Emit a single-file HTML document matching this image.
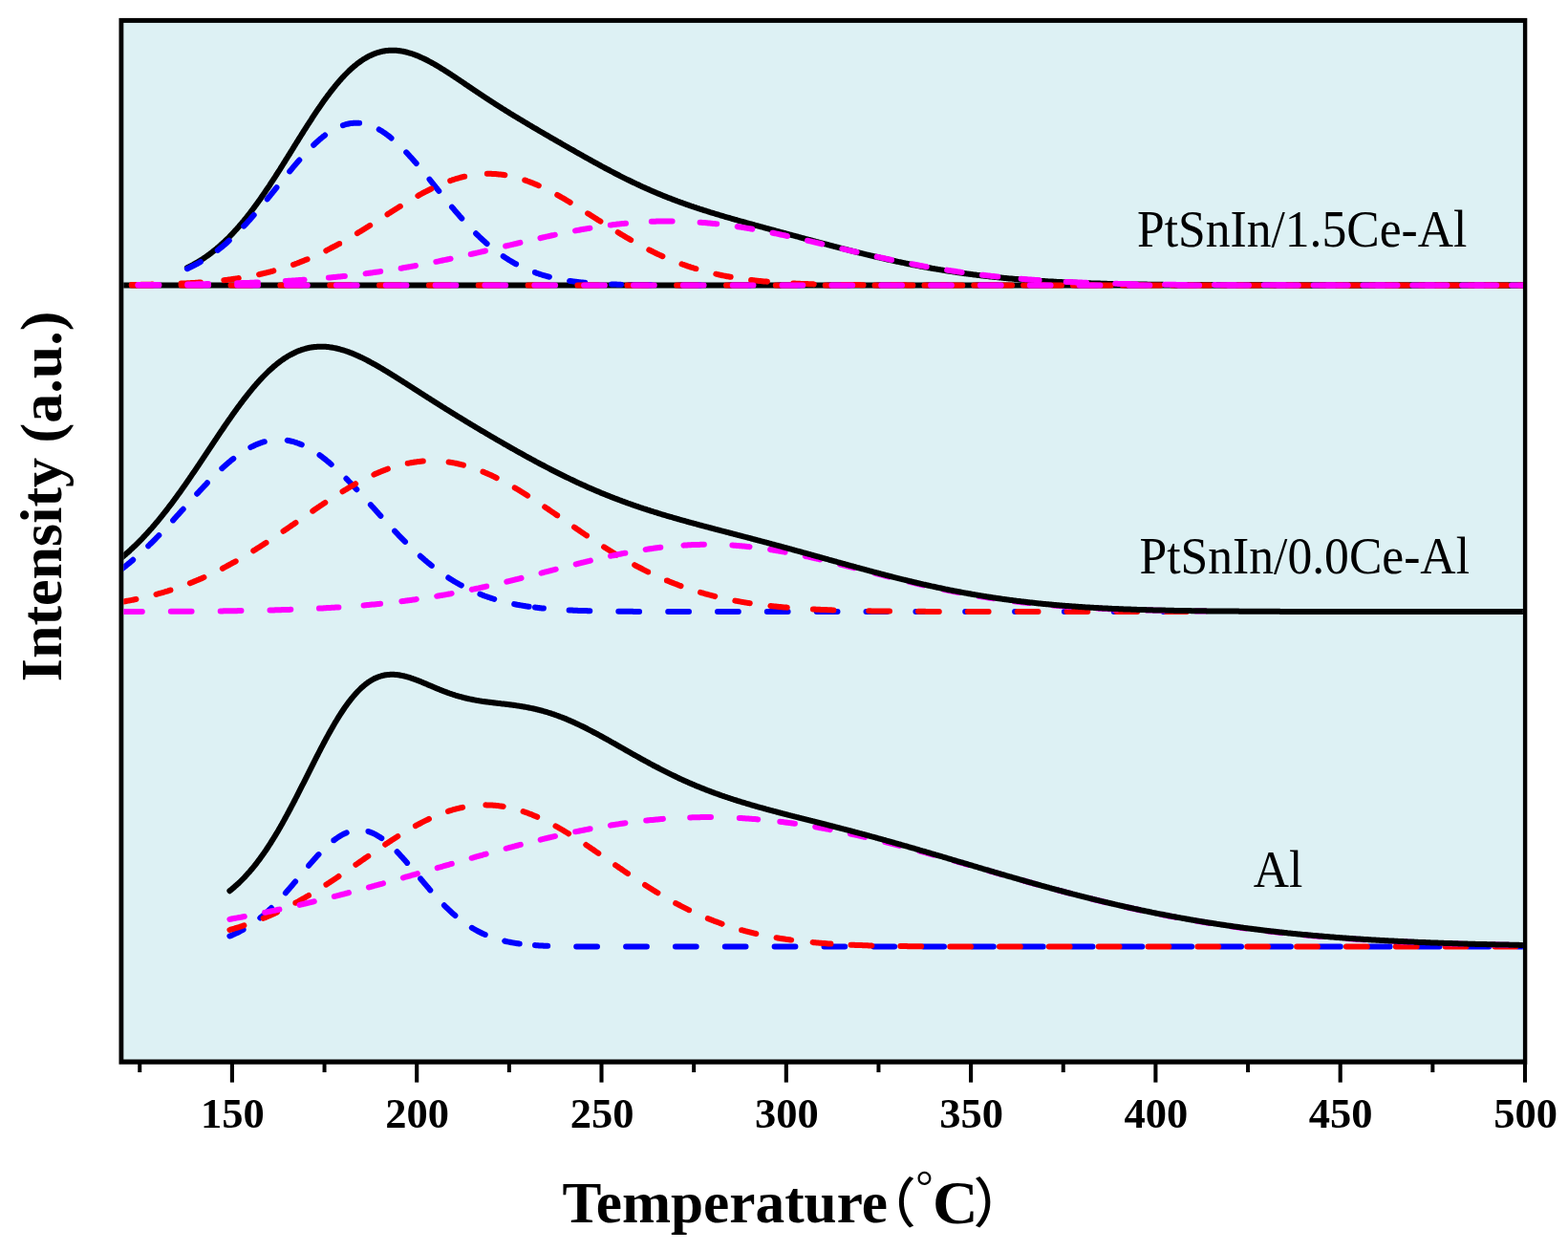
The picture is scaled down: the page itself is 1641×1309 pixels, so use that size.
<!DOCTYPE html>
<html><head><meta charset="utf-8"><title>TPR</title>
<style>
html,body{margin:0;padding:0;background:#fff;}
body{width:1641px;height:1309px;overflow:hidden;}
svg{display:block;}
.tl{font-family:"Liberation Serif",serif;font-weight:bold;font-size:44.5px;text-anchor:middle;fill:#000;}
.lab{font-family:"Liberation Serif",serif;font-size:51.6px;fill:#000;}
.ax{font-family:"Liberation Serif",serif;font-weight:bold;font-size:61.3px;fill:#000;}
.par{font-family:"Noto Sans CJK SC",sans-serif;font-size:56px;font-weight:500;fill:#000;}
.deg{font-family:"Liberation Serif",serif;font-size:46px;fill:#000;}
</style></head><body>
<svg width="1641" height="1309" viewBox="0 0 1641 1309">
<defs><clipPath id="c"><rect x="129.3" y="23.9" width="1464.6" height="1084.6"/></clipPath></defs>
<rect width="1641" height="1309" fill="#fff"/>
<rect x="124.5" y="18.9" width="1473.8" height="1094.8" fill="#000"/>
<rect x="129.3" y="23.9" width="1464.6" height="1084.6" fill="#DDF1F4"/>
<g clip-path="url(#c)" fill="none" stroke-width="6.0" stroke-linecap="round" stroke-linejoin="round">
<path d="M127.0 298.4 L1596.0 298.4" stroke="#000" stroke-linecap="butt"/>
<path d="M195.9 280.1 L196.9 279.6 L197.9 279.1 L198.9 278.6 L199.9 278.1 L200.9 277.6 L201.9 277.1 L202.9 276.5 L203.9 276.0 L204.9 275.4 L205.9 274.8 L206.9 274.2 L207.9 273.6 L208.9 273.0 L209.9 272.4 L210.9 271.8 L211.9 271.1 L212.9 270.5 L213.9 269.8 L214.9 269.1 L215.9 268.4 L216.9 267.7 L217.9 267.0 L218.9 266.3 L219.9 265.5 L220.9 264.8 L221.9 264.0 L222.9 263.2 L223.9 262.4 L224.9 261.6 L225.9 260.8 L226.9 260.0 L227.9 259.1 L228.9 258.3 L229.9 257.4 L230.9 256.5 L231.9 255.6 L232.9 254.7 L233.9 253.8 L234.9 252.9 L235.9 251.9 L236.9 250.9 L237.9 250.0 L238.9 249.0 L239.9 248.0 L240.9 246.9 L241.9 245.9 L242.9 244.9 L243.9 243.8 L244.9 242.7 L245.9 241.6 L246.9 240.5 L247.9 239.4 L248.9 238.3 L249.9 237.2 L250.9 236.0 L251.9 234.8 L252.9 233.7 L253.9 232.5 L254.9 231.3 L255.9 230.0 L256.9 228.8 L257.9 227.6 L258.9 226.3 L259.9 225.0 L260.9 223.8 L261.9 222.5 L262.9 221.2 L263.9 219.8 L264.9 218.5 L265.9 217.2 L266.9 215.8 L267.9 214.4 L268.9 213.1 L269.9 211.7 L270.9 210.3 L271.9 208.9 L272.9 207.5 L273.9 206.0 L274.9 204.6 L275.9 203.1 L276.9 201.7 L277.9 200.2 L278.9 198.7 L279.9 197.2 L280.9 195.8 L281.9 194.3 L282.9 192.7 L283.9 191.2 L284.9 189.7 L285.9 188.2 L286.9 186.6 L287.9 185.1 L288.9 183.5 L289.9 182.0 L290.9 180.4 L291.9 178.8 L292.9 177.3 L293.9 175.7 L294.9 174.1 L295.9 172.5 L296.9 170.9 L297.9 169.3 L298.9 167.7 L299.9 166.1 L300.9 164.5 L301.9 162.9 L302.9 161.3 L303.9 159.7 L304.9 158.1 L305.9 156.5 L306.9 154.9 L307.9 153.2 L308.9 151.6 L309.9 150.0 L310.9 148.4 L311.9 146.8 L312.9 145.2 L313.9 143.6 L314.9 142.0 L315.9 140.4 L316.9 138.8 L317.9 137.2 L318.9 135.7 L319.9 134.1 L320.9 132.5 L321.9 130.9 L322.9 129.4 L323.9 127.8 L324.9 126.3 L325.9 124.8 L326.9 123.2 L327.9 121.7 L328.9 120.2 L329.9 118.7 L330.9 117.2 L331.9 115.7 L332.9 114.2 L333.9 112.8 L334.9 111.3 L335.9 109.9 L336.9 108.4 L337.9 107.0 L338.9 105.6 L339.9 104.2 L340.9 102.8 L341.9 101.5 L342.9 100.1 L343.9 98.8 L344.9 97.5 L345.9 96.2 L346.9 94.9 L347.9 93.6 L348.9 92.3 L349.9 91.1 L350.9 89.8 L351.9 88.6 L352.9 87.4 L353.9 86.3 L354.9 85.1 L355.9 84.0 L356.9 82.8 L357.9 81.7 L358.9 80.6 L359.9 79.6 L360.9 78.5 L361.9 77.5 L362.9 76.5 L363.9 75.5 L364.9 74.5 L365.9 73.6 L366.9 72.6 L367.9 71.7 L368.9 70.8 L369.9 70.0 L370.9 69.1 L371.9 68.3 L372.9 67.5 L373.9 66.7 L374.9 65.9 L375.9 65.2 L376.9 64.5 L377.9 63.8 L378.9 63.1 L379.9 62.4 L380.9 61.8 L381.9 61.2 L382.9 60.6 L383.9 60.0 L384.9 59.5 L385.9 58.9 L386.9 58.4 L387.9 58.0 L388.9 57.5 L389.9 57.1 L390.9 56.6 L391.9 56.2 L392.9 55.9 L393.9 55.5 L394.9 55.2 L395.9 54.9 L396.9 54.6 L397.9 54.3 L398.9 54.1 L399.9 53.8 L400.9 53.6 L401.9 53.5 L402.9 53.3 L403.9 53.1 L404.9 53.0 L405.9 52.9 L406.9 52.8 L407.9 52.8 L408.9 52.7 L409.9 52.7 L410.9 52.7 L411.9 52.7 L412.9 52.7 L413.9 52.8 L414.9 52.8 L415.9 52.9 L416.9 53.0 L417.9 53.2 L418.9 53.3 L419.9 53.4 L420.9 53.6 L421.9 53.8 L422.9 54.0 L423.9 54.2 L424.9 54.5 L425.9 54.7 L426.9 55.0 L427.9 55.3 L428.9 55.6 L429.9 55.9 L430.9 56.2 L431.9 56.5 L432.9 56.9 L433.9 57.2 L434.9 57.6 L435.9 58.0 L436.9 58.4 L437.9 58.8 L438.9 59.2 L439.9 59.7 L440.9 60.1 L441.9 60.6 L442.9 61.1 L443.9 61.5 L444.9 62.0 L445.9 62.5 L446.9 63.0 L447.9 63.5 L448.9 64.1 L449.9 64.6 L450.9 65.1 L451.9 65.7 L452.9 66.2 L453.9 66.8 L454.9 67.4 L455.9 68.0 L456.9 68.5 L457.9 69.1 L458.9 69.7 L459.9 70.3 L460.9 71.0 L461.9 71.6 L462.9 72.2 L463.9 72.8 L464.9 73.4 L465.9 74.1 L466.9 74.7 L467.9 75.3 L468.9 76.0 L469.9 76.6 L470.9 77.3 L471.9 77.9 L472.9 78.6 L473.9 79.3 L474.9 79.9 L475.9 80.6 L476.9 81.2 L477.9 81.9 L478.9 82.6 L479.9 83.3 L480.9 83.9 L481.9 84.6 L482.9 85.3 L483.9 85.9 L484.9 86.6 L485.9 87.3 L486.9 88.0 L487.9 88.7 L488.9 89.3 L489.9 90.0 L490.9 90.7 L491.9 91.4 L492.9 92.0 L493.9 92.7 L494.9 93.4 L495.9 94.1 L496.9 94.7 L497.9 95.4 L498.9 96.1 L499.9 96.7 L500.9 97.4 L501.9 98.1 L502.9 98.7 L503.9 99.4 L504.9 100.1 L505.9 100.7 L506.9 101.4 L507.9 102.1 L508.9 102.7 L509.9 103.4 L510.9 104.0 L511.9 104.7 L512.9 105.3 L513.9 106.0 L514.9 106.6 L515.9 107.3 L516.9 107.9 L517.9 108.6 L518.9 109.2 L519.9 109.9 L520.9 110.5 L521.9 111.1 L522.9 111.8 L523.9 112.4 L524.9 113.0 L525.9 113.7 L526.9 114.3 L527.9 114.9 L528.9 115.5 L529.9 116.2 L530.9 116.8 L531.9 117.4 L532.9 118.0 L533.9 118.7 L534.9 119.3 L535.9 119.9 L536.9 120.5 L537.9 121.1 L538.9 121.7 L539.9 122.3 L540.9 122.9 L541.9 123.5 L542.9 124.1 L543.9 124.7 L544.9 125.3 L545.9 125.9 L546.9 126.5 L547.9 127.1 L548.9 127.7 L549.9 128.3 L550.9 128.9 L551.9 129.5 L552.9 130.1 L553.9 130.7 L554.9 131.3 L555.9 131.9 L556.9 132.5 L557.9 133.1 L558.9 133.7 L559.9 134.3 L560.9 134.8 L561.9 135.4 L562.9 136.0 L563.9 136.6 L564.9 137.2 L565.9 137.8 L566.9 138.4 L567.9 138.9 L568.9 139.5 L569.9 140.1 L570.9 140.7 L571.9 141.3 L572.9 141.8 L573.9 142.4 L574.9 143.0 L575.9 143.6 L576.9 144.2 L577.9 144.7 L578.9 145.3 L579.9 145.9 L580.9 146.5 L581.9 147.0 L582.9 147.6 L583.9 148.2 L584.9 148.8 L585.9 149.3 L586.9 149.9 L587.9 150.5 L588.9 151.1 L589.9 151.6 L590.9 152.2 L591.9 152.8 L592.9 153.4 L593.9 153.9 L594.9 154.5 L595.9 155.1 L596.9 155.6 L597.9 156.2 L598.9 156.8 L599.9 157.3 L600.9 157.9 L601.9 158.5 L602.9 159.1 L603.9 159.6 L604.9 160.2 L605.9 160.7 L606.9 161.3 L607.9 161.9 L608.9 162.4 L609.9 163.0 L610.9 163.6 L611.9 164.1 L612.9 164.7 L613.9 165.2 L614.9 165.8 L615.9 166.4 L616.9 166.9 L617.9 167.5 L618.9 168.0 L619.9 168.6 L620.9 169.1 L621.9 169.7 L622.9 170.2 L623.9 170.8 L624.9 171.3 L625.9 171.9 L626.9 172.4 L627.9 173.0 L628.9 173.5 L629.9 174.1 L630.9 174.6 L631.9 175.1 L632.9 175.7 L633.9 176.2 L634.9 176.7 L635.9 177.3 L636.9 177.8 L637.9 178.3 L638.9 178.9 L639.9 179.4 L640.9 179.9 L641.9 180.4 L642.9 181.0 L643.9 181.5 L644.9 182.0 L645.9 182.5 L646.9 183.0 L647.9 183.5 L648.9 184.1 L649.9 184.6 L650.9 185.1 L651.9 185.6 L652.9 186.1 L653.9 186.6 L654.9 187.1 L655.9 187.6 L656.9 188.1 L657.9 188.5 L658.9 189.0 L659.9 189.5 L660.9 190.0 L661.9 190.5 L662.9 191.0 L663.9 191.4 L664.9 191.9 L665.9 192.4 L666.9 192.9 L667.9 193.3 L668.9 193.8 L669.9 194.3 L670.9 194.7 L671.9 195.2 L672.9 195.6 L673.9 196.1 L674.9 196.5 L675.9 197.0 L676.9 197.4 L677.9 197.9 L678.9 198.3 L679.9 198.8 L680.9 199.2 L681.9 199.6 L682.9 200.1 L683.9 200.5 L684.9 200.9 L685.9 201.4 L686.9 201.8 L687.9 202.2 L688.9 202.6 L689.9 203.0 L690.9 203.4 L691.9 203.9 L692.9 204.3 L693.9 204.7 L694.9 205.1 L695.9 205.5 L696.9 205.9 L697.9 206.3 L698.9 206.7 L699.9 207.1 L700.9 207.4 L701.9 207.8 L702.9 208.2 L703.9 208.6 L704.9 209.0 L705.9 209.4 L706.9 209.7 L707.9 210.1 L708.9 210.5 L709.9 210.8 L710.9 211.2 L711.9 211.6 L712.9 211.9 L713.9 212.3 L714.9 212.7 L715.9 213.0 L716.9 213.4 L717.9 213.7 L718.9 214.1 L719.9 214.4 L720.9 214.8 L721.9 215.1 L722.9 215.5 L723.9 215.8 L724.9 216.1 L725.9 216.5 L726.9 216.8 L727.9 217.1 L728.9 217.5 L729.9 217.8 L730.9 218.1 L731.9 218.5 L732.9 218.8 L733.9 219.1 L734.9 219.4 L735.9 219.8 L736.9 220.1 L737.9 220.4 L738.9 220.7 L739.9 221.0 L740.9 221.3 L741.9 221.6 L742.9 222.0 L743.9 222.3 L744.9 222.6 L745.9 222.9 L746.9 223.2 L747.9 223.5 L748.9 223.8 L749.9 224.1 L750.9 224.4 L751.9 224.7 L752.9 225.0 L753.9 225.3 L754.9 225.6 L755.9 225.9 L756.9 226.2 L757.9 226.5 L758.9 226.8 L759.9 227.1 L760.9 227.4 L761.9 227.6 L762.9 227.9 L763.9 228.2 L764.9 228.5 L765.9 228.8 L766.9 229.1 L767.9 229.4 L768.9 229.7 L769.9 229.9 L770.9 230.2 L771.9 230.5 L772.9 230.8 L773.9 231.1 L774.9 231.4 L775.9 231.6 L776.9 231.9 L777.9 232.2 L778.9 232.5 L779.9 232.7 L780.9 233.0 L781.9 233.3 L782.9 233.6 L783.9 233.9 L784.9 234.1 L785.9 234.4 L786.9 234.7 L787.9 235.0 L788.9 235.2 L789.9 235.5 L790.9 235.8 L791.9 236.1 L792.9 236.3 L793.9 236.6 L794.9 236.9 L795.9 237.2 L796.9 237.4 L797.9 237.7 L798.9 238.0 L799.9 238.3 L800.9 238.5 L801.9 238.8 L802.9 239.1 L803.9 239.3 L804.9 239.6 L805.9 239.9 L806.9 240.2 L807.9 240.4 L808.9 240.7 L809.9 241.0 L810.9 241.2 L811.9 241.5 L812.9 241.8 L813.9 242.1 L814.9 242.3 L815.9 242.6 L816.9 242.9 L817.9 243.1 L818.9 243.4 L819.9 243.7 L820.9 243.9 L821.9 244.2 L822.9 244.5 L823.9 244.8 L824.9 245.0 L825.9 245.3 L826.9 245.6 L827.9 245.8 L828.9 246.1 L829.9 246.4 L830.9 246.6 L831.9 246.9 L832.9 247.2 L833.9 247.4 L834.9 247.7 L835.9 248.0 L836.9 248.3 L837.9 248.5 L838.9 248.8 L839.9 249.1 L840.9 249.3 L841.9 249.6 L842.9 249.9 L843.9 250.1 L844.9 250.4 L845.9 250.7 L846.9 250.9 L847.9 251.2 L848.9 251.5 L849.9 251.7 L850.9 252.0 L851.9 252.3 L852.9 252.5 L853.9 252.8 L854.9 253.1 L855.9 253.3 L856.9 253.6 L857.9 253.9 L858.9 254.1 L859.9 254.4 L860.9 254.7 L861.9 254.9 L862.9 255.2 L863.9 255.4 L864.9 255.7 L865.9 256.0 L866.9 256.2 L867.9 256.5 L868.9 256.8 L869.9 257.0 L870.9 257.3 L871.9 257.5 L872.9 257.8 L873.9 258.1 L874.9 258.3 L875.9 258.6 L876.9 258.8 L877.9 259.1 L878.9 259.4 L879.9 259.6 L880.9 259.9 L881.9 260.1 L882.9 260.4 L883.9 260.6 L884.9 260.9 L885.9 261.1 L886.9 261.4 L887.9 261.7 L888.9 261.9 L889.9 262.2 L890.9 262.4 L891.9 262.7 L892.9 262.9 L893.9 263.2 L894.9 263.4 L895.9 263.7 L896.9 263.9 L897.9 264.2 L898.9 264.4 L899.9 264.7 L900.9 264.9 L901.9 265.1 L902.9 265.4 L903.9 265.6 L904.9 265.9 L905.9 266.1 L906.9 266.4 L907.9 266.6 L908.9 266.8 L909.9 267.1 L910.9 267.3 L911.9 267.6 L912.9 267.8 L913.9 268.0 L914.9 268.3 L915.9 268.5 L916.9 268.7 L917.9 269.0 L918.9 269.2 L919.9 269.4 L920.9 269.7 L921.9 269.9 L922.9 270.1 L923.9 270.4 L924.9 270.6 L925.9 270.8 L926.9 271.0 L927.9 271.3 L928.9 271.5 L929.9 271.7 L930.9 271.9 L931.9 272.1 L932.9 272.4 L933.9 272.6 L934.9 272.8 L935.9 273.0 L936.9 273.2 L937.9 273.5 L938.9 273.7 L939.9 273.9 L940.9 274.1 L941.9 274.3 L942.9 274.5 L943.9 274.7 L944.9 274.9 L945.9 275.1 L946.9 275.3 L947.9 275.6 L948.9 275.8 L949.9 276.0 L950.9 276.2 L951.9 276.4 L952.9 276.6 L953.9 276.8 L954.9 277.0 L955.9 277.2 L956.9 277.4 L957.9 277.6 L958.9 277.7 L959.9 277.9 L960.9 278.1 L961.9 278.3 L962.9 278.5 L963.9 278.7 L964.9 278.9 L965.9 279.1 L966.9 279.3 L967.9 279.4 L968.9 279.6 L969.9 279.8 L970.9 280.0 L971.9 280.2 L972.9 280.3 L973.9 280.5 L974.9 280.7 L975.9 280.9 L976.9 281.0 L977.9 281.2 L978.9 281.4 L979.9 281.6 L980.9 281.7 L981.9 281.9 L982.9 282.1 L983.9 282.2 L984.9 282.4 L985.9 282.6 L986.9 282.7 L987.9 282.9 L988.9 283.1 L989.9 283.2 L990.9 283.4 L991.9 283.5 L992.9 283.7 L993.9 283.8 L994.9 284.0 L995.9 284.1 L996.9 284.3 L997.9 284.4 L998.9 284.6 L999.9 284.7 L1000.9 284.9 L1001.9 285.0 L1002.9 285.2 L1003.9 285.3 L1004.9 285.5 L1005.9 285.6 L1006.9 285.8 L1007.9 285.9 L1008.9 286.0 L1009.9 286.2 L1010.9 286.3 L1011.9 286.4 L1012.9 286.6 L1013.9 286.7 L1014.9 286.8 L1015.9 287.0 L1016.9 287.1 L1017.9 287.2 L1018.9 287.4 L1019.9 287.5 L1020.9 287.6 L1021.9 287.7 L1022.9 287.9 L1023.9 288.0 L1024.9 288.1 L1025.9 288.2 L1026.9 288.3 L1027.9 288.5 L1028.9 288.6 L1029.9 288.7 L1030.9 288.8 L1031.9 288.9 L1032.9 289.0 L1033.9 289.1 L1034.9 289.3 L1035.9 289.4 L1036.9 289.5 L1037.9 289.6 L1038.9 289.7 L1039.9 289.8 L1040.9 289.9 L1041.9 290.0 L1042.9 290.1 L1043.9 290.2 L1044.9 290.3 L1045.9 290.4 L1046.9 290.5 L1047.9 290.6 L1048.9 290.7 L1049.9 290.8 L1050.9 290.9 L1051.9 291.0 L1052.9 291.1 L1053.9 291.2 L1054.9 291.3 L1055.9 291.4 L1056.9 291.5 L1057.9 291.5 L1058.9 291.6 L1059.9 291.7 L1060.9 291.8 L1061.9 291.9 L1062.9 292.0 L1063.9 292.1 L1064.9 292.1 L1065.9 292.2 L1066.9 292.3 L1067.9 292.4 L1068.9 292.5 L1069.9 292.5 L1070.9 292.6 L1071.9 292.7 L1072.9 292.8 L1073.9 292.8 L1074.9 292.9 L1075.9 293.0 L1076.9 293.1 L1077.9 293.1 L1078.9 293.2 L1079.9 293.3 L1080.9 293.4 L1081.9 293.4 L1082.9 293.5 L1083.9 293.6 L1084.9 293.6 L1085.9 293.7 L1086.9 293.8 L1087.9 293.8 L1088.9 293.9 L1089.9 293.9 L1090.9 294.0 L1091.9 294.1 L1092.9 294.1 L1093.9 294.2 L1094.9 294.3 L1095.9 294.3 L1096.9 294.4 L1097.9 294.4 L1098.9 294.5 L1099.9 294.5 L1100.9 294.6 L1101.9 294.6 L1102.9 294.7 L1103.9 294.8 L1104.9 294.8 L1105.9 294.9 L1106.9 294.9 L1107.9 295.0 L1108.9 295.0 L1109.9 295.1 L1110.9 295.1 L1111.9 295.2 L1112.9 295.2 L1113.9 295.3 L1114.9 295.3 L1115.9 295.3 L1116.9 295.4 L1117.9 295.4 L1118.9 295.5 L1119.9 295.5 L1120.9 295.6 L1121.9 295.6 L1122.9 295.7 L1123.9 295.7 L1124.9 295.7 L1125.9 295.8 L1126.9 295.8 L1127.9 295.9 L1128.9 295.9 L1129.9 295.9 L1130.9 296.0 L1131.9 296.0 L1132.9 296.0 L1133.9 296.1 L1134.9 296.1 L1135.9 296.2 L1136.9 296.2 L1137.9 296.2 L1138.9 296.3 L1139.9 296.3 L1140.9 296.3 L1141.9 296.4 L1142.9 296.4 L1143.9 296.4 L1144.9 296.5 L1145.9 296.5 L1146.9 296.5 L1147.9 296.5 L1148.9 296.6 L1149.9 296.6 L1150.9 296.6 L1151.9 296.7 L1152.9 296.7 L1153.9 296.7 L1154.9 296.7 L1155.9 296.8 L1156.9 296.8 L1157.9 296.8 L1158.9 296.9 L1159.9 296.9 L1160.9 296.9 L1161.9 296.9 L1162.9 297.0 L1163.9 297.0 L1164.9 297.0 L1165.9 297.0 L1166.9 297.0 L1167.9 297.1 L1168.9 297.1 L1169.9 297.1 L1170.9 297.1 L1171.9 297.2 L1172.9 297.2 L1173.9 297.2 L1174.9 297.2 L1175.9 297.2 L1176.9 297.3 L1177.9 297.3 L1178.9 297.3 L1179.9 297.3 L1180.9 297.3 L1181.9 297.4 L1182.9 297.4 L1183.9 297.4 L1184.9 297.4 L1185.9 297.4 L1186.9 297.4 L1187.9 297.5 L1188.9 297.5 L1189.9 297.5 L1190.9 297.5 L1191.9 297.5 L1192.9 297.5 L1193.9 297.6 L1194.9 297.6 L1195.9 297.6 L1196.9 297.6 L1197.9 297.6 L1198.9 297.6 L1199.9 297.6 L1200.9 297.7 L1201.9 297.7 L1202.9 297.7 L1203.9 297.7 L1204.9 297.7 L1205.9 297.7 L1206.9 297.7 L1207.9 297.7 L1208.9 297.8 L1209.9 297.8 L1210.9 297.8 L1211.9 297.8 L1212.9 297.8 L1213.9 297.8 L1214.9 297.8 L1215.9 297.8 L1216.9 297.8 L1217.9 297.9 L1218.9 297.9 L1219.9 297.9 L1220.9 297.9 L1221.9 297.9 L1222.9 297.9 L1223.9 297.9 L1224.9 297.9 L1225.9 297.9 L1226.9 297.9 L1227.9 297.9 L1228.9 298.0 L1229.9 298.0 L1230.9 298.0 L1231.9 298.0 L1232.9 298.0 L1233.9 298.0 L1234.9 298.0 L1235.9 298.0 L1236.9 298.0 L1237.9 298.0 L1238.9 298.0 L1239.9 298.0 L1240.9 298.0 L1241.9 298.1 L1242.9 298.1 L1243.9 298.1 L1244.9 298.1 L1245.9 298.1 L1246.9 298.1 L1247.9 298.1 L1248.9 298.1 L1249.9 298.1 L1250.9 298.1 L1251.9 298.1 L1252.9 298.1 L1253.9 298.1 L1254.9 298.1 L1255.9 298.1 L1256.9 298.1 L1257.9 298.1 L1258.9 298.2 L1259.9 298.2 L1260.9 298.2 L1261.9 298.2 L1262.9 298.2 L1263.9 298.2 L1264.9 298.2 L1265.9 298.2 L1266.9 298.2 L1267.9 298.2 L1268.9 298.2 L1269.9 298.2 L1270.9 298.2 L1271.9 298.2 L1272.9 298.2 L1273.9 298.2 L1274.9 298.2 L1275.9 298.2 L1276.9 298.2 L1277.9 298.2 L1278.9 298.2 L1279.9 298.2 L1280.9 298.2 L1281.9 298.2 L1282.9 298.2 L1283.9 298.3 L1284.9 298.3 L1285.9 298.3 L1286.9 298.3 L1287.9 298.3 L1288.9 298.3 L1289.9 298.3 L1290.9 298.3 L1291.9 298.3 L1292.9 298.3 L1293.9 298.3 L1294.9 298.3 L1295.9 298.3 L1296.9 298.3 L1297.9 298.3 L1298.9 298.3 L1299.9 298.3 L1300.9 298.3 L1301.9 298.3 L1302.9 298.3 L1303.9 298.3 L1304.9 298.3 L1305.9 298.3 L1306.9 298.3 L1307.9 298.3 L1308.9 298.3 L1309.9 298.3 L1310.9 298.3 L1311.9 298.3 L1312.9 298.3 L1313.9 298.3 L1314.9 298.3 L1315.9 298.3 L1316.9 298.3 L1317.9 298.3 L1318.9 298.3 L1319.9 298.3 L1320.9 298.3 L1321.9 298.3 L1322.9 298.3 L1323.9 298.3 L1324.9 298.3 L1325.9 298.3 L1326.9 298.3 L1327.9 298.3 L1328.9 298.3 L1329.9 298.3 L1330.9 298.3 L1331.9 298.3 L1332.9 298.3 L1333.9 298.4 L1334.9 298.4 L1335.9 298.4 L1336.9 298.4 L1337.9 298.4 L1338.9 298.4 L1339.9 298.4 L1340.9 298.4 L1341.9 298.4 L1342.9 298.4 L1343.9 298.4 L1344.9 298.4 L1345.9 298.4 L1346.9 298.4 L1347.9 298.4 L1348.9 298.4 L1349.9 298.4 L1350.9 298.4 L1351.9 298.4 L1352.9 298.4 L1353.9 298.4 L1354.9 298.4 L1355.9 298.4 L1356.9 298.4 L1357.9 298.4 L1358.9 298.4 L1359.9 298.4 L1360.9 298.4 L1361.9 298.4 L1362.9 298.4 L1363.9 298.4 L1364.9 298.4 L1365.9 298.4 L1366.9 298.4 L1367.9 298.4 L1368.9 298.4 L1369.9 298.4 L1370.9 298.4 L1371.9 298.4 L1372.9 298.4 L1373.9 298.4 L1374.9 298.4 L1375.9 298.4 L1376.9 298.4 L1377.9 298.4 L1378.9 298.4 L1379.9 298.4 L1380.9 298.4 L1381.9 298.4 L1382.9 298.4 L1383.9 298.4 L1384.9 298.4 L1385.9 298.4 L1386.9 298.4 L1387.9 298.4 L1388.9 298.4 L1389.9 298.4 L1390.9 298.4 L1391.9 298.4 L1392.9 298.4 L1393.9 298.4 L1394.9 298.4 L1395.9 298.4 L1396.9 298.4 L1397.9 298.4 L1398.9 298.4 L1399.9 298.4 L1400.9 298.4 L1401.9 298.4 L1402.9 298.4 L1403.9 298.4 L1404.9 298.4 L1405.9 298.4 L1406.9 298.4 L1407.9 298.4 L1408.9 298.4 L1409.9 298.4 L1410.9 298.4 L1411.9 298.4 L1412.9 298.4 L1413.9 298.4 L1414.9 298.4 L1415.9 298.4 L1416.9 298.4 L1417.9 298.4 L1418.9 298.4 L1419.9 298.4 L1420.9 298.4 L1421.9 298.4 L1422.9 298.4 L1423.9 298.4 L1424.9 298.4 L1425.9 298.4 L1426.9 298.4 L1427.9 298.4 L1428.9 298.4 L1429.9 298.4 L1430.9 298.4 L1431.9 298.4 L1432.9 298.4 L1433.9 298.4 L1434.9 298.4 L1435.9 298.4 L1436.9 298.4 L1437.9 298.4 L1438.9 298.4 L1439.9 298.4 L1440.9 298.4 L1441.9 298.4 L1442.9 298.4 L1443.9 298.4 L1444.9 298.4 L1445.9 298.4 L1446.9 298.4 L1447.9 298.4 L1448.9 298.4 L1449.9 298.4 L1450.9 298.4 L1451.9 298.4 L1452.9 298.4 L1453.9 298.4 L1454.9 298.4 L1455.9 298.4 L1456.9 298.4 L1457.9 298.4 L1458.9 298.4 L1459.9 298.4 L1460.9 298.4 L1461.9 298.4 L1462.9 298.4 L1463.9 298.4 L1464.9 298.4 L1465.9 298.4 L1466.9 298.4 L1467.9 298.4 L1468.9 298.4 L1469.9 298.4 L1470.9 298.4 L1471.9 298.4 L1472.9 298.4 L1473.9 298.4 L1474.9 298.4 L1475.9 298.4 L1476.9 298.4 L1477.9 298.4 L1478.9 298.4 L1479.9 298.4 L1480.9 298.4 L1481.9 298.4 L1482.9 298.4 L1483.9 298.4 L1484.9 298.4 L1485.9 298.4 L1486.9 298.4 L1487.9 298.4 L1488.9 298.4 L1489.9 298.4 L1490.9 298.4 L1491.9 298.4 L1492.9 298.4 L1493.9 298.4 L1494.9 298.4 L1495.9 298.4 L1496.9 298.4 L1497.9 298.4 L1498.9 298.4 L1499.9 298.4 L1500.9 298.4 L1501.9 298.4 L1502.9 298.4 L1503.9 298.4 L1504.9 298.4 L1505.9 298.4 L1506.9 298.4 L1507.9 298.4 L1508.9 298.4 L1509.9 298.4 L1510.9 298.4 L1511.9 298.4 L1512.9 298.4 L1513.9 298.4 L1514.9 298.4 L1515.9 298.4 L1516.9 298.4 L1517.9 298.4 L1518.9 298.4 L1519.9 298.4 L1520.9 298.4 L1521.9 298.4 L1522.9 298.4 L1523.9 298.4 L1524.9 298.4 L1525.9 298.4 L1526.9 298.4 L1527.9 298.4 L1528.9 298.4 L1529.9 298.4 L1530.9 298.4 L1531.9 298.4 L1532.9 298.4 L1533.9 298.4 L1534.9 298.4 L1535.9 298.4 L1536.9 298.4 L1537.9 298.4 L1538.9 298.4 L1539.9 298.4 L1540.9 298.4 L1541.9 298.4 L1542.9 298.4 L1543.9 298.4 L1544.9 298.4 L1545.9 298.4 L1546.9 298.4 L1547.9 298.4 L1548.9 298.4 L1549.9 298.4 L1550.9 298.4 L1551.9 298.4 L1552.9 298.4 L1553.9 298.4 L1554.9 298.4 L1555.9 298.4 L1556.9 298.4 L1557.9 298.4 L1558.9 298.4 L1559.9 298.4 L1560.9 298.4 L1561.9 298.4 L1562.9 298.4 L1563.9 298.4 L1564.9 298.4 L1565.9 298.4 L1566.9 298.4 L1567.9 298.4 L1568.9 298.4 L1569.9 298.4 L1570.9 298.4 L1571.9 298.4 L1572.9 298.4 L1573.9 298.4 L1574.9 298.4 L1575.9 298.4 L1576.9 298.4 L1577.9 298.4 L1578.9 298.4 L1579.9 298.4 L1580.9 298.4 L1581.9 298.4 L1582.9 298.4 L1583.9 298.4 L1584.9 298.4 L1585.9 298.4 L1586.9 298.4 L1587.9 298.4 L1588.9 298.4 L1589.9 298.4 L1590.9 298.4 L1591.9 298.4 L1592.9 298.4 L1593.9 298.4 L1594.9 298.4 L1595.9 298.4 L1596.0 298.4" stroke="#000000"/>
<path d="M195.9 281.2 L196.9 280.7 L197.9 280.2 L198.9 279.8 L199.9 279.3 L200.9 278.8 L201.9 278.3 L202.9 277.8 L203.9 277.3 L204.9 276.8 L205.9 276.2 L206.9 275.7 L207.9 275.1 L208.9 274.6 L209.9 274.0M227.8 261.9 L227.9 261.8 L228.9 261.0 L229.9 260.2 L230.9 259.4 L231.9 258.6 L232.9 257.8 L233.9 257.0 L234.9 256.1 L235.9 255.3 L236.9 254.4 L237.9 253.5 L238.9 252.6 L239.8 251.8M255.2 236.6 L255.9 235.9 L256.9 234.8 L257.9 233.8 L258.9 232.7 L259.9 231.6 L260.9 230.5 L261.9 229.4 L262.9 228.2 L263.9 227.1 L264.9 226.0 L265.7 225.0M279.7 208.4 L279.9 208.1 L280.9 206.9 L281.9 205.7 L282.9 204.4 L283.9 203.2 L284.9 202.0 L285.9 200.7 L286.9 199.5 L287.9 198.2 L288.9 197.0 L289.5 196.2M303.2 179.4 L303.9 178.5 L304.9 177.3 L305.9 176.1 L306.9 174.9 L307.9 173.7 L308.9 172.6 L309.9 171.4 L310.9 170.2 L311.9 169.1 L312.9 167.9 L313.3 167.5M328.2 151.7 L328.9 151.1 L329.9 150.1 L330.9 149.2 L331.9 148.3 L332.9 147.4 L333.9 146.5 L334.9 145.7 L335.9 144.8 L336.9 144.0 L337.9 143.2 L338.9 142.4 L339.9 141.7 L340.1 141.5M358.9 131.1 L359.9 130.8 L360.9 130.5 L361.9 130.2 L362.9 129.9 L363.9 129.7 L364.9 129.5 L365.9 129.3 L366.9 129.1 L367.9 129.0 L368.9 128.9 L369.9 128.8 L370.9 128.7 L371.9 128.7 L372.9 128.7 L373.9 128.7 L374.9 128.7 L375.9 128.8 L376.1 128.8M396.7 135.5 L396.9 135.6 L397.9 136.2 L398.9 136.8 L399.9 137.4 L400.9 138.1 L401.9 138.8 L402.9 139.4 L403.9 140.1 L404.9 140.9 L405.9 141.6 L406.9 142.4 L407.9 143.2 L408.9 144.0 L409.5 144.5M425.2 159.4 L425.9 160.1 L426.9 161.2 L427.9 162.3 L428.9 163.4 L429.9 164.5 L430.9 165.6 L431.9 166.7 L432.9 167.8 L433.9 169.0 L434.9 170.1 L435.7 171.0M449.5 187.7 L449.9 188.2 L450.9 189.5 L451.9 190.7 L452.9 192.0 L453.9 193.2 L454.9 194.4 L455.9 195.7 L456.9 196.9 L457.9 198.2 L458.9 199.4 L459.3 199.9M473.0 216.7 L473.9 217.7 L474.9 218.9 L475.9 220.1 L476.9 221.3 L477.9 222.4 L478.9 223.6 L479.9 224.7 L480.9 225.9 L481.9 227.0 L482.9 228.2 L483.3 228.6M498.1 244.3 L498.9 245.1 L499.9 246.1 L500.9 247.0 L501.9 248.0 L502.9 248.9 L503.9 249.8 L504.9 250.8 L505.9 251.7 L506.9 252.6 L507.9 253.5 L508.9 254.4 L509.6 255.0M526.7 268.2 L526.9 268.3 L527.9 269.0 L528.9 269.6 L529.9 270.3 L530.9 270.9 L531.9 271.5 L532.9 272.2 L533.9 272.8 L534.9 273.4 L535.9 274.0 L536.9 274.5 L537.9 275.1 L538.9 275.7 L539.9 276.2 L540.1 276.3M559.9 285.1 L559.9 285.2 L560.9 285.5 L561.9 285.9 L562.9 286.2 L563.9 286.5 L564.9 286.9 L565.9 287.2 L566.9 287.5 L567.9 287.8 L568.9 288.1 L569.9 288.4 L570.9 288.7 L571.9 289.0 L572.9 289.2 L573.9 289.5 L574.9 289.7M596.1 293.9 L596.9 294.0 L597.9 294.2 L598.9 294.3 L599.9 294.4 L600.9 294.6 L601.9 294.7 L602.9 294.8 L603.9 294.9 L604.9 295.1 L605.9 295.2 L606.9 295.3 L607.9 295.4 L608.9 295.5 L609.9 295.6 L610.9 295.7 L611.9 295.8 L612.3 295.8M640.1 297.5 L640.9 297.5 L641.9 297.5 L642.9 297.6 L643.9 297.6 L644.9 297.6 L645.9 297.7 L646.9 297.7 L647.9 297.7 L648.9 297.7 L649.9 297.8 L650.0 297.8" stroke="#0000FF"/>
<path d="M659.3 298.0 L660.0 298.0 L661.0 298.0 L662.0 298.0 L663.0 298.0 L664.0 298.0 L665.0 298.1 L666.0 298.1 L667.0 298.1 L668.0 298.1 L669.0 298.1 L670.0 298.1 L671.0 298.1 L672.0 298.2 L673.0 298.2 L674.0 298.2 L675.0 298.2 L676.0 298.2 L677.0 298.2 L678.0 298.2 L679.0 298.2 L680.0 298.2 L681.0 298.2 L681.1 298.2M711.1 298.4 L712.0 298.4 L713.0 298.4 L714.0 298.4 L715.0 298.4 L716.0 298.4 L717.0 298.4 L718.0 298.4 L719.0 298.4 L720.0 298.4 L721.0 298.4 L722.0 298.4 L723.0 298.4 L724.0 298.4 L725.0 298.4 L726.0 298.4 L727.0 298.4 L728.0 298.4 L729.0 298.4 L730.0 298.4 L731.0 298.4 L732.0 298.4 L732.9 298.4M763.0 298.4 L763.0 298.4 L764.0 298.4 L765.0 298.4 L766.0 298.4 L767.0 298.4 L768.0 298.4 L769.0 298.4 L770.0 298.4 L771.0 298.4 L772.0 298.4 L773.0 298.4 L774.0 298.4 L775.0 298.4 L776.0 298.4 L777.0 298.4 L778.0 298.4 L779.0 298.4 L780.0 298.4 L781.0 298.4 L782.0 298.4 L783.0 298.4 L784.0 298.4 L784.8 298.4M814.8 298.4 L815.0 298.4 L816.0 298.4 L817.0 298.4 L818.0 298.4 L819.0 298.4 L820.0 298.4 L821.0 298.4 L822.0 298.4 L823.0 298.4 L824.0 298.4 L825.0 298.4 L826.0 298.4 L827.0 298.4 L828.0 298.4 L829.0 298.4 L830.0 298.4 L831.0 298.4 L832.0 298.4 L833.0 298.4 L834.0 298.4 L835.0 298.4 L836.0 298.4 L836.6 298.4M866.7 298.4 L867.0 298.4 L868.0 298.4 L869.0 298.4 L870.0 298.4 L871.0 298.4 L872.0 298.4 L873.0 298.4 L874.0 298.4 L875.0 298.4 L876.0 298.4 L877.0 298.4 L878.0 298.4 L879.0 298.4 L880.0 298.4 L881.0 298.4 L882.0 298.4 L883.0 298.4 L884.0 298.4 L885.0 298.4 L886.0 298.4 L887.0 298.4 L888.0 298.4 L888.5 298.4M918.5 298.4 L919.0 298.4 L920.0 298.4 L921.0 298.4 L922.0 298.4 L923.0 298.4 L924.0 298.4 L925.0 298.4 L926.0 298.4 L927.0 298.4 L928.0 298.4 L929.0 298.4 L930.0 298.4 L931.0 298.4 L932.0 298.4 L933.0 298.4 L934.0 298.4 L935.0 298.4 L936.0 298.4 L937.0 298.4 L938.0 298.4 L939.0 298.4 L940.0 298.4 L940.3 298.4M970.4 298.4 L971.0 298.4 L972.0 298.4 L973.0 298.4 L974.0 298.4 L975.0 298.4 L976.0 298.4 L977.0 298.4 L978.0 298.4 L979.0 298.4 L980.0 298.4 L981.0 298.4 L982.0 298.4 L983.0 298.4 L984.0 298.4 L985.0 298.4 L986.0 298.4 L987.0 298.4 L988.0 298.4 L989.0 298.4 L990.0 298.4 L991.0 298.4 L992.0 298.4 L992.2 298.4M1022.2 298.4 L1023.0 298.4 L1024.0 298.4 L1025.0 298.4 L1026.0 298.4 L1027.0 298.4 L1028.0 298.4 L1029.0 298.4 L1030.0 298.4 L1031.0 298.4 L1032.0 298.4 L1033.0 298.4 L1034.0 298.4 L1035.0 298.4 L1036.0 298.4 L1037.0 298.4 L1038.0 298.4 L1039.0 298.4 L1040.0 298.4 L1041.0 298.4 L1042.0 298.4 L1043.0 298.4 L1044.0 298.4 L1044.0 298.4M1074.1 298.4 L1075.0 298.4 L1076.0 298.4 L1077.0 298.4 L1078.0 298.4 L1079.0 298.4 L1080.0 298.4 L1081.0 298.4 L1082.0 298.4 L1083.0 298.4 L1084.0 298.4 L1085.0 298.4 L1086.0 298.4 L1087.0 298.4 L1088.0 298.4 L1089.0 298.4 L1090.0 298.4 L1091.0 298.4 L1092.0 298.4 L1093.0 298.4 L1094.0 298.4 L1095.0 298.4 L1095.9 298.4M1125.9 298.4 L1126.0 298.4 L1127.0 298.4 L1128.0 298.4 L1129.0 298.4 L1130.0 298.4 L1131.0 298.4 L1132.0 298.4 L1133.0 298.4 L1134.0 298.4 L1135.0 298.4 L1136.0 298.4 L1137.0 298.4 L1138.0 298.4 L1139.0 298.4 L1140.0 298.4 L1141.0 298.4 L1142.0 298.4 L1143.0 298.4 L1144.0 298.4 L1145.0 298.4 L1146.0 298.4 L1147.0 298.4 L1147.7 298.4M1177.8 298.4 L1178.0 298.4 L1179.0 298.4 L1180.0 298.4 L1181.0 298.4 L1182.0 298.4 L1183.0 298.4 L1184.0 298.4 L1185.0 298.4 L1186.0 298.4 L1187.0 298.4 L1188.0 298.4 L1189.0 298.4 L1190.0 298.4 L1191.0 298.4 L1192.0 298.4 L1193.0 298.4 L1194.0 298.4 L1195.0 298.4 L1196.0 298.4 L1197.0 298.4 L1198.0 298.4 L1199.0 298.4 L1199.6 298.4M1229.6 298.4 L1230.0 298.4 L1231.0 298.4 L1232.0 298.4 L1233.0 298.4 L1234.0 298.4 L1235.0 298.4 L1236.0 298.4 L1237.0 298.4 L1238.0 298.4 L1239.0 298.4 L1240.0 298.4 L1241.0 298.4 L1242.0 298.4 L1243.0 298.4 L1244.0 298.4 L1245.0 298.4 L1246.0 298.4 L1247.0 298.4 L1248.0 298.4 L1249.0 298.4 L1250.0 298.4 L1251.0 298.4 L1251.4 298.4M1281.5 298.4 L1282.0 298.4 L1283.0 298.4 L1284.0 298.4 L1285.0 298.4 L1286.0 298.4 L1287.0 298.4 L1288.0 298.4 L1289.0 298.4 L1290.0 298.4 L1291.0 298.4 L1292.0 298.4 L1293.0 298.4 L1294.0 298.4 L1295.0 298.4 L1296.0 298.4 L1297.0 298.4 L1298.0 298.4 L1299.0 298.4 L1300.0 298.4 L1301.0 298.4 L1302.0 298.4 L1303.0 298.4 L1303.3 298.4M1333.3 298.4 L1334.0 298.4 L1335.0 298.4 L1336.0 298.4 L1337.0 298.4 L1338.0 298.4 L1339.0 298.4 L1340.0 298.4 L1341.0 298.4 L1342.0 298.4 L1343.0 298.4 L1344.0 298.4 L1345.0 298.4 L1346.0 298.4 L1347.0 298.4 L1348.0 298.4 L1349.0 298.4 L1350.0 298.4 L1351.0 298.4 L1352.0 298.4 L1353.0 298.4 L1354.0 298.4 L1355.0 298.4 L1355.1 298.4M1385.2 298.4 L1386.0 298.4 L1387.0 298.4 L1388.0 298.4 L1389.0 298.4 L1390.0 298.4 L1391.0 298.4 L1392.0 298.4 L1393.0 298.4 L1394.0 298.4 L1395.0 298.4 L1396.0 298.4 L1397.0 298.4 L1398.0 298.4 L1399.0 298.4 L1400.0 298.4 L1401.0 298.4 L1402.0 298.4 L1403.0 298.4 L1404.0 298.4 L1405.0 298.4 L1406.0 298.4 L1407.0 298.4M1437.0 298.4 L1438.0 298.4 L1439.0 298.4 L1440.0 298.4 L1441.0 298.4 L1442.0 298.4 L1443.0 298.4 L1444.0 298.4 L1445.0 298.4 L1446.0 298.4 L1447.0 298.4 L1448.0 298.4 L1449.0 298.4 L1450.0 298.4 L1451.0 298.4 L1452.0 298.4 L1453.0 298.4 L1454.0 298.4 L1455.0 298.4 L1456.0 298.4 L1457.0 298.4 L1458.0 298.4 L1458.8 298.4M1488.9 298.4 L1489.0 298.4 L1490.0 298.4 L1491.0 298.4 L1492.0 298.4 L1493.0 298.4 L1494.0 298.4 L1495.0 298.4 L1496.0 298.4 L1497.0 298.4 L1498.0 298.4 L1499.0 298.4 L1500.0 298.4 L1501.0 298.4 L1502.0 298.4 L1503.0 298.4 L1504.0 298.4 L1505.0 298.4 L1506.0 298.4 L1507.0 298.4 L1508.0 298.4 L1509.0 298.4 L1510.0 298.4 L1510.7 298.4M1540.7 298.4 L1541.0 298.4 L1542.0 298.4 L1543.0 298.4 L1544.0 298.4 L1545.0 298.4 L1546.0 298.4 L1547.0 298.4 L1548.0 298.4 L1549.0 298.4 L1550.0 298.4 L1551.0 298.4 L1552.0 298.4 L1553.0 298.4 L1554.0 298.4 L1555.0 298.4 L1556.0 298.4 L1557.0 298.4 L1558.0 298.4 L1559.0 298.4 L1560.0 298.4 L1561.0 298.4 L1562.0 298.4 L1562.5 298.4M1592.6 298.4 L1593.0 298.4 L1594.0 298.4 L1595.0 298.4 L1596.0 298.4" stroke="#0000FF"/>
<path d="M137.8 298.4 L159.6 298.4M189.6 298.4 L211.4 298.4M241.5 298.4 L263.3 298.4M293.3 298.4 L315.1 298.4M345.2 298.4 L367.0 298.4M397.0 298.4 L418.8 298.4M448.9 298.4 L470.7 298.4M500.7 298.4 L522.5 298.4M552.6 298.4 L574.4 298.4M604.4 298.4 L626.2 298.4M656.3 298.4 L678.1 298.4M708.1 298.4 L729.9 298.4M760.0 298.4 L781.8 298.4M811.8 298.4 L833.6 298.4M863.7 298.4 L885.5 298.4M915.5 298.4 L937.3 298.4M967.4 298.4 L989.2 298.4M1019.2 298.4 L1041.0 298.4M1071.1 298.4 L1092.9 298.4M1122.9 298.4 L1144.7 298.4M1174.8 298.4 L1196.6 298.4M1226.6 298.4 L1248.4 298.4M1278.5 298.4 L1300.3 298.4M1330.3 298.4 L1352.1 298.4M1382.2 298.4 L1404.0 298.4M1434.0 298.4 L1455.8 298.4M1485.9 298.4 L1507.7 298.4M1537.7 298.4 L1559.5 298.4M1589.6 298.4 L1596.0 298.4" stroke="#FF0000"/>
<path d="M137.8 298.0 L138.0 298.0 L139.0 298.0 L140.0 298.0 L141.0 298.0 L142.0 297.9 L143.0 297.9 L144.0 297.9 L145.0 297.9 L146.0 297.9 L147.0 297.9 L148.0 297.8 L149.0 297.8 L150.0 297.8 L151.0 297.8 L152.0 297.8 L153.0 297.8 L154.0 297.7 L155.0 297.7 L156.0 297.7 L157.0 297.7 L158.0 297.7 L159.0 297.6 L159.6 297.6M189.6 296.6 L190.0 296.6 L191.0 296.6 L192.0 296.5 L193.0 296.5 L194.0 296.4 L195.0 296.4 L196.0 296.3 L197.0 296.3 L198.0 296.2 L199.0 296.2 L200.0 296.1 L201.0 296.1 L202.0 296.0 L203.0 295.9 L204.0 295.9 L205.0 295.8 L206.0 295.7 L207.0 295.7 L208.0 295.6 L209.0 295.5 L209.9 295.5M234.3 293.2 L235.0 293.1 L236.0 293.0 L237.0 292.9 L238.0 292.8 L239.0 292.6 L240.0 292.5 L241.0 292.4 L242.0 292.2 L243.0 292.1 L244.0 292.0 L245.0 291.8 L246.0 291.7 L247.0 291.5 L248.0 291.4 L249.0 291.2 L249.8 291.1M271.1 287.2 L272.0 287.0 L273.0 286.7 L274.0 286.5 L275.0 286.3 L276.0 286.0 L277.0 285.8 L278.0 285.6 L279.0 285.3 L280.0 285.1 L281.0 284.8 L282.0 284.6 L283.0 284.3 L284.0 284.0 L285.0 283.8 L286.0 283.5 L286.3 283.4M307.0 276.9 L307.0 276.9 L308.0 276.6 L309.0 276.2 L310.0 275.8 L311.0 275.5 L312.0 275.1 L313.0 274.7 L314.0 274.3 L315.0 273.9 L316.0 273.5 L317.0 273.1 L318.0 272.7 L319.0 272.3 L320.0 271.9 L321.0 271.5 L321.6 271.3M341.3 262.3 L342.0 261.9 L343.0 261.4 L344.0 260.9 L345.0 260.4 L346.0 259.8 L347.0 259.3 L348.0 258.8 L349.0 258.3 L350.0 257.8 L351.0 257.2 L352.0 256.7 L353.0 256.1 L354.0 255.6 L355.0 255.0 L355.2 255.0M373.9 244.1 L374.0 244.0 L375.0 243.4 L376.0 242.8 L377.0 242.2 L378.0 241.6 L379.0 241.0 L380.0 240.4 L381.0 239.8 L382.0 239.1 L383.0 238.5 L384.0 237.9 L385.0 237.3 L386.0 236.6 L387.0 236.0 L387.2 235.9M405.5 224.3 L406.0 223.9 L407.0 223.3 L408.0 222.7 L409.0 222.0 L410.0 221.4 L411.0 220.8 L412.0 220.1 L413.0 219.5 L414.0 218.9 L415.0 218.3 L416.0 217.6 L417.0 217.0 L418.0 216.4 L418.8 215.9M437.4 204.9 L438.0 204.5 L439.0 204.0 L440.0 203.4 L441.0 202.9 L442.0 202.3 L443.0 201.8 L444.0 201.3 L445.0 200.8 L446.0 200.2 L447.0 199.7 L448.0 199.2 L449.0 198.7 L450.0 198.2 L451.0 197.7 L451.3 197.6M471.2 189.1 L472.0 188.8 L473.0 188.5 L474.0 188.1 L475.0 187.8 L476.0 187.5 L477.0 187.2 L478.0 186.9 L479.0 186.6 L480.0 186.3 L481.0 186.0 L482.0 185.7 L483.0 185.5 L484.0 185.2 L485.0 185.0 L486.0 184.7 L486.2 184.7M509.8 181.8 L510.0 181.8 L511.0 181.8 L512.0 181.8 L513.0 181.8 L514.0 181.8 L515.0 181.9 L516.0 181.9 L517.0 182.0 L518.0 182.0 L519.0 182.1 L520.0 182.2 L521.0 182.3 L522.0 182.4 L523.0 182.5 L524.0 182.6 L525.0 182.7 L526.0 182.8 L527.0 183.0 L528.0 183.1 L528.3 183.2M549.2 188.5 L550.0 188.7 L551.0 189.1 L552.0 189.5 L553.0 189.8 L554.0 190.2 L555.0 190.6 L556.0 191.0 L557.0 191.4 L558.0 191.8 L559.0 192.2 L560.0 192.6 L561.0 193.0 L562.0 193.4 L563.0 193.9 L563.8 194.2M583.2 204.0 L584.0 204.4 L585.0 205.0 L586.0 205.5 L587.0 206.1 L588.0 206.7 L589.0 207.3 L590.0 207.8 L591.0 208.4 L592.0 209.0 L593.0 209.6 L594.0 210.2 L595.0 210.8 L596.0 211.4 L596.7 211.8M615.1 223.3 L616.0 223.8 L617.0 224.4 L618.0 225.1 L619.0 225.7 L620.0 226.4 L621.0 227.0 L622.0 227.6 L623.0 228.3 L624.0 228.9 L625.0 229.5 L626.0 230.2 L627.0 230.8 L628.0 231.4 L628.4 231.7M646.7 243.1 L647.0 243.3 L648.0 243.9 L649.0 244.5 L650.0 245.1 L651.0 245.7 L652.0 246.3 L653.0 246.9 L654.0 247.5 L655.0 248.1 L656.0 248.7 L657.0 249.3 L658.0 249.8 L659.0 250.4 L660.0 251.0 L660.2 251.1M679.3 261.4 L680.0 261.8 L681.0 262.3 L682.0 262.8 L683.0 263.3 L684.0 263.8 L685.0 264.2 L686.0 264.7 L687.0 265.2 L688.0 265.7 L689.0 266.1 L690.0 266.6 L691.0 267.1 L692.0 267.5 L693.0 268.0 L693.4 268.2M713.5 276.3 L714.0 276.5 L715.0 276.8 L716.0 277.2 L717.0 277.5 L718.0 277.9 L719.0 278.2 L720.0 278.6 L721.0 278.9 L722.0 279.2 L723.0 279.6 L724.0 279.9 L725.0 280.2 L726.0 280.5 L727.0 280.8 L728.0 281.1 L728.4 281.2M749.3 286.7 L750.0 286.9 L751.0 287.1 L752.0 287.3 L753.0 287.6 L754.0 287.8 L755.0 288.0 L756.0 288.2 L757.0 288.4 L758.0 288.6 L759.0 288.8 L760.0 289.0 L761.0 289.2 L762.0 289.3 L763.0 289.5 L764.0 289.7 L764.7 289.8M786.1 293.0 L787.0 293.1 L788.0 293.2 L789.0 293.3 L790.0 293.4 L791.0 293.6 L792.0 293.7 L793.0 293.8 L794.0 293.9 L795.0 294.0 L796.0 294.1 L797.0 294.2 L798.0 294.3 L799.0 294.4 L800.0 294.5 L801.0 294.6 L802.0 294.6 L802.9 294.7M830.1 296.5 L831.0 296.6 L832.0 296.6 L833.0 296.7 L834.0 296.7 L835.0 296.8 L836.0 296.8 L837.0 296.8 L838.0 296.9 L839.0 296.9 L840.0 297.0 L841.0 297.0 L842.0 297.0 L843.0 297.1 L844.0 297.1 L845.0 297.1 L846.0 297.2 L847.0 297.2 L848.0 297.2 L849.0 297.3 L850.0 297.3 L851.0 297.3 L851.8 297.4M881.8 298.0 L882.0 298.0 L883.0 298.0 L884.0 298.0 L885.0 298.0 L886.0 298.0 L887.0 298.0 L888.0 298.0 L889.0 298.0 L890.0 298.1 L891.0 298.1 L892.0 298.1 L893.0 298.1 L894.0 298.1 L895.0 298.1 L896.0 298.1 L897.0 298.1 L898.0 298.1 L899.0 298.1 L900.0 298.1 L901.0 298.2 L902.0 298.2 L903.0 298.2 L903.6 298.2M933.6 298.3 L934.0 298.3 L935.0 298.3 L936.0 298.3 L937.0 298.3 L938.0 298.3 L939.0 298.3 L940.0 298.3 L941.0 298.3 L942.0 298.3 L943.0 298.3 L944.0 298.3 L945.0 298.3 L946.0 298.3 L947.0 298.3 L948.0 298.3 L949.0 298.4 L950.0 298.4 L951.0 298.4 L952.0 298.4 L953.0 298.4 L954.0 298.4 L955.0 298.4 L955.4 298.4M985.5 298.4 L986.0 298.4 L987.0 298.4 L988.0 298.4 L989.0 298.4 L990.0 298.4 L991.0 298.4 L992.0 298.4 L993.0 298.4 L994.0 298.4 L995.0 298.4 L996.0 298.4 L997.0 298.4 L998.0 298.4 L999.0 298.4 L1000.0 298.4 L1001.0 298.4 L1002.0 298.4 L1003.0 298.4 L1004.0 298.4 L1005.0 298.4 L1006.0 298.4 L1007.0 298.4 L1007.3 298.4M1037.3 298.4 L1038.0 298.4 L1039.0 298.4 L1040.0 298.4 L1041.0 298.4 L1042.0 298.4 L1043.0 298.4 L1044.0 298.4 L1045.0 298.4 L1046.0 298.4 L1047.0 298.4 L1048.0 298.4 L1049.0 298.4 L1050.0 298.4 L1051.0 298.4 L1052.0 298.4 L1053.0 298.4 L1054.0 298.4 L1055.0 298.4 L1056.0 298.4 L1057.0 298.4 L1058.0 298.4 L1059.0 298.4 L1059.1 298.4M1089.2 298.4 L1090.0 298.4 L1091.0 298.4 L1092.0 298.4 L1093.0 298.4 L1094.0 298.4 L1095.0 298.4 L1096.0 298.4 L1097.0 298.4 L1098.0 298.4 L1099.0 298.4 L1100.0 298.4 L1101.0 298.4 L1102.0 298.4 L1103.0 298.4 L1104.0 298.4 L1105.0 298.4 L1106.0 298.4 L1107.0 298.4 L1108.0 298.4 L1109.0 298.4 L1110.0 298.4 L1111.0 298.4M1141.0 298.4 L1142.0 298.4 L1143.0 298.4 L1144.0 298.4 L1145.0 298.4 L1146.0 298.4 L1147.0 298.4 L1148.0 298.4 L1149.0 298.4 L1150.0 298.4 L1151.0 298.4 L1152.0 298.4 L1153.0 298.4 L1154.0 298.4 L1155.0 298.4 L1156.0 298.4 L1157.0 298.4 L1158.0 298.4 L1159.0 298.4 L1160.0 298.4 L1161.0 298.4 L1162.0 298.4 L1162.8 298.4M1192.9 298.4 L1193.0 298.4 L1194.0 298.4 L1195.0 298.4 L1196.0 298.4 L1197.0 298.4 L1198.0 298.4 L1199.0 298.4 L1200.0 298.4 L1201.0 298.4 L1202.0 298.4 L1203.0 298.4 L1204.0 298.4 L1205.0 298.4 L1206.0 298.4 L1207.0 298.4 L1208.0 298.4 L1209.0 298.4 L1210.0 298.4 L1211.0 298.4 L1212.0 298.4 L1213.0 298.4 L1214.0 298.4 L1214.7 298.4M1244.7 298.4 L1245.0 298.4 L1246.0 298.4 L1247.0 298.4 L1248.0 298.4 L1249.0 298.4 L1250.0 298.4 L1251.0 298.4 L1252.0 298.4 L1253.0 298.4 L1254.0 298.4 L1255.0 298.4 L1256.0 298.4 L1257.0 298.4 L1258.0 298.4 L1259.0 298.4 L1260.0 298.4 L1261.0 298.4 L1262.0 298.4 L1263.0 298.4 L1264.0 298.4 L1265.0 298.4 L1266.0 298.4 L1266.5 298.4M1296.6 298.4 L1297.0 298.4 L1298.0 298.4 L1299.0 298.4 L1300.0 298.4 L1301.0 298.4 L1302.0 298.4 L1303.0 298.4 L1304.0 298.4 L1305.0 298.4 L1306.0 298.4 L1307.0 298.4 L1308.0 298.4 L1309.0 298.4 L1310.0 298.4 L1311.0 298.4 L1312.0 298.4 L1313.0 298.4 L1314.0 298.4 L1315.0 298.4 L1316.0 298.4 L1317.0 298.4 L1318.0 298.4 L1318.4 298.4M1348.4 298.4 L1349.0 298.4 L1350.0 298.4 L1351.0 298.4 L1352.0 298.4 L1353.0 298.4 L1354.0 298.4 L1355.0 298.4 L1356.0 298.4 L1357.0 298.4 L1358.0 298.4 L1359.0 298.4 L1360.0 298.4 L1361.0 298.4 L1362.0 298.4 L1363.0 298.4 L1364.0 298.4 L1365.0 298.4 L1366.0 298.4 L1367.0 298.4 L1368.0 298.4 L1369.0 298.4 L1370.0 298.4 L1370.2 298.4M1400.3 298.4 L1401.0 298.4 L1402.0 298.4 L1403.0 298.4 L1404.0 298.4 L1405.0 298.4 L1406.0 298.4 L1407.0 298.4 L1408.0 298.4 L1409.0 298.4 L1410.0 298.4 L1411.0 298.4 L1412.0 298.4 L1413.0 298.4 L1414.0 298.4 L1415.0 298.4 L1416.0 298.4 L1417.0 298.4 L1418.0 298.4 L1419.0 298.4 L1420.0 298.4 L1421.0 298.4 L1422.0 298.4 L1422.1 298.4M1452.1 298.4 L1453.0 298.4 L1454.0 298.4 L1455.0 298.4 L1456.0 298.4 L1457.0 298.4 L1458.0 298.4 L1459.0 298.4 L1460.0 298.4 L1461.0 298.4 L1462.0 298.4 L1463.0 298.4 L1464.0 298.4 L1465.0 298.4 L1466.0 298.4 L1467.0 298.4 L1468.0 298.4 L1469.0 298.4 L1470.0 298.4 L1471.0 298.4 L1472.0 298.4 L1473.0 298.4 L1473.9 298.4M1504.0 298.4 L1504.0 298.4 L1505.0 298.4 L1506.0 298.4 L1507.0 298.4 L1508.0 298.4 L1509.0 298.4 L1510.0 298.4 L1511.0 298.4 L1512.0 298.4 L1513.0 298.4 L1514.0 298.4 L1515.0 298.4 L1516.0 298.4 L1517.0 298.4 L1518.0 298.4 L1519.0 298.4 L1520.0 298.4 L1521.0 298.4 L1522.0 298.4 L1523.0 298.4 L1524.0 298.4 L1525.0 298.4 L1525.8 298.4M1555.8 298.4 L1556.0 298.4 L1557.0 298.4 L1558.0 298.4 L1559.0 298.4 L1560.0 298.4 L1561.0 298.4 L1562.0 298.4 L1563.0 298.4 L1564.0 298.4 L1565.0 298.4 L1566.0 298.4 L1567.0 298.4 L1568.0 298.4 L1569.0 298.4 L1570.0 298.4 L1571.0 298.4 L1572.0 298.4 L1573.0 298.4 L1574.0 298.4 L1575.0 298.4 L1576.0 298.4 L1577.0 298.4 L1577.6 298.4" stroke="#FF0000"/>
<path d="M144.5 298.4 L166.3 298.4M196.3 298.4 L218.1 298.4M248.2 298.4 L270.0 298.4M300.0 298.4 L321.8 298.4M351.9 298.4 L373.7 298.4M403.7 298.4 L425.5 298.4M455.6 298.4 L477.4 298.4M507.4 298.4 L529.2 298.4M559.3 298.4 L581.1 298.4M611.1 298.4 L632.9 298.4M663.0 298.4 L684.8 298.4M714.8 298.4 L736.6 298.4M766.7 298.4 L788.5 298.4M818.5 298.4 L840.3 298.4M870.4 298.4 L892.2 298.4M922.2 298.4 L944.0 298.4M974.1 298.4 L995.9 298.4M1025.9 298.4 L1047.7 298.4M1077.8 298.4 L1099.6 298.4M1129.6 298.4 L1151.4 298.4M1181.5 298.4 L1203.3 298.4M1233.3 298.4 L1255.1 298.4M1285.2 298.4 L1307.0 298.4M1337.0 298.4 L1358.8 298.4M1388.9 298.4 L1410.7 298.4M1440.7 298.4 L1462.5 298.4M1492.6 298.4 L1514.4 298.4M1544.4 298.4 L1566.2 298.4" stroke="#FF00FF"/>
<path d="M144.5 298.0 L145.0 298.0 L146.0 298.0 L147.0 298.0 L148.0 298.0 L149.0 298.0 L150.0 298.0 L151.0 298.0 L152.0 298.0 L153.0 298.0 L154.0 298.0 L155.0 298.0 L156.0 298.0 L157.0 298.0 L158.0 297.9 L159.0 297.9 L160.0 297.9 L161.0 297.9 L162.0 297.9 L163.0 297.9 L164.0 297.9 L165.0 297.9 L166.0 297.9 L166.3 297.9M196.3 297.5 L197.0 297.5 L198.0 297.5 L199.0 297.5 L200.0 297.4 L201.0 297.4 L202.0 297.4 L203.0 297.4 L204.0 297.4 L205.0 297.4 L206.0 297.3 L207.0 297.3 L208.0 297.3 L209.0 297.3 L210.0 297.3 L211.0 297.2 L212.0 297.2 L213.0 297.2 L214.0 297.2 L215.0 297.2 L216.0 297.1 L217.0 297.1 L218.0 297.1 L218.1 297.1M248.2 296.3 L249.0 296.3 L250.0 296.2 L251.0 296.2 L252.0 296.2 L253.0 296.1 L254.0 296.1 L255.0 296.1 L256.0 296.0 L257.0 296.0 L258.0 296.0 L259.0 295.9 L260.0 295.9 L261.0 295.9 L262.0 295.8 L263.0 295.8 L264.0 295.7 L265.0 295.7 L266.0 295.7 L267.0 295.6 L268.0 295.6 L269.0 295.5 L269.9 295.5M298.8 294.0 L299.0 294.0 L300.0 294.0 L301.0 293.9 L302.0 293.8 L303.0 293.8 L304.0 293.7 L305.0 293.7 L306.0 293.6 L307.0 293.5 L308.0 293.5 L309.0 293.4 L310.0 293.3 L311.0 293.3 L312.0 293.2 L313.0 293.1 L314.0 293.1 L315.0 293.0 L316.0 292.9 L317.0 292.8 L318.0 292.8 L318.6 292.7M343.9 290.6 L344.0 290.6 L345.0 290.5 L346.0 290.4 L347.0 290.3 L348.0 290.2 L349.0 290.1 L350.0 290.0 L351.0 289.9 L352.0 289.8 L353.0 289.7 L354.0 289.6 L355.0 289.5 L356.0 289.4 L357.0 289.3 L358.0 289.2 L359.0 289.1 L360.0 289.0 L360.9 288.9M382.6 286.3 L383.0 286.2 L384.0 286.1 L385.0 285.9 L386.0 285.8 L387.0 285.7 L388.0 285.5 L389.0 285.4 L390.0 285.3 L391.0 285.1 L392.0 285.0 L393.0 284.8 L394.0 284.7 L395.0 284.6 L396.0 284.4 L397.0 284.3 L398.0 284.1 L398.2 284.1M419.6 280.7 L420.0 280.7 L421.0 280.5 L422.0 280.3 L423.0 280.1 L424.0 280.0 L425.0 279.8 L426.0 279.6 L427.0 279.5 L428.0 279.3 L429.0 279.1 L430.0 278.9 L431.0 278.7 L432.0 278.6 L433.0 278.4 L434.0 278.2 L435.0 278.0 L435.0 278.0M456.3 273.9 L457.0 273.8 L458.0 273.6 L459.0 273.4 L460.0 273.1 L461.0 272.9 L462.0 272.7 L463.0 272.5 L464.0 272.3 L465.0 272.1 L466.0 271.9 L467.0 271.7 L468.0 271.5 L469.0 271.3 L470.0 271.1 L471.0 270.8 L471.6 270.7M492.7 266.0 L493.0 266.0 L494.0 265.7 L495.0 265.5 L496.0 265.3 L497.0 265.1 L498.0 264.8 L499.0 264.6 L500.0 264.4 L501.0 264.1 L502.0 263.9 L503.0 263.7 L504.0 263.4 L505.0 263.2 L506.0 263.0 L507.0 262.7 L508.0 262.5 L508.0 262.5M529.1 257.5 L530.0 257.3 L531.0 257.1 L532.0 256.8 L533.0 256.6 L534.0 256.4 L535.0 256.1 L536.0 255.9 L537.0 255.7 L538.0 255.4 L539.0 255.2 L540.0 255.0 L541.0 254.7 L542.0 254.5 L543.0 254.2 L544.0 254.0 L544.4 253.9M565.5 249.1 L566.0 248.9 L567.0 248.7 L568.0 248.5 L569.0 248.3 L570.0 248.1 L571.0 247.8 L572.0 247.6 L573.0 247.4 L574.0 247.2 L575.0 247.0 L576.0 246.7 L577.0 246.5 L578.0 246.3 L579.0 246.1 L580.0 245.9 L580.8 245.7M602.0 241.4 L602.0 241.4 L603.0 241.2 L604.0 241.1 L605.0 240.9 L606.0 240.7 L607.0 240.5 L608.0 240.3 L609.0 240.1 L610.0 240.0 L611.0 239.8 L612.0 239.6 L613.0 239.4 L614.0 239.3 L615.0 239.1 L616.0 238.9 L617.0 238.8 L617.4 238.7M638.8 235.5 L639.0 235.5 L640.0 235.4 L641.0 235.2 L642.0 235.1 L643.0 235.0 L644.0 234.9 L645.0 234.7 L646.0 234.6 L647.0 234.5 L648.0 234.4 L649.0 234.3 L650.0 234.2 L651.0 234.1 L652.0 234.0 L653.0 233.9 L654.0 233.8 L655.0 233.7M681.8 231.8 L682.0 231.8 L683.0 231.8 L684.0 231.7 L685.0 231.7 L686.0 231.7 L687.0 231.6 L688.0 231.6 L689.0 231.6 L690.0 231.5 L691.0 231.5 L692.0 231.5 L693.0 231.5 L694.0 231.5 L695.0 231.5 L696.0 231.5 L697.0 231.5 L698.0 231.4 L699.0 231.4 L700.0 231.4 L701.0 231.4 L702.0 231.5 L703.0 231.5 L703.6 231.5M732.6 232.7 L733.0 232.7 L734.0 232.8 L735.0 232.9 L736.0 232.9 L737.0 233.0 L738.0 233.1 L739.0 233.2 L740.0 233.3 L741.0 233.4 L742.0 233.5 L743.0 233.6 L744.0 233.7 L745.0 233.8 L746.0 233.9 L747.0 234.0 L748.0 234.1 L749.0 234.2 L750.0 234.3 L750.2 234.3M771.8 237.1 L772.0 237.2 L773.0 237.3 L774.0 237.5 L775.0 237.6 L776.0 237.8 L777.0 238.0 L778.0 238.1 L779.0 238.3 L780.0 238.4 L781.0 238.6 L782.0 238.8 L783.0 238.9 L784.0 239.1 L785.0 239.3 L786.0 239.5 L787.0 239.6 L787.3 239.7M808.5 243.7 L809.0 243.8 L810.0 244.0 L811.0 244.2 L812.0 244.4 L813.0 244.6 L814.0 244.8 L815.0 245.0 L816.0 245.3 L817.0 245.5 L818.0 245.7 L819.0 245.9 L820.0 246.1 L821.0 246.3 L822.0 246.5 L823.0 246.8 L823.9 247.0M845.0 251.7 L846.0 251.9 L847.0 252.2 L848.0 252.4 L849.0 252.6 L850.0 252.9 L851.0 253.1 L852.0 253.3 L853.0 253.6 L854.0 253.8 L855.0 254.0 L856.0 254.3 L857.0 254.5 L858.0 254.7 L859.0 255.0 L860.0 255.2 L860.3 255.3M881.3 260.3 L882.0 260.4 L883.0 260.6 L884.0 260.9 L885.0 261.1 L886.0 261.4 L887.0 261.6 L888.0 261.8 L889.0 262.1 L890.0 262.3 L891.0 262.5 L892.0 262.8 L893.0 263.0 L894.0 263.2 L895.0 263.5 L896.0 263.7 L896.6 263.8M917.7 268.6 L918.0 268.7 L919.0 268.9 L920.0 269.1 L921.0 269.3 L922.0 269.6 L923.0 269.8 L924.0 270.0 L925.0 270.2 L926.0 270.4 L927.0 270.6 L928.0 270.9 L929.0 271.1 L930.0 271.3 L931.0 271.5 L932.0 271.7 L933.0 271.9 L933.1 271.9M954.3 276.2 L955.0 276.4 L956.0 276.5 L957.0 276.7 L958.0 276.9 L959.0 277.1 L960.0 277.3 L961.0 277.5 L962.0 277.7 L963.0 277.9 L964.0 278.0 L965.0 278.2 L966.0 278.4 L967.0 278.6 L968.0 278.8 L969.0 278.9 L969.7 279.1M991.1 282.6 L992.0 282.8 L993.0 282.9 L994.0 283.1 L995.0 283.2 L996.0 283.4 L997.0 283.5 L998.0 283.7 L999.0 283.8 L1000.0 284.0 L1001.0 284.1 L1002.0 284.3 L1003.0 284.4 L1004.0 284.6 L1005.0 284.7 L1006.0 284.9 L1006.6 284.9M1028.0 287.7 L1029.0 287.8 L1030.0 288.0 L1031.0 288.1 L1032.0 288.2 L1033.0 288.3 L1034.0 288.4 L1035.0 288.5 L1036.0 288.6 L1037.0 288.8 L1038.0 288.9 L1039.0 289.0 L1040.0 289.1 L1041.0 289.2 L1042.0 289.3 L1043.0 289.4 L1044.0 289.5 L1044.3 289.5M1068.6 291.8 L1069.0 291.8 L1070.0 291.9 L1071.0 292.0 L1072.0 292.1 L1073.0 292.2 L1074.0 292.2 L1075.0 292.3 L1076.0 292.4 L1077.0 292.5 L1078.0 292.5 L1079.0 292.6 L1080.0 292.7 L1081.0 292.8 L1082.0 292.8 L1083.0 292.9 L1084.0 293.0 L1085.0 293.1 L1086.0 293.1 L1087.0 293.2 L1087.6 293.2M1115.7 294.9 L1116.0 294.9 L1117.0 294.9 L1118.0 295.0 L1119.0 295.0 L1120.0 295.1 L1121.0 295.1 L1122.0 295.2 L1123.0 295.2 L1124.0 295.3 L1125.0 295.3 L1126.0 295.4 L1127.0 295.4 L1128.0 295.5 L1129.0 295.5 L1130.0 295.5 L1131.0 295.6 L1132.0 295.6 L1133.0 295.7 L1134.0 295.7 L1135.0 295.7 L1136.0 295.8 L1137.0 295.8 L1137.1 295.8M1167.2 296.8 L1168.0 296.8 L1169.0 296.8 L1170.0 296.9 L1171.0 296.9 L1172.0 296.9 L1173.0 296.9 L1174.0 296.9 L1175.0 297.0 L1176.0 297.0 L1177.0 297.0 L1178.0 297.0 L1179.0 297.1 L1180.0 297.1 L1181.0 297.1 L1182.0 297.1 L1183.0 297.1 L1184.0 297.2 L1185.0 297.2 L1186.0 297.2 L1187.0 297.2 L1188.0 297.2 L1189.0 297.3M1219.0 297.7 L1220.0 297.7 L1221.0 297.7 L1222.0 297.8 L1223.0 297.8 L1224.0 297.8 L1225.0 297.8 L1226.0 297.8 L1227.0 297.8 L1228.0 297.8 L1229.0 297.8 L1230.0 297.8 L1231.0 297.9 L1232.0 297.9 L1233.0 297.9 L1234.0 297.9 L1235.0 297.9 L1236.0 297.9 L1237.0 297.9 L1238.0 297.9 L1239.0 297.9 L1240.0 297.9 L1240.8 297.9M1270.9 298.1 L1271.0 298.1 L1272.0 298.1 L1273.0 298.2 L1274.0 298.2 L1275.0 298.2 L1276.0 298.2 L1277.0 298.2 L1278.0 298.2 L1279.0 298.2 L1280.0 298.2 L1281.0 298.2 L1282.0 298.2 L1283.0 298.2 L1284.0 298.2 L1285.0 298.2 L1286.0 298.2 L1287.0 298.2 L1288.0 298.2 L1289.0 298.2 L1290.0 298.2 L1291.0 298.2 L1292.0 298.2 L1292.7 298.2M1322.7 298.3 L1323.0 298.3 L1324.0 298.3 L1325.0 298.3 L1326.0 298.3 L1327.0 298.3 L1328.0 298.3 L1329.0 298.3 L1330.0 298.3 L1331.0 298.3 L1332.0 298.3 L1333.0 298.3 L1334.0 298.3 L1335.0 298.3 L1336.0 298.3 L1337.0 298.3 L1338.0 298.3 L1339.0 298.3 L1340.0 298.3 L1341.0 298.3 L1342.0 298.3 L1343.0 298.3 L1344.0 298.3 L1344.5 298.3M1374.6 298.4 L1375.0 298.4 L1376.0 298.4 L1377.0 298.4 L1378.0 298.4 L1379.0 298.4 L1380.0 298.4 L1381.0 298.4 L1382.0 298.4 L1383.0 298.4 L1384.0 298.4 L1385.0 298.4 L1386.0 298.4 L1387.0 298.4 L1388.0 298.4 L1389.0 298.4 L1390.0 298.4 L1391.0 298.4 L1392.0 298.4 L1393.0 298.4 L1394.0 298.4 L1395.0 298.4 L1396.0 298.4 L1396.4 298.4M1426.4 298.4 L1427.0 298.4 L1428.0 298.4 L1429.0 298.4 L1430.0 298.4 L1431.0 298.4 L1432.0 298.4 L1433.0 298.4 L1434.0 298.4 L1435.0 298.4 L1436.0 298.4 L1437.0 298.4 L1438.0 298.4 L1439.0 298.4 L1440.0 298.4 L1441.0 298.4 L1442.0 298.4 L1443.0 298.4 L1444.0 298.4 L1445.0 298.4 L1446.0 298.4 L1447.0 298.4 L1448.0 298.4 L1448.2 298.4M1478.3 298.4 L1479.0 298.4 L1480.0 298.4 L1481.0 298.4 L1482.0 298.4 L1483.0 298.4 L1484.0 298.4 L1485.0 298.4 L1486.0 298.4 L1487.0 298.4 L1488.0 298.4 L1489.0 298.4 L1490.0 298.4 L1491.0 298.4 L1492.0 298.4 L1493.0 298.4 L1494.0 298.4 L1495.0 298.4 L1496.0 298.4 L1497.0 298.4 L1498.0 298.4 L1499.0 298.4 L1500.0 298.4 L1500.1 298.4M1530.1 298.4 L1531.0 298.4 L1532.0 298.4 L1533.0 298.4 L1534.0 298.4 L1535.0 298.4 L1536.0 298.4 L1537.0 298.4 L1538.0 298.4 L1539.0 298.4 L1540.0 298.4 L1541.0 298.4 L1542.0 298.4 L1543.0 298.4 L1544.0 298.4 L1545.0 298.4 L1546.0 298.4 L1547.0 298.4 L1548.0 298.4 L1549.0 298.4 L1550.0 298.4 L1551.0 298.4 L1551.9 298.4M1582.0 298.4 L1582.0 298.4 L1583.0 298.4 L1584.0 298.4 L1585.0 298.4 L1586.0 298.4 L1587.0 298.4 L1588.0 298.4 L1589.0 298.4 L1590.0 298.4 L1591.0 298.4 L1592.0 298.4 L1593.0 298.4 L1594.0 298.4 L1595.0 298.4 L1596.0 298.4" stroke="#FF00FF"/>
<path d="M127.0 595.7 L128.0 594.9 L129.0 594.2 L130.0 593.4 L131.0 592.6 L132.0 591.8 L133.0 591.0 L134.0 590.2 L135.0 589.4 L136.0 588.6 L137.0 587.7 L138.0 586.9 L139.0 586.0 L139.2 585.8M155.2 571.3 L156.0 570.5 L157.0 569.5 L158.0 568.6 L159.0 567.6 L160.0 566.6 L161.0 565.6 L162.0 564.6 L163.0 563.6 L164.0 562.5 L165.0 561.5 L166.0 560.5 L166.3 560.2M181.1 544.4 L182.0 543.4 L183.0 542.3 L184.0 541.2 L185.0 540.1 L186.0 539.0 L187.0 537.9 L188.0 536.8 L189.0 535.7 L190.0 534.6 L191.0 533.5 L191.7 532.8M206.2 516.7 L207.0 515.9 L208.0 514.8 L209.0 513.7 L210.0 512.6 L211.0 511.6 L212.0 510.5 L213.0 509.4 L214.0 508.4 L215.0 507.3 L216.0 506.3 L216.9 505.3M232.3 490.1 L233.0 489.5 L234.0 488.6 L235.0 487.7 L236.0 486.8 L237.0 485.9 L238.0 485.1 L239.0 484.2 L240.0 483.4 L241.0 482.5 L242.0 481.7 L243.0 480.9 L244.0 480.1 L244.3 479.9M262.3 468.0 L263.0 467.6 L264.0 467.1 L265.0 466.7 L266.0 466.2 L267.0 465.7 L268.0 465.3 L269.0 464.9 L270.0 464.5 L271.0 464.1 L272.0 463.7 L273.0 463.4 L274.0 463.0 L275.0 462.7 L276.0 462.4 L276.8 462.2M300.8 460.8 L301.0 460.9 L302.0 461.0 L303.0 461.2 L304.0 461.5 L305.0 461.7 L306.0 461.9 L307.0 462.2 L308.0 462.5 L309.0 462.8 L310.0 463.1 L311.0 463.5 L312.0 463.8 L313.0 464.2 L314.0 464.6 L315.0 465.0 L315.8 465.3M334.5 476.2 L335.0 476.6 L336.0 477.3 L337.0 478.0 L338.0 478.8 L339.0 479.6 L340.0 480.4 L341.0 481.2 L342.0 482.0 L343.0 482.8 L344.0 483.6 L345.0 484.5 L346.0 485.3 L346.7 486.0M362.4 500.8 L363.0 501.4 L364.0 502.4 L365.0 503.5 L366.0 504.5 L367.0 505.5 L368.0 506.6 L369.0 507.6 L370.0 508.7 L371.0 509.7 L372.0 510.8 L373.0 511.9 L373.3 512.2M387.9 528.2 L388.0 528.3 L389.0 529.4 L390.0 530.5 L391.0 531.6 L392.0 532.7 L393.0 533.8 L394.0 534.9 L395.0 536.0 L396.0 537.2 L397.0 538.3 L398.0 539.4 L398.4 539.8M413.1 555.7 L414.0 556.6 L415.0 557.7 L416.0 558.7 L417.0 559.8 L418.0 560.8 L419.0 561.8 L420.0 562.8 L421.0 563.9 L422.0 564.9 L423.0 565.9 L424.0 566.9 L424.0 566.9M439.8 581.8 L440.0 582.0 L441.0 582.9 L442.0 583.7 L443.0 584.6 L444.0 585.5 L445.0 586.3 L446.0 587.2 L447.0 588.0 L448.0 588.8 L449.0 589.6 L450.0 590.4 L451.0 591.3 L451.8 591.9M469.3 604.5 L470.0 605.0 L471.0 605.6 L472.0 606.2 L473.0 606.9 L474.0 607.5 L475.0 608.1 L476.0 608.7 L477.0 609.3 L478.0 609.9 L479.0 610.4 L480.0 611.0 L481.0 611.6 L482.0 612.1 L482.8 612.5M502.4 621.7 L503.0 621.9 L504.0 622.3 L505.0 622.7 L506.0 623.1 L507.0 623.5 L508.0 623.8 L509.0 624.2 L510.0 624.5 L511.0 624.9 L512.0 625.2 L513.0 625.5 L514.0 625.9 L515.0 626.2 L516.0 626.5 L517.0 626.8 L517.2 626.9M538.2 632.1 L539.0 632.3 L540.0 632.5 L541.0 632.7 L542.0 632.9 L543.0 633.0 L544.0 633.2 L545.0 633.4 L546.0 633.6 L547.0 633.7 L548.0 633.9 L549.0 634.0 L550.0 634.2 L551.0 634.4 L552.0 634.5 L553.0 634.7 L553.7 634.7" stroke="#0000FF"/>
<path d="M560.0 635.6 L561.0 635.7 L562.0 635.8 L563.0 635.9 L564.0 636.0 L565.0 636.2 L566.0 636.3 L567.0 636.4 L568.0 636.5 L568.9 636.6M595.6 638.5 L596.0 638.5 L597.0 638.5 L598.0 638.6 L599.0 638.6 L600.0 638.7 L601.0 638.7 L602.0 638.7 L603.0 638.8 L604.0 638.8 L605.0 638.9 L606.0 638.9 L607.0 638.9 L608.0 639.0 L609.0 639.0 L610.0 639.0 L611.0 639.1 L612.0 639.1 L613.0 639.1 L614.0 639.1 L615.0 639.2 L616.0 639.2 L617.0 639.2 L617.3 639.2M647.3 639.7 L648.0 639.7 L649.0 639.7 L650.0 639.8 L651.0 639.8 L652.0 639.8 L653.0 639.8 L654.0 639.8 L655.0 639.8 L656.0 639.8 L657.0 639.8 L658.0 639.8 L659.0 639.8 L660.0 639.8 L661.0 639.8 L662.0 639.8 L663.0 639.9 L664.0 639.9 L665.0 639.9 L666.0 639.9 L667.0 639.9 L668.0 639.9 L669.0 639.9 L669.1 639.9M699.2 640.0 L700.0 640.0 L701.0 640.0 L702.0 640.0 L703.0 640.0 L704.0 640.0 L705.0 640.0 L706.0 640.0 L707.0 640.0 L708.0 640.0 L709.0 640.0 L710.0 640.0 L711.0 640.0 L712.0 640.0 L713.0 640.0 L714.0 640.0 L715.0 640.0 L716.0 640.0 L717.0 640.0 L718.0 640.0 L719.0 640.0 L720.0 640.0 L721.0 640.0M751.0 640.0 L751.0 640.0 L752.0 640.0 L753.0 640.0 L754.0 640.0 L755.0 640.0 L756.0 640.0 L757.0 640.0 L758.0 640.0 L759.0 640.0 L760.0 640.0 L761.0 640.0 L762.0 640.0 L763.0 640.0 L764.0 640.0 L765.0 640.0 L766.0 640.0 L767.0 640.0 L768.0 640.0 L769.0 640.0 L770.0 640.0 L771.0 640.0 L772.0 640.0 L772.8 640.0M802.8 640.0 L803.0 640.0 L804.0 640.0 L805.0 640.0 L806.0 640.0 L807.0 640.0 L808.0 640.0 L809.0 640.0 L810.0 640.0 L811.0 640.0 L812.0 640.0 L813.0 640.0 L814.0 640.0 L815.0 640.0 L816.0 640.0 L817.0 640.0 L818.0 640.0 L819.0 640.0 L820.0 640.0 L821.0 640.0 L822.0 640.0 L823.0 640.0 L824.0 640.0 L824.6 640.0M854.7 640.0 L855.0 640.0 L856.0 640.0 L857.0 640.0 L858.0 640.0 L859.0 640.0 L860.0 640.0 L861.0 640.0 L862.0 640.0 L863.0 640.0 L864.0 640.0 L865.0 640.0 L866.0 640.0 L867.0 640.0 L868.0 640.0 L869.0 640.0 L870.0 640.0 L871.0 640.0 L872.0 640.0 L873.0 640.0 L874.0 640.0 L875.0 640.0 L876.0 640.0 L876.5 640.0M906.5 640.0 L907.0 640.0 L908.0 640.0 L909.0 640.0 L910.0 640.0 L911.0 640.0 L912.0 640.0 L913.0 640.0 L914.0 640.0 L915.0 640.0 L916.0 640.0 L917.0 640.0 L918.0 640.0 L919.0 640.0 L920.0 640.0 L921.0 640.0 L922.0 640.0 L923.0 640.0 L924.0 640.0 L925.0 640.0 L926.0 640.0 L927.0 640.0 L928.0 640.0 L928.3 640.0M958.4 640.0 L959.0 640.0 L960.0 640.0 L961.0 640.0 L962.0 640.0 L963.0 640.0 L964.0 640.0 L965.0 640.0 L966.0 640.0 L967.0 640.0 L968.0 640.0 L969.0 640.0 L970.0 640.0 L971.0 640.0 L972.0 640.0 L973.0 640.0 L974.0 640.0 L975.0 640.0 L976.0 640.0 L977.0 640.0 L978.0 640.0 L979.0 640.0 L980.0 640.0 L980.2 640.0M1010.2 640.0 L1011.0 640.0 L1012.0 640.0 L1013.0 640.0 L1014.0 640.0 L1015.0 640.0 L1016.0 640.0 L1017.0 640.0 L1018.0 640.0 L1019.0 640.0 L1020.0 640.0 L1021.0 640.0 L1022.0 640.0 L1023.0 640.0 L1024.0 640.0 L1025.0 640.0 L1026.0 640.0 L1027.0 640.0 L1028.0 640.0 L1029.0 640.0 L1030.0 640.0 L1031.0 640.0 L1032.0 640.0 L1032.0 640.0M1062.1 640.0 L1063.0 640.0 L1064.0 640.0 L1065.0 640.0 L1066.0 640.0 L1067.0 640.0 L1068.0 640.0 L1069.0 640.0 L1070.0 640.0 L1071.0 640.0 L1072.0 640.0 L1073.0 640.0 L1074.0 640.0 L1075.0 640.0 L1076.0 640.0 L1077.0 640.0 L1078.0 640.0 L1079.0 640.0 L1080.0 640.0 L1081.0 640.0 L1082.0 640.0 L1083.0 640.0 L1083.9 640.0M1113.9 640.0 L1114.0 640.0 L1115.0 640.0 L1116.0 640.0 L1117.0 640.0 L1118.0 640.0 L1119.0 640.0 L1120.0 640.0 L1121.0 640.0 L1122.0 640.0 L1123.0 640.0 L1124.0 640.0 L1125.0 640.0 L1126.0 640.0 L1127.0 640.0 L1128.0 640.0 L1129.0 640.0 L1130.0 640.0 L1131.0 640.0 L1132.0 640.0 L1133.0 640.0 L1134.0 640.0 L1135.0 640.0 L1135.7 640.0M1165.8 640.0 L1166.0 640.0 L1167.0 640.0 L1168.0 640.0 L1169.0 640.0 L1170.0 640.0 L1171.0 640.0 L1172.0 640.0 L1173.0 640.0 L1174.0 640.0 L1175.0 640.0 L1176.0 640.0 L1177.0 640.0 L1178.0 640.0 L1179.0 640.0 L1180.0 640.0 L1181.0 640.0 L1182.0 640.0 L1183.0 640.0 L1184.0 640.0 L1185.0 640.0 L1186.0 640.0 L1187.0 640.0 L1187.6 640.0M1217.6 640.0 L1218.0 640.0 L1219.0 640.0 L1220.0 640.0 L1221.0 640.0 L1222.0 640.0 L1223.0 640.0 L1224.0 640.0 L1225.0 640.0 L1226.0 640.0 L1227.0 640.0 L1228.0 640.0 L1229.0 640.0 L1230.0 640.0 L1231.0 640.0 L1232.0 640.0 L1233.0 640.0 L1234.0 640.0 L1235.0 640.0 L1236.0 640.0 L1237.0 640.0 L1238.0 640.0 L1239.0 640.0 L1239.4 640.0" stroke="#0000FF"/>
<path d="M127.0 629.9 L128.0 629.7 L129.0 629.5 L130.0 629.4 L131.0 629.2 L132.0 629.0 L133.0 628.8 L134.0 628.6 L135.0 628.4 L136.0 628.3 L137.0 628.1 L138.0 627.9 L139.0 627.7 L140.0 627.5 L141.0 627.3 L142.0 627.1 L142.4 627.0M163.5 621.9 L164.0 621.8 L165.0 621.5 L166.0 621.2 L167.0 620.9 L168.0 620.6 L169.0 620.4 L170.0 620.1 L171.0 619.8 L172.0 619.5 L173.0 619.2 L174.0 618.9 L175.0 618.6 L176.0 618.3 L177.0 617.9 L178.0 617.6 L178.5 617.5M198.9 610.2 L199.0 610.1 L200.0 609.8 L201.0 609.4 L202.0 609.0 L203.0 608.5 L204.0 608.1 L205.0 607.7 L206.0 607.3 L207.0 606.9 L208.0 606.5 L209.0 606.0 L210.0 605.6 L211.0 605.2 L212.0 604.7 L213.0 604.3 L213.4 604.1M232.9 594.8 L233.0 594.7 L234.0 594.2 L235.0 593.6 L236.0 593.1 L237.0 592.6 L238.0 592.0 L239.0 591.5 L240.0 591.0 L241.0 590.4 L242.0 589.9 L243.0 589.3 L244.0 588.8 L245.0 588.2 L246.0 587.7 L246.7 587.3M265.3 576.3 L266.0 575.8 L267.0 575.2 L268.0 574.6 L269.0 573.9 L270.0 573.3 L271.0 572.7 L272.0 572.1 L273.0 571.4 L274.0 570.8 L275.0 570.1 L276.0 569.5 L277.0 568.8 L278.0 568.2 L278.5 567.9M296.5 555.8 L297.0 555.5 L298.0 554.8 L299.0 554.1 L300.0 553.5 L301.0 552.8 L302.0 552.1 L303.0 551.4 L304.0 550.7 L305.0 550.0 L306.0 549.3 L307.0 548.7 L308.0 548.0 L309.0 547.3 L309.5 547.0M327.3 534.7 L328.0 534.2 L329.0 533.5 L330.0 532.8 L331.0 532.1 L332.0 531.5 L333.0 530.8 L334.0 530.1 L335.0 529.4 L336.0 528.8 L337.0 528.1 L338.0 527.4 L339.0 526.8 L340.0 526.1 L340.3 525.9M358.5 514.3 L359.0 514.0 L360.0 513.4 L361.0 512.8 L362.0 512.2 L363.0 511.6 L364.0 511.0 L365.0 510.4 L366.0 509.8 L367.0 509.2 L368.0 508.6 L369.0 508.1 L370.0 507.5 L371.0 506.9 L372.0 506.4 L372.1 506.3M391.4 496.6 L392.0 496.3 L393.0 495.8 L394.0 495.4 L395.0 495.0 L396.0 494.5 L397.0 494.1 L398.0 493.7 L399.0 493.3 L400.0 492.9 L401.0 492.5 L402.0 492.1 L403.0 491.7 L404.0 491.4 L405.0 491.0 L405.9 490.7M426.7 484.8 L427.0 484.8 L428.0 484.6 L429.0 484.4 L430.0 484.2 L431.0 484.0 L432.0 483.9 L433.0 483.7 L434.0 483.5 L435.0 483.4 L436.0 483.3 L437.0 483.1 L438.0 483.0 L439.0 482.9 L440.0 482.8 L441.0 482.7 L442.0 482.6 L442.8 482.6M469.6 483.5 L470.0 483.6 L471.0 483.7 L472.0 483.9 L473.0 484.1 L474.0 484.2 L475.0 484.4 L476.0 484.6 L477.0 484.8 L478.0 485.0 L479.0 485.2 L480.0 485.5 L481.0 485.7 L482.0 485.9 L483.0 486.2 L484.0 486.4 L485.0 486.7M505.4 493.6 L506.0 493.8 L507.0 494.3 L508.0 494.7 L509.0 495.1 L510.0 495.5 L511.0 496.0 L512.0 496.4 L513.0 496.9 L514.0 497.3 L515.0 497.8 L516.0 498.3 L517.0 498.7 L518.0 499.2 L519.0 499.7 L519.7 500.1M538.7 510.4 L539.0 510.5 L540.0 511.1 L541.0 511.7 L542.0 512.3 L543.0 512.9 L544.0 513.5 L545.0 514.1 L546.0 514.8 L547.0 515.4 L548.0 516.0 L549.0 516.6 L550.0 517.2 L551.0 517.9 L552.0 518.5 L552.1 518.6M570.2 530.5 L571.0 531.0 L572.0 531.7 L573.0 532.3 L574.0 533.0 L575.0 533.7 L576.0 534.4 L577.0 535.1 L578.0 535.8 L579.0 536.4 L580.0 537.1 L581.0 537.8 L582.0 538.5 L583.0 539.2 L583.2 539.3M601.0 551.6 L601.0 551.6 L602.0 552.3 L603.0 553.0 L604.0 553.7 L605.0 554.3 L606.0 555.0 L607.0 555.7 L608.0 556.4 L609.0 557.1 L610.0 557.7 L611.0 558.4 L612.0 559.1 L613.0 559.8 L614.0 560.4M632.1 572.3 L633.0 572.9 L634.0 573.5 L635.0 574.1 L636.0 574.8 L637.0 575.4 L638.0 576.0 L639.0 576.6 L640.0 577.2 L641.0 577.9 L642.0 578.5 L643.0 579.1 L644.0 579.7 L645.0 580.3 L645.4 580.5M664.2 591.2 L665.0 591.7 L666.0 592.2 L667.0 592.7 L668.0 593.3 L669.0 593.8 L670.0 594.3 L671.0 594.8 L672.0 595.3 L673.0 595.9 L674.0 596.4 L675.0 596.9 L676.0 597.4 L677.0 597.9 L678.0 598.4 L678.2 598.4M697.9 607.4 L698.0 607.4 L699.0 607.8 L700.0 608.3 L701.0 608.7 L702.0 609.1 L703.0 609.5 L704.0 609.9 L705.0 610.3 L706.0 610.7 L707.0 611.0 L708.0 611.4 L709.0 611.8 L710.0 612.2 L711.0 612.6 L712.0 612.9 L712.5 613.1M733.0 619.9 L734.0 620.2 L735.0 620.4 L736.0 620.7 L737.0 621.0 L738.0 621.3 L739.0 621.6 L740.0 621.8 L741.0 622.1 L742.0 622.4 L743.0 622.6 L744.0 622.9 L745.0 623.2 L746.0 623.4 L747.0 623.7 L748.0 623.9 L748.2 624.0M769.3 628.6 L770.0 628.7 L771.0 628.9 L772.0 629.1 L773.0 629.2 L774.0 629.4 L775.0 629.6 L776.0 629.8 L777.0 629.9 L778.0 630.1 L779.0 630.3 L780.0 630.4 L781.0 630.6 L782.0 630.8 L783.0 630.9 L784.0 631.1 L784.8 631.2M806.4 634.0 L807.0 634.1 L808.0 634.2 L809.0 634.3 L810.0 634.4 L811.0 634.5 L812.0 634.6 L813.0 634.7 L814.0 634.8 L815.0 634.9 L816.0 635.0 L817.0 635.1 L818.0 635.2 L819.0 635.3 L820.0 635.4 L821.0 635.5 L822.0 635.5 L823.0 635.6 L823.8 635.7M850.9 637.5 L851.0 637.5 L852.0 637.6 L853.0 637.6 L854.0 637.7 L855.0 637.7 L856.0 637.8 L857.0 637.8 L858.0 637.8 L859.0 637.9 L860.0 637.9 L861.0 638.0 L862.0 638.0 L863.0 638.1 L864.0 638.1 L865.0 638.1 L866.0 638.2 L867.0 638.2 L868.0 638.3 L869.0 638.3 L870.0 638.3 L871.0 638.4 L872.0 638.4 L872.4 638.4" stroke="#FF0000"/>
<path d="M909.2 639.3 L910.0 639.3 L911.0 639.3 L912.0 639.4 L913.0 639.4 L914.0 639.4 L915.0 639.4 L916.0 639.4 L917.0 639.4 L918.0 639.4 L919.0 639.5 L920.0 639.5 L921.0 639.5 L922.0 639.5 L923.0 639.5 L924.0 639.5 L925.0 639.5 L926.0 639.5 L927.0 639.6 L928.0 639.6 L929.0 639.6 L930.0 639.6 L931.0 639.6M961.0 639.8 L962.0 639.8 L963.0 639.8 L964.0 639.8 L965.0 639.8 L966.0 639.8 L967.0 639.8 L968.0 639.8 L969.0 639.9 L970.0 639.9 L971.0 639.9 L972.0 639.9 L973.0 639.9 L974.0 639.9 L975.0 639.9 L976.0 639.9 L977.0 639.9 L978.0 639.9 L979.0 639.9 L980.0 639.9 L981.0 639.9 L982.0 639.9 L982.8 639.9M1012.8 640.0 L1013.0 640.0 L1014.0 640.0 L1015.0 640.0 L1016.0 640.0 L1017.0 640.0 L1018.0 640.0 L1019.0 640.0 L1020.0 640.0 L1021.0 640.0 L1022.0 640.0 L1023.0 640.0 L1024.0 640.0 L1025.0 640.0 L1026.0 640.0 L1027.0 640.0 L1028.0 640.0 L1029.0 640.0 L1030.0 640.0 L1031.0 640.0 L1032.0 640.0 L1033.0 640.0 L1034.0 640.0 L1034.6 640.0M1064.7 640.0 L1065.0 640.0 L1066.0 640.0 L1067.0 640.0 L1068.0 640.0 L1069.0 640.0 L1070.0 640.0 L1071.0 640.0 L1072.0 640.0 L1073.0 640.0 L1074.0 640.0 L1075.0 640.0 L1076.0 640.0 L1077.0 640.0 L1078.0 640.0 L1079.0 640.0 L1080.0 640.0 L1081.0 640.0 L1082.0 640.0 L1083.0 640.0 L1084.0 640.0 L1085.0 640.0 L1086.0 640.0 L1086.5 640.0M1116.5 640.0 L1117.0 640.0 L1118.0 640.0 L1119.0 640.0 L1120.0 640.0 L1121.0 640.0 L1122.0 640.0 L1123.0 640.0 L1124.0 640.0 L1125.0 640.0 L1126.0 640.0 L1127.0 640.0 L1128.0 640.0 L1129.0 640.0 L1130.0 640.0 L1131.0 640.0 L1132.0 640.0 L1133.0 640.0 L1134.0 640.0 L1135.0 640.0 L1136.0 640.0 L1137.0 640.0 L1138.0 640.0 L1138.3 640.0M1168.4 640.0 L1169.0 640.0 L1170.0 640.0 L1171.0 640.0 L1172.0 640.0 L1173.0 640.0 L1174.0 640.0 L1175.0 640.0 L1176.0 640.0 L1177.0 640.0 L1178.0 640.0 L1179.0 640.0 L1180.0 640.0 L1181.0 640.0 L1182.0 640.0 L1183.0 640.0 L1184.0 640.0 L1185.0 640.0 L1186.0 640.0 L1187.0 640.0 L1188.0 640.0 L1189.0 640.0 L1190.0 640.0 L1190.2 640.0M1220.2 640.0 L1221.0 640.0 L1222.0 640.0 L1223.0 640.0 L1224.0 640.0 L1225.0 640.0 L1226.0 640.0 L1227.0 640.0 L1228.0 640.0 L1229.0 640.0 L1230.0 640.0 L1231.0 640.0 L1232.0 640.0 L1233.0 640.0 L1234.0 640.0 L1235.0 640.0 L1236.0 640.0 L1237.0 640.0 L1238.0 640.0 L1239.0 640.0 L1240.0 640.0 L1241.0 640.0 L1242.0 640.0 L1242.0 640.0" stroke="#FF0000"/>
<path d="M127.0 639.9 L128.0 639.9 L129.0 639.9 L130.0 639.9 L131.0 639.9 L132.0 639.9 L133.0 639.9 L134.0 639.9 L135.0 639.9 L136.0 639.9 L137.0 639.9 L138.0 639.9 L139.0 639.9 L140.0 639.9 L141.0 639.9 L142.0 639.9 L143.0 639.9 L144.0 639.9 L145.0 639.9 L146.0 639.9 L147.0 639.9 L148.0 639.9 L148.8 639.9M178.8 639.8 L179.0 639.8 L180.0 639.8 L181.0 639.8 L182.0 639.8 L183.0 639.8 L184.0 639.8 L185.0 639.7 L186.0 639.7 L187.0 639.7 L188.0 639.7 L189.0 639.7 L190.0 639.7 L191.0 639.7 L192.0 639.7 L193.0 639.7 L194.0 639.7 L195.0 639.7 L196.0 639.7 L197.0 639.7 L198.0 639.7 L199.0 639.7 L200.0 639.7 L200.6 639.7M230.7 639.4 L231.0 639.4 L232.0 639.4 L233.0 639.4 L234.0 639.3 L235.0 639.3 L236.0 639.3 L237.0 639.3 L238.0 639.3 L239.0 639.3 L240.0 639.3 L241.0 639.3 L242.0 639.2 L243.0 639.2 L244.0 639.2 L245.0 639.2 L246.0 639.2 L247.0 639.2 L248.0 639.2 L249.0 639.1 L250.0 639.1 L251.0 639.1 L252.0 639.1 L252.5 639.1M282.5 638.5 L283.0 638.5 L284.0 638.4 L285.0 638.4 L286.0 638.4 L287.0 638.4 L288.0 638.3 L289.0 638.3 L290.0 638.3 L291.0 638.2 L292.0 638.2 L293.0 638.2 L294.0 638.2 L295.0 638.1 L296.0 638.1 L297.0 638.1 L298.0 638.0 L299.0 638.0 L300.0 638.0 L301.0 637.9 L302.0 637.9 L303.0 637.9 L304.0 637.8 L304.3 637.8M334.0 636.6 L334.0 636.6 L335.0 636.5 L336.0 636.5 L337.0 636.4 L338.0 636.4 L339.0 636.3 L340.0 636.2 L341.0 636.2 L342.0 636.1 L343.0 636.1 L344.0 636.0 L345.0 636.0 L346.0 635.9 L347.0 635.8 L348.0 635.8 L349.0 635.7 L350.0 635.7 L351.0 635.6 L352.0 635.5 L353.0 635.5 L354.0 635.4 L354.4 635.4M380.6 633.4 L381.0 633.4 L382.0 633.3 L383.0 633.2 L384.0 633.1 L385.0 633.0 L386.0 632.9 L387.0 632.8 L388.0 632.7 L389.0 632.6 L390.0 632.5 L391.0 632.4 L392.0 632.4 L393.0 632.3 L394.0 632.2 L395.0 632.1 L396.0 632.0 L397.0 631.9 L398.0 631.7 L398.1 631.7M420.3 629.2 L421.0 629.1 L422.0 629.0 L423.0 628.9 L424.0 628.7 L425.0 628.6 L426.0 628.5 L427.0 628.3 L428.0 628.2 L429.0 628.1 L430.0 627.9 L431.0 627.8 L432.0 627.6 L433.0 627.5 L434.0 627.4 L435.0 627.2 L435.8 627.1M457.2 623.8 L458.0 623.6 L459.0 623.5 L460.0 623.3 L461.0 623.1 L462.0 623.0 L463.0 622.8 L464.0 622.6 L465.0 622.4 L466.0 622.3 L467.0 622.1 L468.0 621.9 L469.0 621.7 L470.0 621.5 L471.0 621.4 L472.0 621.2 L472.6 621.0M493.9 616.9 L494.0 616.8 L495.0 616.6 L496.0 616.4 L497.0 616.2 L498.0 616.0 L499.0 615.8 L500.0 615.6 L501.0 615.4 L502.0 615.1 L503.0 614.9 L504.0 614.7 L505.0 614.5 L506.0 614.3 L507.0 614.1 L508.0 613.8 L509.0 613.6 L509.2 613.6M530.3 608.7 L531.0 608.5 L532.0 608.3 L533.0 608.0 L534.0 607.8 L535.0 607.5 L536.0 607.3 L537.0 607.0 L538.0 606.8 L539.0 606.5 L540.0 606.3 L541.0 606.1 L542.0 605.8 L543.0 605.6 L544.0 605.3 L545.0 605.1 L545.5 604.9M566.5 599.6 L567.0 599.5 L568.0 599.2 L569.0 599.0 L570.0 598.7 L571.0 598.4 L572.0 598.2 L573.0 597.9 L574.0 597.7 L575.0 597.4 L576.0 597.2 L577.0 596.9 L578.0 596.6 L579.0 596.4 L580.0 596.1 L581.0 595.9 L581.7 595.7M602.7 590.4 L603.0 590.3 L604.0 590.0 L605.0 589.8 L606.0 589.5 L607.0 589.3 L608.0 589.0 L609.0 588.8 L610.0 588.6 L611.0 588.3 L612.0 588.1 L613.0 587.8 L614.0 587.6 L615.0 587.3 L616.0 587.1 L617.0 586.9 L617.9 586.6M639.0 581.8 L640.0 581.6 L641.0 581.4 L642.0 581.2 L643.0 581.0 L644.0 580.8 L645.0 580.6 L646.0 580.3 L647.0 580.1 L648.0 579.9 L649.0 579.7 L650.0 579.5 L651.0 579.3 L652.0 579.1 L653.0 578.9 L654.0 578.7 L654.4 578.7M675.7 575.0 L676.0 574.9 L677.0 574.8 L678.0 574.6 L679.0 574.5 L680.0 574.3 L681.0 574.2 L682.0 574.0 L683.0 573.9 L684.0 573.7 L685.0 573.6 L686.0 573.5 L687.0 573.3 L688.0 573.2 L689.0 573.1 L690.0 573.0 L691.0 572.8 L691.3 572.8M715.5 570.6 L716.0 570.5 L717.0 570.5 L718.0 570.4 L719.0 570.4 L720.0 570.3 L721.0 570.2 L722.0 570.2 L723.0 570.2 L724.0 570.1 L725.0 570.1 L726.0 570.0 L727.0 570.0 L728.0 570.0 L729.0 569.9 L730.0 569.9 L731.0 569.9 L732.0 569.9 L733.0 569.8 L734.0 569.8 L735.0 569.8 L736.0 569.8 L736.9 569.8M766.4 570.6 L767.0 570.6 L768.0 570.7 L769.0 570.8 L770.0 570.8 L771.0 570.9 L772.0 571.0 L773.0 571.1 L774.0 571.2 L775.0 571.2 L776.0 571.3 L777.0 571.4 L778.0 571.5 L779.0 571.6 L780.0 571.7 L781.0 571.8 L782.0 571.9 L783.0 572.0 L784.0 572.1 L784.5 572.2M806.1 575.0 L807.0 575.2 L808.0 575.3 L809.0 575.5 L810.0 575.7 L811.0 575.8 L812.0 576.0 L813.0 576.2 L814.0 576.3 L815.0 576.5 L816.0 576.7 L817.0 576.8 L818.0 577.0 L819.0 577.2 L820.0 577.4 L821.0 577.6 L821.6 577.7M842.8 581.9 L843.0 582.0 L844.0 582.2 L845.0 582.4 L846.0 582.6 L847.0 582.8 L848.0 583.1 L849.0 583.3 L850.0 583.5 L851.0 583.7 L852.0 584.0 L853.0 584.2 L854.0 584.4 L855.0 584.7 L856.0 584.9 L857.0 585.1 L858.0 585.4 L858.1 585.4M879.1 590.5 L880.0 590.7 L881.0 591.0 L882.0 591.2 L883.0 591.5 L884.0 591.7 L885.0 592.0 L886.0 592.2 L887.0 592.5 L888.0 592.7 L889.0 593.0 L890.0 593.2 L891.0 593.5 L892.0 593.7 L893.0 594.0 L894.0 594.3 L894.3 594.3M915.3 599.7 L916.0 599.9 L917.0 600.2 L918.0 600.4 L919.0 600.7 L920.0 600.9 L921.0 601.2 L922.0 601.4 L923.0 601.7 L924.0 602.0 L925.0 602.2 L926.0 602.5 L927.0 602.7 L928.0 603.0 L929.0 603.2 L930.0 603.5 L930.5 603.6M951.5 608.8 L952.0 608.9 L953.0 609.1 L954.0 609.4 L955.0 609.6 L956.0 609.9 L957.0 610.1 L958.0 610.3 L959.0 610.6 L960.0 610.8 L961.0 611.0 L962.0 611.3 L963.0 611.5 L964.0 611.7 L965.0 612.0 L966.0 612.2 L966.8 612.4M987.9 617.0 L988.0 617.0 L989.0 617.2 L990.0 617.4 L991.0 617.6 L992.0 617.8 L993.0 618.0 L994.0 618.2 L995.0 618.4 L996.0 618.6 L997.0 618.8 L998.0 619.0 L999.0 619.2 L1000.0 619.4 L1001.0 619.6 L1002.0 619.8 L1003.0 620.0 L1003.3 620.0M1024.6 623.9 L1025.0 623.9 L1026.0 624.1 L1027.0 624.3 L1028.0 624.4 L1029.0 624.6 L1030.0 624.7 L1031.0 624.9 L1032.0 625.1 L1033.0 625.2 L1034.0 625.4 L1035.0 625.5 L1036.0 625.7 L1037.0 625.8 L1038.0 626.0 L1039.0 626.1 L1040.0 626.3 L1040.1 626.3M1061.5 629.3 L1062.0 629.3 L1063.0 629.4 L1064.0 629.6 L1065.0 629.7 L1066.0 629.8 L1067.0 629.9 L1068.0 630.1 L1069.0 630.2 L1070.0 630.3 L1071.0 630.4 L1072.0 630.5 L1073.0 630.6 L1074.0 630.7 L1075.0 630.9 L1076.0 631.0 L1077.0 631.1 L1077.4 631.1M1101.3 633.4 L1102.0 633.5 L1103.0 633.6 L1104.0 633.7 L1105.0 633.8 L1106.0 633.8 L1107.0 633.9 L1108.0 634.0 L1109.0 634.1 L1110.0 634.2 L1111.0 634.2 L1112.0 634.3 L1113.0 634.4 L1114.0 634.5 L1115.0 634.5 L1116.0 634.6 L1117.0 634.7 L1118.0 634.8 L1119.0 634.8 L1120.0 634.9 L1120.1 634.9M1148.0 636.6 L1148.0 636.6 L1149.0 636.6 L1150.0 636.7 L1151.0 636.7 L1152.0 636.8 L1153.0 636.8 L1154.0 636.9 L1155.0 636.9 L1156.0 637.0 L1157.0 637.0 L1158.0 637.1 L1159.0 637.1 L1160.0 637.2 L1161.0 637.2 L1162.0 637.2 L1163.0 637.3 L1164.0 637.3 L1165.0 637.4 L1166.0 637.4 L1167.0 637.4 L1168.0 637.5 L1169.0 637.5 L1169.4 637.5M1199.5 638.5 L1200.0 638.5 L1201.0 638.5 L1202.0 638.6 L1203.0 638.6 L1204.0 638.6 L1205.0 638.6 L1206.0 638.6 L1207.0 638.7 L1208.0 638.7 L1209.0 638.7 L1210.0 638.7 L1211.0 638.8 L1212.0 638.8 L1213.0 638.8 L1214.0 638.8 L1215.0 638.8 L1216.0 638.9 L1217.0 638.9 L1218.0 638.9 L1219.0 638.9 L1220.0 638.9 L1221.0 639.0 L1221.3 639.0M1251.3 639.4 L1252.0 639.4 L1253.0 639.4 L1254.0 639.4 L1255.0 639.4 L1256.0 639.4 L1257.0 639.5 L1258.0 639.5 L1259.0 639.5 L1260.0 639.5 L1261.0 639.5 L1262.0 639.5" stroke="#FF00FF"/>
<path d="M127.0 583.7 L128.0 582.9 L129.0 582.1 L130.0 581.2 L131.0 580.4 L132.0 579.5 L133.0 578.6 L134.0 577.8 L135.0 576.9 L136.0 576.0 L137.0 575.0 L138.0 574.1 L139.0 573.2 L140.0 572.2 L141.0 571.3 L142.0 570.3 L143.0 569.3 L144.0 568.4 L145.0 567.4 L146.0 566.4 L147.0 565.3 L148.0 564.3 L149.0 563.3 L150.0 562.2 L151.0 561.2 L152.0 560.1 L153.0 559.0 L154.0 557.9 L155.0 556.8 L156.0 555.7 L157.0 554.6 L158.0 553.5 L159.0 552.4 L160.0 551.2 L161.0 550.1 L162.0 548.9 L163.0 547.7 L164.0 546.5 L165.0 545.3 L166.0 544.1 L167.0 542.9 L168.0 541.7 L169.0 540.4 L170.0 539.2 L171.0 537.9 L172.0 536.7 L173.0 535.4 L174.0 534.1 L175.0 532.8 L176.0 531.5 L177.0 530.2 L178.0 528.9 L179.0 527.6 L180.0 526.3 L181.0 524.9 L182.0 523.6 L183.0 522.2 L184.0 520.9 L185.0 519.5 L186.0 518.1 L187.0 516.7 L188.0 515.4 L189.0 514.0 L190.0 512.6 L191.0 511.1 L192.0 509.7 L193.0 508.3 L194.0 506.9 L195.0 505.4 L196.0 504.0 L197.0 502.6 L198.0 501.1 L199.0 499.6 L200.0 498.2 L201.0 496.7 L202.0 495.2 L203.0 493.8 L204.0 492.3 L205.0 490.8 L206.0 489.3 L207.0 487.8 L208.0 486.4 L209.0 484.9 L210.0 483.4 L211.0 481.9 L212.0 480.4 L213.0 478.9 L214.0 477.4 L215.0 475.9 L216.0 474.4 L217.0 472.9 L218.0 471.4 L219.0 469.9 L220.0 468.4 L221.0 466.9 L222.0 465.3 L223.0 463.8 L224.0 462.3 L225.0 460.8 L226.0 459.4 L227.0 457.9 L228.0 456.4 L229.0 454.9 L230.0 453.4 L231.0 451.9 L232.0 450.4 L233.0 449.0 L234.0 447.5 L235.0 446.0 L236.0 444.6 L237.0 443.1 L238.0 441.7 L239.0 440.2 L240.0 438.8 L241.0 437.4 L242.0 435.9 L243.0 434.5 L244.0 433.1 L245.0 431.7 L246.0 430.3 L247.0 428.9 L248.0 427.5 L249.0 426.2 L250.0 424.8 L251.0 423.5 L252.0 422.1 L253.0 420.8 L254.0 419.5 L255.0 418.2 L256.0 416.9 L257.0 415.6 L258.0 414.3 L259.0 413.0 L260.0 411.8 L261.0 410.5 L262.0 409.3 L263.0 408.1 L264.0 406.9 L265.0 405.7 L266.0 404.5 L267.0 403.3 L268.0 402.2 L269.0 401.0 L270.0 399.9 L271.0 398.8 L272.0 397.7 L273.0 396.6 L274.0 395.6 L275.0 394.5 L276.0 393.5 L277.0 392.5 L278.0 391.5 L279.0 390.5 L280.0 389.5 L281.0 388.5 L282.0 387.6 L283.0 386.7 L284.0 385.8 L285.0 384.9 L286.0 384.0 L287.0 383.1 L288.0 382.3 L289.0 381.5 L290.0 380.7 L291.0 379.9 L292.0 379.1 L293.0 378.3 L294.0 377.6 L295.0 376.9 L296.0 376.2 L297.0 375.5 L298.0 374.8 L299.0 374.2 L300.0 373.6 L301.0 372.9 L302.0 372.4 L303.0 371.8 L304.0 371.2 L305.0 370.7 L306.0 370.2 L307.0 369.7 L308.0 369.2 L309.0 368.7 L310.0 368.2 L311.0 367.8 L312.0 367.4 L313.0 367.0 L314.0 366.6 L315.0 366.3 L316.0 365.9 L317.0 365.6 L318.0 365.3 L319.0 365.0 L320.0 364.7 L321.0 364.5 L322.0 364.2 L323.0 364.0 L324.0 363.8 L325.0 363.6 L326.0 363.5 L327.0 363.3 L328.0 363.2 L329.0 363.0 L330.0 362.9 L331.0 362.9 L332.0 362.8 L333.0 362.7 L334.0 362.7 L335.0 362.7 L336.0 362.7 L337.0 362.7 L338.0 362.7 L339.0 362.7 L340.0 362.8 L341.0 362.8 L342.0 362.9 L343.0 363.0 L344.0 363.1 L345.0 363.3 L346.0 363.4 L347.0 363.5 L348.0 363.7 L349.0 363.9 L350.0 364.1 L351.0 364.3 L352.0 364.5 L353.0 364.7 L354.0 365.0 L355.0 365.2 L356.0 365.5 L357.0 365.8 L358.0 366.1 L359.0 366.4 L360.0 366.7 L361.0 367.0 L362.0 367.3 L363.0 367.7 L364.0 368.0 L365.0 368.4 L366.0 368.8 L367.0 369.1 L368.0 369.5 L369.0 369.9 L370.0 370.4 L371.0 370.8 L372.0 371.2 L373.0 371.6 L374.0 372.1 L375.0 372.5 L376.0 373.0 L377.0 373.5 L378.0 373.9 L379.0 374.4 L380.0 374.9 L381.0 375.4 L382.0 375.9 L383.0 376.4 L384.0 376.9 L385.0 377.5 L386.0 378.0 L387.0 378.5 L388.0 379.1 L389.0 379.6 L390.0 380.2 L391.0 380.7 L392.0 381.3 L393.0 381.8 L394.0 382.4 L395.0 383.0 L396.0 383.5 L397.0 384.1 L398.0 384.7 L399.0 385.3 L400.0 385.9 L401.0 386.5 L402.0 387.1 L403.0 387.7 L404.0 388.3 L405.0 388.9 L406.0 389.5 L407.0 390.1 L408.0 390.7 L409.0 391.4 L410.0 392.0 L411.0 392.6 L412.0 393.2 L413.0 393.8 L414.0 394.5 L415.0 395.1 L416.0 395.7 L417.0 396.4 L418.0 397.0 L419.0 397.6 L420.0 398.3 L421.0 398.9 L422.0 399.5 L423.0 400.2 L424.0 400.8 L425.0 401.4 L426.0 402.1 L427.0 402.7 L428.0 403.4 L429.0 404.0 L430.0 404.6 L431.0 405.3 L432.0 405.9 L433.0 406.6 L434.0 407.2 L435.0 407.9 L436.0 408.5 L437.0 409.1 L438.0 409.8 L439.0 410.4 L440.0 411.1 L441.0 411.7 L442.0 412.3 L443.0 413.0 L444.0 413.6 L445.0 414.3 L446.0 414.9 L447.0 415.5 L448.0 416.2 L449.0 416.8 L450.0 417.4 L451.0 418.1 L452.0 418.7 L453.0 419.3 L454.0 420.0 L455.0 420.6 L456.0 421.2 L457.0 421.9 L458.0 422.5 L459.0 423.1 L460.0 423.8 L461.0 424.4 L462.0 425.0 L463.0 425.7 L464.0 426.3 L465.0 426.9 L466.0 427.5 L467.0 428.2 L468.0 428.8 L469.0 429.4 L470.0 430.0 L471.0 430.6 L472.0 431.3 L473.0 431.9 L474.0 432.5 L475.0 433.1 L476.0 433.7 L477.0 434.3 L478.0 435.0 L479.0 435.6 L480.0 436.2 L481.0 436.8 L482.0 437.4 L483.0 438.0 L484.0 438.6 L485.0 439.2 L486.0 439.8 L487.0 440.5 L488.0 441.1 L489.0 441.7 L490.0 442.3 L491.0 442.9 L492.0 443.5 L493.0 444.1 L494.0 444.7 L495.0 445.3 L496.0 445.9 L497.0 446.5 L498.0 447.1 L499.0 447.7 L500.0 448.3 L501.0 448.9 L502.0 449.5 L503.0 450.1 L504.0 450.7 L505.0 451.2 L506.0 451.8 L507.0 452.4 L508.0 453.0 L509.0 453.6 L510.0 454.2 L511.0 454.8 L512.0 455.4 L513.0 456.0 L514.0 456.6 L515.0 457.1 L516.0 457.7 L517.0 458.3 L518.0 458.9 L519.0 459.5 L520.0 460.1 L521.0 460.6 L522.0 461.2 L523.0 461.8 L524.0 462.4 L525.0 462.9 L526.0 463.5 L527.0 464.1 L528.0 464.7 L529.0 465.2 L530.0 465.8 L531.0 466.4 L532.0 467.0 L533.0 467.5 L534.0 468.1 L535.0 468.7 L536.0 469.2 L537.0 469.8 L538.0 470.4 L539.0 470.9 L540.0 471.5 L541.0 472.1 L542.0 472.6 L543.0 473.2 L544.0 473.7 L545.0 474.3 L546.0 474.8 L547.0 475.4 L548.0 476.0 L549.0 476.5 L550.0 477.1 L551.0 477.6 L552.0 478.2 L553.0 478.7 L554.0 479.3 L555.0 479.8 L556.0 480.4 L557.0 480.9 L558.0 481.4 L559.0 482.0 L560.0 482.5 L561.0 483.1 L562.0 483.6 L563.0 484.1 L564.0 484.7 L565.0 485.2 L566.0 485.7 L567.0 486.3 L568.0 486.8 L569.0 487.3 L570.0 487.8 L571.0 488.4 L572.0 488.9 L573.0 489.4 L574.0 489.9 L575.0 490.4 L576.0 491.0 L577.0 491.5 L578.0 492.0 L579.0 492.5 L580.0 493.0 L581.0 493.5 L582.0 494.0 L583.0 494.5 L584.0 495.0 L585.0 495.5 L586.0 496.0 L587.0 496.5 L588.0 497.0 L589.0 497.5 L590.0 498.0 L591.0 498.5 L592.0 499.0 L593.0 499.5 L594.0 499.9 L595.0 500.4 L596.0 500.9 L597.0 501.4 L598.0 501.9 L599.0 502.3 L600.0 502.8 L601.0 503.3 L602.0 503.8 L603.0 504.2 L604.0 504.7 L605.0 505.1 L606.0 505.6 L607.0 506.1 L608.0 506.5 L609.0 507.0 L610.0 507.4 L611.0 507.9 L612.0 508.3 L613.0 508.8 L614.0 509.2 L615.0 509.7 L616.0 510.1 L617.0 510.6 L618.0 511.0 L619.0 511.4 L620.0 511.9 L621.0 512.3 L622.0 512.7 L623.0 513.1 L624.0 513.6 L625.0 514.0 L626.0 514.4 L627.0 514.8 L628.0 515.2 L629.0 515.7 L630.0 516.1 L631.0 516.5 L632.0 516.9 L633.0 517.3 L634.0 517.7 L635.0 518.1 L636.0 518.5 L637.0 518.9 L638.0 519.3 L639.0 519.7 L640.0 520.1 L641.0 520.5 L642.0 520.9 L643.0 521.3 L644.0 521.6 L645.0 522.0 L646.0 522.4 L647.0 522.8 L648.0 523.2 L649.0 523.5 L650.0 523.9 L651.0 524.3 L652.0 524.6 L653.0 525.0 L654.0 525.4 L655.0 525.7 L656.0 526.1 L657.0 526.5 L658.0 526.8 L659.0 527.2 L660.0 527.5 L661.0 527.9 L662.0 528.2 L663.0 528.6 L664.0 528.9 L665.0 529.3 L666.0 529.6 L667.0 529.9 L668.0 530.3 L669.0 530.6 L670.0 531.0 L671.0 531.3 L672.0 531.6 L673.0 532.0 L674.0 532.3 L675.0 532.6 L676.0 532.9 L677.0 533.3 L678.0 533.6 L679.0 533.9 L680.0 534.2 L681.0 534.6 L682.0 534.9 L683.0 535.2 L684.0 535.5 L685.0 535.8 L686.0 536.1 L687.0 536.4 L688.0 536.7 L689.0 537.1 L690.0 537.4 L691.0 537.7 L692.0 538.0 L693.0 538.3 L694.0 538.6 L695.0 538.9 L696.0 539.2 L697.0 539.5 L698.0 539.8 L699.0 540.1 L700.0 540.4 L701.0 540.7 L702.0 540.9 L703.0 541.2 L704.0 541.5 L705.0 541.8 L706.0 542.1 L707.0 542.4 L708.0 542.7 L709.0 543.0 L710.0 543.2 L711.0 543.5 L712.0 543.8 L713.0 544.1 L714.0 544.4 L715.0 544.6 L716.0 544.9 L717.0 545.2 L718.0 545.5 L719.0 545.8 L720.0 546.0 L721.0 546.3 L722.0 546.6 L723.0 546.9 L724.0 547.1 L725.0 547.4 L726.0 547.7 L727.0 547.9 L728.0 548.2 L729.0 548.5 L730.0 548.8 L731.0 549.0 L732.0 549.3 L733.0 549.6 L734.0 549.8 L735.0 550.1 L736.0 550.4 L737.0 550.6 L738.0 550.9 L739.0 551.2 L740.0 551.4 L741.0 551.7 L742.0 552.0 L743.0 552.2 L744.0 552.5 L745.0 552.7 L746.0 553.0 L747.0 553.3 L748.0 553.5 L749.0 553.8 L750.0 554.1 L751.0 554.3 L752.0 554.6 L753.0 554.8 L754.0 555.1 L755.0 555.4 L756.0 555.6 L757.0 555.9 L758.0 556.1 L759.0 556.4 L760.0 556.7 L761.0 556.9 L762.0 557.2 L763.0 557.5 L764.0 557.7 L765.0 558.0 L766.0 558.2 L767.0 558.5 L768.0 558.8 L769.0 559.0 L770.0 559.3 L771.0 559.5 L772.0 559.8 L773.0 560.1 L774.0 560.3 L775.0 560.6 L776.0 560.8 L777.0 561.1 L778.0 561.4 L779.0 561.6 L780.0 561.9 L781.0 562.1 L782.0 562.4 L783.0 562.7 L784.0 562.9 L785.0 563.2 L786.0 563.5 L787.0 563.7 L788.0 564.0 L789.0 564.3 L790.0 564.5 L791.0 564.8 L792.0 565.0 L793.0 565.3 L794.0 565.6 L795.0 565.8 L796.0 566.1 L797.0 566.4 L798.0 566.6 L799.0 566.9 L800.0 567.2 L801.0 567.4 L802.0 567.7 L803.0 568.0 L804.0 568.2 L805.0 568.5 L806.0 568.8 L807.0 569.0 L808.0 569.3 L809.0 569.6 L810.0 569.8 L811.0 570.1 L812.0 570.4 L813.0 570.6 L814.0 570.9 L815.0 571.2 L816.0 571.4 L817.0 571.7 L818.0 572.0 L819.0 572.3 L820.0 572.5 L821.0 572.8 L822.0 573.1 L823.0 573.3 L824.0 573.6 L825.0 573.9 L826.0 574.2 L827.0 574.4 L828.0 574.7 L829.0 575.0 L830.0 575.3 L831.0 575.5 L832.0 575.8 L833.0 576.1 L834.0 576.4 L835.0 576.6 L836.0 576.9 L837.0 577.2 L838.0 577.5 L839.0 577.7 L840.0 578.0 L841.0 578.3 L842.0 578.6 L843.0 578.8 L844.0 579.1 L845.0 579.4 L846.0 579.7 L847.0 579.9 L848.0 580.2 L849.0 580.5 L850.0 580.8 L851.0 581.0 L852.0 581.3 L853.0 581.6 L854.0 581.9 L855.0 582.2 L856.0 582.4 L857.0 582.7 L858.0 583.0 L859.0 583.3 L860.0 583.5 L861.0 583.8 L862.0 584.1 L863.0 584.4 L864.0 584.7 L865.0 584.9 L866.0 585.2 L867.0 585.5 L868.0 585.8 L869.0 586.1 L870.0 586.3 L871.0 586.6 L872.0 586.9 L873.0 587.2 L874.0 587.4 L875.0 587.7 L876.0 588.0 L877.0 588.3 L878.0 588.6 L879.0 588.8 L880.0 589.1 L881.0 589.4 L882.0 589.7 L883.0 589.9 L884.0 590.2 L885.0 590.5 L886.0 590.8 L887.0 591.0 L888.0 591.3 L889.0 591.6 L890.0 591.9 L891.0 592.1 L892.0 592.4 L893.0 592.7 L894.0 593.0 L895.0 593.2 L896.0 593.5 L897.0 593.8 L898.0 594.1 L899.0 594.3 L900.0 594.6 L901.0 594.9 L902.0 595.2 L903.0 595.4 L904.0 595.7 L905.0 596.0 L906.0 596.2 L907.0 596.5 L908.0 596.8 L909.0 597.0 L910.0 597.3 L911.0 597.6 L912.0 597.8 L913.0 598.1 L914.0 598.4 L915.0 598.6 L916.0 598.9 L917.0 599.2 L918.0 599.4 L919.0 599.7 L920.0 600.0 L921.0 600.2 L922.0 600.5 L923.0 600.8 L924.0 601.0 L925.0 601.3 L926.0 601.5 L927.0 601.8 L928.0 602.1 L929.0 602.3 L930.0 602.6 L931.0 602.8 L932.0 603.1 L933.0 603.3 L934.0 603.6 L935.0 603.9 L936.0 604.1 L937.0 604.4 L938.0 604.6 L939.0 604.9 L940.0 605.1 L941.0 605.4 L942.0 605.6 L943.0 605.9 L944.0 606.1 L945.0 606.4 L946.0 606.6 L947.0 606.8 L948.0 607.1 L949.0 607.3 L950.0 607.6 L951.0 607.8 L952.0 608.1 L953.0 608.3 L954.0 608.5 L955.0 608.8 L956.0 609.0 L957.0 609.3 L958.0 609.5 L959.0 609.7 L960.0 610.0 L961.0 610.2 L962.0 610.4 L963.0 610.7 L964.0 610.9 L965.0 611.1 L966.0 611.4 L967.0 611.6 L968.0 611.8 L969.0 612.0 L970.0 612.3 L971.0 612.5 L972.0 612.7 L973.0 612.9 L974.0 613.2 L975.0 613.4 L976.0 613.6 L977.0 613.8 L978.0 614.0 L979.0 614.2 L980.0 614.5 L981.0 614.7 L982.0 614.9 L983.0 615.1 L984.0 615.3 L985.0 615.5 L986.0 615.7 L987.0 615.9 L988.0 616.1 L989.0 616.4 L990.0 616.6 L991.0 616.8 L992.0 617.0 L993.0 617.2 L994.0 617.4 L995.0 617.6 L996.0 617.8 L997.0 618.0 L998.0 618.2 L999.0 618.4 L1000.0 618.6 L1001.0 618.7 L1002.0 618.9 L1003.0 619.1 L1004.0 619.3 L1005.0 619.5 L1006.0 619.7 L1007.0 619.9 L1008.0 620.1 L1009.0 620.3 L1010.0 620.4 L1011.0 620.6 L1012.0 620.8 L1013.0 621.0 L1014.0 621.2 L1015.0 621.3 L1016.0 621.5 L1017.0 621.7 L1018.0 621.9 L1019.0 622.0 L1020.0 622.2 L1021.0 622.4 L1022.0 622.6 L1023.0 622.7 L1024.0 622.9 L1025.0 623.1 L1026.0 623.2 L1027.0 623.4 L1028.0 623.6 L1029.0 623.7 L1030.0 623.9 L1031.0 624.0 L1032.0 624.2 L1033.0 624.4 L1034.0 624.5 L1035.0 624.7 L1036.0 624.8 L1037.0 625.0 L1038.0 625.1 L1039.0 625.3 L1040.0 625.4 L1041.0 625.6 L1042.0 625.7 L1043.0 625.9 L1044.0 626.0 L1045.0 626.2 L1046.0 626.3 L1047.0 626.5 L1048.0 626.6 L1049.0 626.8 L1050.0 626.9 L1051.0 627.0 L1052.0 627.2 L1053.0 627.3 L1054.0 627.4 L1055.0 627.6 L1056.0 627.7 L1057.0 627.9 L1058.0 628.0 L1059.0 628.1 L1060.0 628.2 L1061.0 628.4 L1062.0 628.5 L1063.0 628.6 L1064.0 628.8 L1065.0 628.9 L1066.0 629.0 L1067.0 629.1 L1068.0 629.2 L1069.0 629.4 L1070.0 629.5 L1071.0 629.6 L1072.0 629.7 L1073.0 629.8 L1074.0 630.0 L1075.0 630.1 L1076.0 630.2 L1077.0 630.3 L1078.0 630.4 L1079.0 630.5 L1080.0 630.6 L1081.0 630.7 L1082.0 630.8 L1083.0 630.9 L1084.0 631.1 L1085.0 631.2 L1086.0 631.3 L1087.0 631.4 L1088.0 631.5 L1089.0 631.6 L1090.0 631.7 L1091.0 631.8 L1092.0 631.9 L1093.0 632.0 L1094.0 632.1 L1095.0 632.2 L1096.0 632.3 L1097.0 632.3 L1098.0 632.4 L1099.0 632.5 L1100.0 632.6 L1101.0 632.7 L1102.0 632.8 L1103.0 632.9 L1104.0 633.0 L1105.0 633.1 L1106.0 633.2 L1107.0 633.2 L1108.0 633.3 L1109.0 633.4 L1110.0 633.5 L1111.0 633.6 L1112.0 633.7 L1113.0 633.7 L1114.0 633.8 L1115.0 633.9 L1116.0 634.0 L1117.0 634.0 L1118.0 634.1 L1119.0 634.2 L1120.0 634.3 L1121.0 634.3 L1122.0 634.4 L1123.0 634.5 L1124.0 634.6 L1125.0 634.6 L1126.0 634.7 L1127.0 634.8 L1128.0 634.8 L1129.0 634.9 L1130.0 635.0 L1131.0 635.0 L1132.0 635.1 L1133.0 635.2 L1134.0 635.2 L1135.0 635.3 L1136.0 635.4 L1137.0 635.4 L1138.0 635.5 L1139.0 635.5 L1140.0 635.6 L1141.0 635.7 L1142.0 635.7 L1143.0 635.8 L1144.0 635.8 L1145.0 635.9 L1146.0 636.0 L1147.0 636.0 L1148.0 636.1 L1149.0 636.1 L1150.0 636.2 L1151.0 636.2 L1152.0 636.3 L1153.0 636.3 L1154.0 636.4 L1155.0 636.4 L1156.0 636.5 L1157.0 636.5 L1158.0 636.6 L1159.0 636.6 L1160.0 636.7 L1161.0 636.7 L1162.0 636.8 L1163.0 636.8 L1164.0 636.9 L1165.0 636.9 L1166.0 637.0 L1167.0 637.0 L1168.0 637.0 L1169.0 637.1 L1170.0 637.1 L1171.0 637.2 L1172.0 637.2 L1173.0 637.2 L1174.0 637.3 L1175.0 637.3 L1176.0 637.4 L1177.0 637.4 L1178.0 637.4 L1179.0 637.5 L1180.0 637.5 L1181.0 637.6 L1182.0 637.6 L1183.0 637.6 L1184.0 637.7 L1185.0 637.7 L1186.0 637.7 L1187.0 637.8 L1188.0 637.8 L1189.0 637.8 L1190.0 637.9 L1191.0 637.9 L1192.0 637.9 L1193.0 638.0 L1194.0 638.0 L1195.0 638.0 L1196.0 638.1 L1197.0 638.1 L1198.0 638.1 L1199.0 638.1 L1200.0 638.2 L1201.0 638.2 L1202.0 638.2 L1203.0 638.3 L1204.0 638.3 L1205.0 638.3 L1206.0 638.3 L1207.0 638.4 L1208.0 638.4 L1209.0 638.4 L1210.0 638.4 L1211.0 638.5 L1212.0 638.5 L1213.0 638.5 L1214.0 638.5 L1215.0 638.6 L1216.0 638.6 L1217.0 638.6 L1218.0 638.6 L1219.0 638.6 L1220.0 638.7 L1221.0 638.7 L1222.0 638.7 L1223.0 638.7 L1224.0 638.8 L1225.0 638.8 L1226.0 638.8 L1227.0 638.8 L1228.0 638.8 L1229.0 638.9 L1230.0 638.9 L1231.0 638.9 L1232.0 638.9 L1233.0 638.9 L1234.0 638.9 L1235.0 639.0 L1236.0 639.0 L1237.0 639.0 L1238.0 639.0 L1239.0 639.0 L1240.0 639.0 L1241.0 639.1 L1242.0 639.1 L1243.0 639.1 L1244.0 639.1 L1245.0 639.1 L1246.0 639.1 L1247.0 639.2 L1248.0 639.2 L1249.0 639.2 L1250.0 639.2 L1251.0 639.2 L1252.0 639.2 L1253.0 639.2 L1254.0 639.2 L1255.0 639.3 L1256.0 639.3 L1257.0 639.3 L1258.0 639.3 L1259.0 639.3 L1260.0 639.3 L1261.0 639.3 L1262.0 639.3 L1263.0 639.4 L1264.0 639.4 L1265.0 639.4 L1266.0 639.4 L1267.0 639.4 L1268.0 639.4 L1269.0 639.4 L1270.0 639.4 L1271.0 639.4 L1272.0 639.5 L1273.0 639.5 L1274.0 639.5 L1275.0 639.5 L1276.0 639.5 L1277.0 639.5 L1278.0 639.5 L1279.0 639.5 L1280.0 639.5 L1281.0 639.5 L1282.0 639.5 L1283.0 639.6 L1284.0 639.6 L1285.0 639.6 L1286.0 639.6 L1287.0 639.6 L1288.0 639.6 L1289.0 639.6 L1290.0 639.6 L1291.0 639.6 L1292.0 639.6 L1293.0 639.6 L1294.0 639.6 L1295.0 639.6 L1296.0 639.6 L1297.0 639.7 L1298.0 639.7 L1299.0 639.7 L1300.0 639.7 L1301.0 639.7 L1302.0 639.7 L1303.0 639.7 L1304.0 639.7 L1305.0 639.7 L1306.0 639.7 L1307.0 639.7 L1308.0 639.7 L1309.0 639.7 L1310.0 639.7 L1311.0 639.7 L1312.0 639.7 L1313.0 639.7 L1314.0 639.8 L1315.0 639.8 L1316.0 639.8 L1317.0 639.8 L1318.0 639.8 L1319.0 639.8 L1320.0 639.8 L1321.0 639.8 L1322.0 639.8 L1323.0 639.8 L1324.0 639.8 L1325.0 639.8 L1326.0 639.8 L1327.0 639.8 L1328.0 639.8 L1329.0 639.8 L1330.0 639.8 L1331.0 639.8 L1332.0 639.8 L1333.0 639.8 L1334.0 639.8 L1335.0 639.8 L1336.0 639.8 L1337.0 639.8 L1338.0 639.8 L1339.0 639.8 L1340.0 639.9 L1341.0 639.9 L1342.0 639.9 L1343.0 639.9 L1344.0 639.9 L1345.0 639.9 L1346.0 639.9 L1347.0 639.9 L1348.0 639.9 L1349.0 639.9 L1350.0 639.9 L1351.0 639.9 L1352.0 639.9 L1353.0 639.9 L1354.0 639.9 L1355.0 639.9 L1356.0 639.9 L1357.0 639.9 L1358.0 639.9 L1359.0 639.9 L1360.0 639.9 L1361.0 639.9 L1362.0 639.9 L1363.0 639.9 L1364.0 639.9 L1365.0 639.9 L1366.0 639.9 L1367.0 639.9 L1368.0 639.9 L1369.0 639.9 L1370.0 639.9 L1371.0 639.9 L1372.0 639.9 L1373.0 639.9 L1374.0 639.9 L1375.0 639.9 L1376.0 639.9 L1377.0 639.9 L1378.0 639.9 L1379.0 639.9 L1380.0 639.9 L1381.0 639.9 L1382.0 639.9 L1383.0 639.9 L1384.0 639.9 L1385.0 639.9 L1386.0 639.9 L1387.0 639.9 L1388.0 639.9 L1389.0 639.9 L1390.0 639.9 L1391.0 639.9 L1392.0 640.0 L1393.0 640.0 L1394.0 640.0 L1395.0 640.0 L1396.0 640.0 L1397.0 640.0 L1398.0 640.0 L1399.0 640.0 L1400.0 640.0 L1401.0 640.0 L1402.0 640.0 L1403.0 640.0 L1404.0 640.0 L1405.0 640.0 L1406.0 640.0 L1407.0 640.0 L1408.0 640.0 L1409.0 640.0 L1410.0 640.0 L1411.0 640.0 L1412.0 640.0 L1413.0 640.0 L1414.0 640.0 L1415.0 640.0 L1416.0 640.0 L1417.0 640.0 L1418.0 640.0 L1419.0 640.0 L1420.0 640.0 L1421.0 640.0 L1422.0 640.0 L1423.0 640.0 L1424.0 640.0 L1425.0 640.0 L1426.0 640.0 L1427.0 640.0 L1428.0 640.0 L1429.0 640.0 L1430.0 640.0 L1431.0 640.0 L1432.0 640.0 L1433.0 640.0 L1434.0 640.0 L1435.0 640.0 L1436.0 640.0 L1437.0 640.0 L1438.0 640.0 L1439.0 640.0 L1440.0 640.0 L1441.0 640.0 L1442.0 640.0 L1443.0 640.0 L1444.0 640.0 L1445.0 640.0 L1446.0 640.0 L1447.0 640.0 L1448.0 640.0 L1449.0 640.0 L1450.0 640.0 L1451.0 640.0 L1452.0 640.0 L1453.0 640.0 L1454.0 640.0 L1455.0 640.0 L1456.0 640.0 L1457.0 640.0 L1458.0 640.0 L1459.0 640.0 L1460.0 640.0 L1461.0 640.0 L1462.0 640.0 L1463.0 640.0 L1464.0 640.0 L1465.0 640.0 L1466.0 640.0 L1467.0 640.0 L1468.0 640.0 L1469.0 640.0 L1470.0 640.0 L1471.0 640.0 L1472.0 640.0 L1473.0 640.0 L1474.0 640.0 L1475.0 640.0 L1476.0 640.0 L1477.0 640.0 L1478.0 640.0 L1479.0 640.0 L1480.0 640.0 L1481.0 640.0 L1482.0 640.0 L1483.0 640.0 L1484.0 640.0 L1485.0 640.0 L1486.0 640.0 L1487.0 640.0 L1488.0 640.0 L1489.0 640.0 L1490.0 640.0 L1491.0 640.0 L1492.0 640.0 L1493.0 640.0 L1494.0 640.0 L1495.0 640.0 L1496.0 640.0 L1497.0 640.0 L1498.0 640.0 L1499.0 640.0 L1500.0 640.0 L1501.0 640.0 L1502.0 640.0 L1503.0 640.0 L1504.0 640.0 L1505.0 640.0 L1506.0 640.0 L1507.0 640.0 L1508.0 640.0 L1509.0 640.0 L1510.0 640.0 L1511.0 640.0 L1512.0 640.0 L1513.0 640.0 L1514.0 640.0 L1515.0 640.0 L1516.0 640.0 L1517.0 640.0 L1518.0 640.0 L1519.0 640.0 L1520.0 640.0 L1521.0 640.0 L1522.0 640.0 L1523.0 640.0 L1524.0 640.0 L1525.0 640.0 L1526.0 640.0 L1527.0 640.0 L1528.0 640.0 L1529.0 640.0 L1530.0 640.0 L1531.0 640.0 L1532.0 640.0 L1533.0 640.0 L1534.0 640.0 L1535.0 640.0 L1536.0 640.0 L1537.0 640.0 L1538.0 640.0 L1539.0 640.0 L1540.0 640.0 L1541.0 640.0 L1542.0 640.0 L1543.0 640.0 L1544.0 640.0 L1545.0 640.0 L1546.0 640.0 L1547.0 640.0 L1548.0 640.0 L1549.0 640.0 L1550.0 640.0 L1551.0 640.0 L1552.0 640.0 L1553.0 640.0 L1554.0 640.0 L1555.0 640.0 L1556.0 640.0 L1557.0 640.0 L1558.0 640.0 L1559.0 640.0 L1560.0 640.0 L1561.0 640.0 L1562.0 640.0 L1563.0 640.0 L1564.0 640.0 L1565.0 640.0 L1566.0 640.0 L1567.0 640.0 L1568.0 640.0 L1569.0 640.0 L1570.0 640.0 L1571.0 640.0 L1572.0 640.0 L1573.0 640.0 L1574.0 640.0 L1575.0 640.0 L1576.0 640.0 L1577.0 640.0 L1578.0 640.0 L1579.0 640.0 L1580.0 640.0 L1581.0 640.0 L1582.0 640.0 L1583.0 640.0 L1584.0 640.0 L1585.0 640.0 L1586.0 640.0 L1587.0 640.0 L1588.0 640.0 L1589.0 640.0 L1590.0 640.0 L1591.0 640.0 L1592.0 640.0 L1593.0 640.0 L1594.0 640.0 L1595.0 640.0 L1596.0 640.0" stroke="#000000"/>
<path d="M240.4 979.5 L241.4 979.1 L242.4 978.7 L243.4 978.2 L244.4 977.8 L245.4 977.4 L246.4 976.9 L247.4 976.4 L248.4 976.0 L249.4 975.5 L250.4 975.0 L251.4 974.4 L252.4 973.9 L253.4 973.4 L254.4 972.8 L254.6 972.7M272.3 960.5 L272.4 960.4 L273.4 959.6 L274.4 958.8 L275.4 957.9 L276.4 957.0 L277.4 956.2 L278.4 955.3 L279.4 954.4 L280.4 953.4 L281.4 952.5 L282.4 951.6 L283.4 950.6 L284.0 950.0M298.9 934.3 L299.4 933.7 L300.4 932.6 L301.4 931.4 L302.4 930.3 L303.4 929.1 L304.4 927.9 L305.4 926.8 L306.4 925.6 L307.4 924.4 L308.4 923.2 L309.1 922.4M323.1 905.8 L323.4 905.4 L324.4 904.2 L325.4 903.1 L326.4 901.9 L327.4 900.8 L328.4 899.7 L329.4 898.5 L330.4 897.4 L331.4 896.3 L332.4 895.2 L333.4 894.2 L333.5 894.1M349.3 879.3 L349.4 879.3 L350.4 878.5 L351.4 877.8 L352.4 877.1 L353.4 876.4 L354.4 875.7 L355.4 875.1 L356.4 874.5 L357.4 873.9 L358.4 873.4 L359.4 872.8 L360.4 872.4 L361.4 871.9 L362.4 871.5 L362.7 871.3M385.4 870.0 L385.4 870.1 L386.4 870.4 L387.4 870.7 L388.4 871.1 L389.4 871.5 L390.4 871.9 L391.4 872.4 L392.4 872.9 L393.4 873.4 L394.4 874.0 L395.4 874.6 L396.4 875.2 L397.4 875.8 L398.4 876.5 L399.3 877.1M415.6 891.3 L416.4 892.2 L417.4 893.2 L418.4 894.3 L419.4 895.4 L420.4 896.5 L421.4 897.6 L422.4 898.7 L423.4 899.8 L424.4 900.9 L425.4 902.1 L426.1 902.9M440.1 919.4 L440.4 919.8 L441.4 921.0 L442.4 922.2 L443.4 923.4 L444.4 924.6 L445.4 925.7 L446.4 926.9 L447.4 928.1 L448.4 929.2 L449.4 930.4 L450.3 931.4M464.9 947.3 L465.4 947.8 L466.4 948.8 L467.4 949.8 L468.4 950.7 L469.4 951.7 L470.4 952.6 L471.4 953.6 L472.4 954.5 L473.4 955.4 L474.4 956.3 L475.4 957.1 L476.4 958.0M493.8 970.8 L494.4 971.1 L495.4 971.7 L496.4 972.3 L497.4 972.9 L498.4 973.4 L499.4 974.0 L500.4 974.5 L501.4 975.0 L502.4 975.5 L503.4 976.0 L504.4 976.5 L505.4 977.0 L506.4 977.4 L507.4 977.9 L507.8 978.0M528.3 984.7 L528.4 984.8 L529.4 985.0 L530.4 985.2 L531.4 985.4 L532.4 985.6 L533.4 985.8 L534.4 986.0 L535.4 986.2 L536.4 986.4 L537.4 986.6 L538.4 986.7 L539.4 986.9 L540.4 987.0 L541.4 987.2 L542.4 987.3 L543.4 987.5 L543.7 987.5" stroke="#0000FF"/>
<path d="M560.0 989.1 L561.0 989.2 L562.0 989.3 L563.0 989.3 L564.0 989.4 L565.0 989.5 L566.0 989.5 L567.0 989.6 L568.0 989.6 L569.0 989.7 L570.0 989.7 L571.0 989.8 L572.0 989.8 L573.0 989.8 L573.2 989.8M603.2 990.5 L604.0 990.5 L605.0 990.5 L606.0 990.5 L607.0 990.5 L608.0 990.5 L609.0 990.5 L610.0 990.5 L611.0 990.5 L612.0 990.5 L613.0 990.5 L614.0 990.5 L615.0 990.5 L616.0 990.5 L617.0 990.5 L618.0 990.5 L619.0 990.5 L620.0 990.5 L621.0 990.6 L622.0 990.6 L623.0 990.6 L624.0 990.6 L625.0 990.6 L625.0 990.6M655.1 990.6 L656.0 990.6 L657.0 990.6 L658.0 990.6 L659.0 990.6 L660.0 990.6 L661.0 990.6 L662.0 990.6 L663.0 990.6 L664.0 990.6 L665.0 990.6 L666.0 990.6 L667.0 990.6 L668.0 990.6 L669.0 990.6 L670.0 990.6 L671.0 990.6 L672.0 990.6 L673.0 990.6 L674.0 990.6 L675.0 990.6 L676.0 990.6 L676.9 990.6M706.9 990.6 L707.0 990.6 L708.0 990.6 L709.0 990.6 L710.0 990.6 L711.0 990.6 L712.0 990.6 L713.0 990.6 L714.0 990.6 L715.0 990.6 L716.0 990.6 L717.0 990.6 L718.0 990.6 L719.0 990.6 L720.0 990.6 L721.0 990.6 L722.0 990.6 L723.0 990.6 L724.0 990.6 L725.0 990.6 L726.0 990.6 L727.0 990.6 L728.0 990.6 L728.7 990.6M758.8 990.6 L759.0 990.6 L760.0 990.6 L761.0 990.6 L762.0 990.6 L763.0 990.6 L764.0 990.6 L765.0 990.6 L766.0 990.6 L767.0 990.6 L768.0 990.6 L769.0 990.6 L770.0 990.6 L771.0 990.6 L772.0 990.6 L773.0 990.6 L774.0 990.6 L775.0 990.6 L776.0 990.6 L777.0 990.6 L778.0 990.6 L779.0 990.6 L780.0 990.6 L780.5 990.6M810.6 990.6 L811.0 990.6 L812.0 990.6 L813.0 990.6 L814.0 990.6 L815.0 990.6 L816.0 990.6 L817.0 990.6 L818.0 990.6 L819.0 990.6 L820.0 990.6 L821.0 990.6 L822.0 990.6 L823.0 990.6 L824.0 990.6 L825.0 990.6 L826.0 990.6 L827.0 990.6 L828.0 990.6 L829.0 990.6 L830.0 990.6 L831.0 990.6 L832.0 990.6 L832.4 990.6M862.5 990.6 L863.0 990.6 L864.0 990.6 L865.0 990.6 L866.0 990.6 L867.0 990.6 L868.0 990.6 L869.0 990.6 L870.0 990.6 L871.0 990.6 L872.0 990.6 L873.0 990.6 L874.0 990.6 L875.0 990.6 L876.0 990.6 L877.0 990.6 L878.0 990.6 L879.0 990.6 L880.0 990.6 L881.0 990.6 L882.0 990.6 L883.0 990.6 L884.0 990.6 L884.2 990.6M914.3 990.6 L915.0 990.6 L916.0 990.6 L917.0 990.6 L918.0 990.6 L919.0 990.6 L920.0 990.6 L921.0 990.6 L922.0 990.6 L923.0 990.6 L924.0 990.6 L925.0 990.6 L926.0 990.6 L927.0 990.6 L928.0 990.6 L929.0 990.6 L930.0 990.6 L931.0 990.6 L932.0 990.6 L933.0 990.6 L934.0 990.6 L935.0 990.6 L936.0 990.6 L936.1 990.6M966.1 990.6 L967.0 990.6 L968.0 990.6 L969.0 990.6 L970.0 990.6 L971.0 990.6 L972.0 990.6 L973.0 990.6 L974.0 990.6 L975.0 990.6 L976.0 990.6 L977.0 990.6 L978.0 990.6 L979.0 990.6 L980.0 990.6 L981.0 990.6 L982.0 990.6 L983.0 990.6 L984.0 990.6 L985.0 990.6 L986.0 990.6 L987.0 990.6 L988.0 990.6M1018.0 990.6 L1019.0 990.6 L1020.0 990.6 L1021.0 990.6 L1022.0 990.6 L1023.0 990.6 L1024.0 990.6 L1025.0 990.6 L1026.0 990.6 L1027.0 990.6 L1028.0 990.6 L1029.0 990.6 L1030.0 990.6 L1031.0 990.6 L1032.0 990.6 L1033.0 990.6 L1034.0 990.6 L1035.0 990.6 L1036.0 990.6 L1037.0 990.6 L1038.0 990.6 L1039.0 990.6 L1039.8 990.6M1069.8 990.6 L1070.0 990.6 L1071.0 990.6 L1072.0 990.6 L1073.0 990.6 L1074.0 990.6 L1075.0 990.6 L1076.0 990.6 L1077.0 990.6 L1078.0 990.6 L1079.0 990.6 L1080.0 990.6 L1081.0 990.6 L1082.0 990.6 L1083.0 990.6 L1084.0 990.6 L1085.0 990.6 L1086.0 990.6 L1087.0 990.6 L1088.0 990.6 L1089.0 990.6 L1090.0 990.6 L1091.0 990.6 L1091.7 990.6M1121.7 990.6 L1122.0 990.6 L1123.0 990.6 L1124.0 990.6 L1125.0 990.6 L1126.0 990.6 L1127.0 990.6 L1128.0 990.6 L1129.0 990.6 L1130.0 990.6 L1131.0 990.6 L1132.0 990.6 L1133.0 990.6 L1134.0 990.6 L1135.0 990.6 L1136.0 990.6 L1137.0 990.6 L1138.0 990.6 L1139.0 990.6 L1140.0 990.6 L1141.0 990.6 L1142.0 990.6 L1143.0 990.6 L1143.5 990.6M1173.5 990.6 L1174.0 990.6 L1175.0 990.6 L1176.0 990.6 L1177.0 990.6 L1178.0 990.6 L1179.0 990.6 L1180.0 990.6 L1181.0 990.6 L1182.0 990.6 L1183.0 990.6 L1184.0 990.6 L1185.0 990.6 L1186.0 990.6 L1187.0 990.6 L1188.0 990.6 L1189.0 990.6 L1190.0 990.6 L1191.0 990.6 L1192.0 990.6 L1193.0 990.6 L1194.0 990.6 L1195.0 990.6 L1195.3 990.6M1225.4 990.6 L1226.0 990.6 L1227.0 990.6 L1228.0 990.6 L1229.0 990.6 L1230.0 990.6 L1231.0 990.6 L1232.0 990.6 L1233.0 990.6 L1234.0 990.6 L1235.0 990.6 L1236.0 990.6 L1237.0 990.6 L1238.0 990.6 L1239.0 990.6 L1240.0 990.6 L1241.0 990.6 L1242.0 990.6 L1243.0 990.6 L1244.0 990.6 L1245.0 990.6 L1246.0 990.6 L1247.0 990.6 L1247.2 990.6M1277.2 990.6 L1278.0 990.6 L1279.0 990.6 L1280.0 990.6 L1281.0 990.6 L1282.0 990.6 L1283.0 990.6 L1284.0 990.6 L1285.0 990.6 L1286.0 990.6 L1287.0 990.6 L1288.0 990.6 L1289.0 990.6 L1290.0 990.6 L1291.0 990.6 L1292.0 990.6 L1293.0 990.6 L1294.0 990.6 L1295.0 990.6 L1296.0 990.6 L1297.0 990.6 L1298.0 990.6 L1299.0 990.6 L1299.0 990.6M1329.1 990.6 L1330.0 990.6 L1331.0 990.6 L1332.0 990.6 L1333.0 990.6 L1334.0 990.6 L1335.0 990.6 L1336.0 990.6 L1337.0 990.6 L1338.0 990.6 L1339.0 990.6 L1340.0 990.6 L1341.0 990.6 L1342.0 990.6 L1343.0 990.6 L1344.0 990.6 L1345.0 990.6 L1346.0 990.6 L1347.0 990.6 L1348.0 990.6 L1349.0 990.6 L1350.0 990.6 L1350.9 990.6M1381.0 990.6 L1381.0 990.6 L1382.0 990.6 L1383.0 990.6 L1384.0 990.6 L1385.0 990.6 L1386.0 990.6 L1387.0 990.6 L1388.0 990.6 L1389.0 990.6 L1390.0 990.6 L1391.0 990.6 L1392.0 990.6 L1393.0 990.6 L1394.0 990.6 L1395.0 990.6 L1396.0 990.6 L1397.0 990.6 L1398.0 990.6 L1399.0 990.6 L1400.0 990.6 L1401.0 990.6 L1402.0 990.6 L1402.8 990.6M1432.8 990.6 L1433.0 990.6 L1434.0 990.6 L1435.0 990.6 L1436.0 990.6 L1437.0 990.6 L1438.0 990.6 L1439.0 990.6 L1440.0 990.6 L1441.0 990.6 L1442.0 990.6 L1443.0 990.6 L1444.0 990.6 L1445.0 990.6 L1446.0 990.6 L1447.0 990.6 L1448.0 990.6 L1449.0 990.6 L1450.0 990.6 L1451.0 990.6 L1452.0 990.6 L1453.0 990.6 L1454.0 990.6 L1454.6 990.6M1484.7 990.6 L1485.0 990.6 L1486.0 990.6 L1487.0 990.6 L1488.0 990.6 L1489.0 990.6 L1490.0 990.6 L1491.0 990.6 L1492.0 990.6 L1493.0 990.6 L1494.0 990.6 L1495.0 990.6 L1496.0 990.6 L1497.0 990.6 L1498.0 990.6 L1499.0 990.6 L1500.0 990.6 L1501.0 990.6 L1502.0 990.6 L1503.0 990.6 L1504.0 990.6 L1505.0 990.6 L1506.0 990.6 L1506.5 990.6M1536.5 990.6 L1537.0 990.6 L1538.0 990.6 L1539.0 990.6 L1540.0 990.6 L1541.0 990.6 L1542.0 990.6 L1543.0 990.6 L1544.0 990.6 L1545.0 990.6 L1546.0 990.6 L1547.0 990.6 L1548.0 990.6 L1549.0 990.6 L1550.0 990.6 L1551.0 990.6 L1552.0 990.6 L1553.0 990.6 L1554.0 990.6 L1555.0 990.6 L1556.0 990.6 L1557.0 990.6 L1558.0 990.6 L1558.3 990.6M1588.4 990.6 L1589.0 990.6 L1590.0 990.6 L1591.0 990.6 L1592.0 990.6 L1593.0 990.6 L1594.0 990.6 L1595.0 990.6 L1596.0 990.6" stroke="#0000FF"/>
<path d="M240.4 973.0 L241.4 972.7 L242.4 972.4 L243.4 972.1 L244.4 971.8 L245.4 971.5 L246.4 971.2 L247.4 970.9 L248.4 970.6 L249.4 970.3 L250.4 970.0 L251.4 969.7 L252.4 969.4 L253.4 969.0 L254.4 968.7 L255.4 968.4 L255.4 968.4M275.7 960.8 L276.4 960.5 L277.4 960.1 L278.4 959.7 L279.4 959.3 L280.4 958.8 L281.4 958.4 L282.4 958.0 L283.4 957.5 L284.4 957.1 L285.4 956.6 L286.4 956.2 L287.4 955.7 L288.4 955.3 L289.4 954.8 L290.0 954.5M309.3 944.7 L309.4 944.7 L310.4 944.2 L311.4 943.6 L312.4 943.1 L313.4 942.5 L314.4 942.0 L315.4 941.4 L316.4 940.8 L317.4 940.3 L318.4 939.7 L319.4 939.1 L320.4 938.5 L321.4 937.9 L322.4 937.4 L323.0 937.0M341.4 925.6 L342.4 925.0 L343.4 924.3 L344.4 923.7 L345.4 923.0 L346.4 922.4 L347.4 921.7 L348.4 921.1 L349.4 920.4 L350.4 919.8 L351.4 919.1 L352.4 918.4 L353.4 917.7 L354.4 917.1 L354.5 917.0M372.4 904.8 L372.4 904.8 L373.4 904.1 L374.4 903.4 L375.4 902.7 L376.4 902.0 L377.4 901.3 L378.4 900.6 L379.4 899.9 L380.4 899.2 L381.4 898.5 L382.4 897.8 L383.4 897.1 L384.4 896.5 L385.3 895.8M403.2 883.7 L403.4 883.5 L404.4 882.8 L405.4 882.2 L406.4 881.5 L407.4 880.9 L408.4 880.2 L409.4 879.5 L410.4 878.9 L411.4 878.2 L412.4 877.6 L413.4 877.0 L414.4 876.3 L415.4 875.7 L416.3 875.1M434.9 864.1 L435.4 863.8 L436.4 863.3 L437.4 862.7 L438.4 862.2 L439.4 861.7 L440.4 861.2 L441.4 860.6 L442.4 860.1 L443.4 859.6 L444.4 859.1 L445.4 858.6 L446.4 858.1 L447.4 857.7 L448.4 857.2 L448.9 856.9M469.0 848.9 L469.4 848.8 L470.4 848.4 L471.4 848.1 L472.4 847.8 L473.4 847.5 L474.4 847.2 L475.4 846.9 L476.4 846.7 L477.4 846.4 L478.4 846.1 L479.4 845.9 L480.4 845.7 L481.4 845.4 L482.4 845.2 L483.4 845.0 L484.1 844.8M508.4 842.3 L509.4 842.4 L510.4 842.4 L511.4 842.4 L512.4 842.4 L513.4 842.5 L514.4 842.5 L515.4 842.6 L516.4 842.7 L517.4 842.7 L518.4 842.8 L519.4 842.9 L520.4 843.0 L521.4 843.1 L522.4 843.3 L523.4 843.4 L524.4 843.5 L525.4 843.7 L526.4 843.8 L526.6 843.9M547.6 849.1 L548.4 849.4 L549.4 849.7 L550.4 850.1 L551.4 850.4 L552.4 850.8 L553.4 851.2 L554.4 851.6 L555.4 851.9 L556.4 852.3 L557.4 852.7 L558.4 853.2 L559.4 853.6 L560.4 854.0 L561.4 854.4 L562.2 854.8M581.5 864.4 L582.4 864.9 L583.4 865.4 L584.4 866.0 L585.4 866.6 L586.4 867.1 L587.4 867.7 L588.4 868.3 L589.4 868.9 L590.4 869.5 L591.4 870.1 L592.4 870.7 L593.4 871.3 L594.4 871.9 L595.1 872.3M613.3 884.0 L613.4 884.1 L614.4 884.8 L615.4 885.4 L616.4 886.1 L617.4 886.8 L618.4 887.5 L619.4 888.1 L620.4 888.8 L621.4 889.5 L622.4 890.2 L623.4 890.9 L624.4 891.6 L625.4 892.2 L626.3 892.9M644.1 905.2 L644.4 905.4 L645.4 906.1 L646.4 906.8 L647.4 907.5 L648.4 908.2 L649.4 908.8 L650.4 909.5 L651.4 910.2 L652.4 910.9 L653.4 911.6 L654.4 912.3 L655.4 913.0 L656.4 913.6 L657.0 914.0M675.0 926.0 L675.4 926.2 L676.4 926.9 L677.4 927.5 L678.4 928.1 L679.4 928.8 L680.4 929.4 L681.4 930.0 L682.4 930.6 L683.4 931.3 L684.4 931.9 L685.4 932.5 L686.4 933.1 L687.4 933.7 L688.4 934.3M707.1 945.1 L707.4 945.2 L708.4 945.7 L709.4 946.3 L710.4 946.8 L711.4 947.3 L712.4 947.9 L713.4 948.4 L714.4 948.9 L715.4 949.4 L716.4 949.9 L717.4 950.4 L718.4 950.9 L719.4 951.4 L720.4 951.9 L721.1 952.2M740.8 961.1 L741.4 961.3 L742.4 961.7 L743.4 962.1 L744.4 962.5 L745.4 962.9 L746.4 963.3 L747.4 963.7 L748.4 964.1 L749.4 964.4 L750.4 964.8 L751.4 965.2 L752.4 965.5 L753.4 965.9 L754.4 966.3 L755.4 966.6 L755.5 966.7M776.1 973.2 L776.4 973.2 L777.4 973.5 L778.4 973.8 L779.4 974.0 L780.4 974.3 L781.4 974.6 L782.4 974.8 L783.4 975.1 L784.4 975.3 L785.4 975.6 L786.4 975.8 L787.4 976.1 L788.4 976.3 L789.4 976.6 L790.4 976.8 L791.3 977.0M812.6 981.2 L813.4 981.4 L814.4 981.5 L815.4 981.7 L816.4 981.9 L817.4 982.0 L818.4 982.2 L819.4 982.3 L820.4 982.5 L821.4 982.6 L822.4 982.8 L823.4 982.9 L824.4 983.1 L825.4 983.2 L826.4 983.3 L827.4 983.5 L828.1 983.6M850.6 986.1 L851.4 986.2 L852.4 986.3 L853.4 986.3 L854.4 986.4 L855.4 986.5 L856.4 986.6 L857.4 986.7 L858.4 986.8 L859.4 986.8 L860.4 986.9 L861.4 987.0 L862.4 987.1 L863.4 987.1 L864.4 987.2 L865.4 987.3 L866.4 987.4 L867.4 987.4 L868.4 987.5 L869.4 987.6 L869.4 987.6" stroke="#FF0000"/>
<path d="M890.5 988.7 L891.0 988.7 L892.0 988.8 L893.0 988.8 L894.0 988.8 L895.0 988.9 L896.0 988.9 L897.0 989.0 L898.0 989.0 L899.0 989.0 L900.0 989.1 L901.0 989.1 L902.0 989.1 L903.0 989.2 L904.0 989.2 L905.0 989.2 L906.0 989.3 L907.0 989.3 L908.0 989.3 L909.0 989.4 L910.0 989.4 L911.0 989.4 L912.0 989.4 L912.3 989.5M942.3 990.1 L943.0 990.1 L944.0 990.1 L945.0 990.1 L946.0 990.1 L947.0 990.1 L948.0 990.1 L949.0 990.1 L950.0 990.2 L951.0 990.2 L952.0 990.2 L953.0 990.2 L954.0 990.2 L955.0 990.2 L956.0 990.2 L957.0 990.2 L958.0 990.2 L959.0 990.3 L960.0 990.3 L961.0 990.3 L962.0 990.3 L963.0 990.3 L964.0 990.3 L964.1 990.3M994.2 990.5 L995.0 990.5 L996.0 990.5 L997.0 990.5 L998.0 990.5 L999.0 990.5 L1000.0 990.5 L1001.0 990.5 L1002.0 990.5 L1003.0 990.5 L1004.0 990.5 L1005.0 990.5 L1006.0 990.5 L1007.0 990.5 L1008.0 990.5 L1009.0 990.5 L1010.0 990.5 L1011.0 990.5 L1012.0 990.5 L1013.0 990.5 L1014.0 990.5 L1015.0 990.5 L1016.0 990.5M1046.0 990.6 L1046.0 990.6 L1047.0 990.6 L1048.0 990.6 L1049.0 990.6 L1050.0 990.6 L1051.0 990.6 L1052.0 990.6 L1053.0 990.6 L1054.0 990.6 L1055.0 990.6 L1056.0 990.6 L1057.0 990.6 L1058.0 990.6 L1059.0 990.6 L1060.0 990.6 L1061.0 990.6 L1062.0 990.6 L1063.0 990.6 L1064.0 990.6 L1065.0 990.6 L1066.0 990.6 L1067.0 990.6 L1067.8 990.6M1097.8 990.6 L1098.0 990.6 L1099.0 990.6 L1100.0 990.6 L1101.0 990.6 L1102.0 990.6 L1103.0 990.6 L1104.0 990.6 L1105.0 990.6 L1106.0 990.6 L1107.0 990.6 L1108.0 990.6 L1109.0 990.6 L1110.0 990.6 L1111.0 990.6 L1112.0 990.6 L1113.0 990.6 L1114.0 990.6 L1115.0 990.6 L1116.0 990.6 L1117.0 990.6 L1118.0 990.6 L1119.0 990.6 L1119.6 990.6M1149.7 990.6 L1150.0 990.6 L1151.0 990.6 L1152.0 990.6 L1153.0 990.6 L1154.0 990.6 L1155.0 990.6 L1156.0 990.6 L1157.0 990.6 L1158.0 990.6 L1159.0 990.6 L1160.0 990.6 L1161.0 990.6 L1162.0 990.6 L1163.0 990.6 L1164.0 990.6 L1165.0 990.6 L1166.0 990.6 L1167.0 990.6 L1168.0 990.6 L1169.0 990.6 L1170.0 990.6 L1171.0 990.6 L1171.5 990.6M1201.5 990.6 L1202.0 990.6 L1203.0 990.6 L1204.0 990.6 L1205.0 990.6 L1206.0 990.6 L1207.0 990.6 L1208.0 990.6 L1209.0 990.6 L1210.0 990.6 L1211.0 990.6 L1212.0 990.6 L1213.0 990.6 L1214.0 990.6 L1215.0 990.6 L1216.0 990.6 L1217.0 990.6 L1218.0 990.6 L1219.0 990.6 L1220.0 990.6 L1221.0 990.6 L1222.0 990.6 L1223.0 990.6 L1223.3 990.6M1253.4 990.6 L1254.0 990.6 L1255.0 990.6 L1256.0 990.6 L1257.0 990.6 L1258.0 990.6 L1259.0 990.6 L1260.0 990.6 L1261.0 990.6 L1262.0 990.6 L1263.0 990.6 L1264.0 990.6 L1265.0 990.6 L1266.0 990.6 L1267.0 990.6 L1268.0 990.6 L1269.0 990.6 L1270.0 990.6 L1271.0 990.6 L1272.0 990.6 L1273.0 990.6 L1274.0 990.6 L1275.0 990.6 L1275.2 990.6M1305.2 990.6 L1306.0 990.6 L1307.0 990.6 L1308.0 990.6 L1309.0 990.6 L1310.0 990.6 L1311.0 990.6 L1312.0 990.6 L1313.0 990.6 L1314.0 990.6 L1315.0 990.6 L1316.0 990.6 L1317.0 990.6 L1318.0 990.6 L1319.0 990.6 L1320.0 990.6 L1321.0 990.6 L1322.0 990.6 L1323.0 990.6 L1324.0 990.6 L1325.0 990.6 L1326.0 990.6 L1327.0 990.6 L1327.0 990.6M1357.1 990.6 L1358.0 990.6 L1359.0 990.6 L1360.0 990.6 L1361.0 990.6 L1362.0 990.6 L1363.0 990.6 L1364.0 990.6 L1365.0 990.6 L1366.0 990.6 L1367.0 990.6 L1368.0 990.6 L1369.0 990.6 L1370.0 990.6 L1371.0 990.6 L1372.0 990.6 L1373.0 990.6 L1374.0 990.6 L1375.0 990.6 L1376.0 990.6 L1377.0 990.6 L1378.0 990.6 L1378.9 990.6M1408.9 990.6 L1409.0 990.6 L1410.0 990.6 L1411.0 990.6 L1412.0 990.6 L1413.0 990.6 L1414.0 990.6 L1415.0 990.6 L1416.0 990.6 L1417.0 990.6 L1418.0 990.6 L1419.0 990.6 L1420.0 990.6 L1421.0 990.6 L1422.0 990.6 L1423.0 990.6 L1424.0 990.6 L1425.0 990.6 L1426.0 990.6 L1427.0 990.6 L1428.0 990.6 L1429.0 990.6 L1430.0 990.6 L1430.7 990.6M1460.8 990.6 L1461.0 990.6 L1462.0 990.6 L1463.0 990.6 L1464.0 990.6 L1465.0 990.6 L1466.0 990.6 L1467.0 990.6 L1468.0 990.6 L1469.0 990.6 L1470.0 990.6 L1471.0 990.6 L1472.0 990.6 L1473.0 990.6 L1474.0 990.6 L1475.0 990.6 L1476.0 990.6 L1477.0 990.6 L1478.0 990.6 L1479.0 990.6 L1480.0 990.6 L1481.0 990.6 L1482.0 990.6 L1482.6 990.6M1512.6 990.6 L1513.0 990.6 L1514.0 990.6 L1515.0 990.6 L1516.0 990.6 L1517.0 990.6 L1518.0 990.6 L1519.0 990.6 L1520.0 990.6 L1521.0 990.6 L1522.0 990.6 L1523.0 990.6 L1524.0 990.6 L1525.0 990.6 L1526.0 990.6 L1527.0 990.6 L1528.0 990.6 L1529.0 990.6 L1530.0 990.6 L1531.0 990.6 L1532.0 990.6 L1533.0 990.6 L1534.0 990.6 L1534.4 990.6M1564.5 990.6 L1565.0 990.6 L1566.0 990.6 L1567.0 990.6 L1568.0 990.6 L1569.0 990.6 L1570.0 990.6 L1571.0 990.6 L1572.0 990.6 L1573.0 990.6 L1574.0 990.6 L1575.0 990.6 L1576.0 990.6 L1577.0 990.6 L1578.0 990.6 L1579.0 990.6 L1580.0 990.6 L1581.0 990.6 L1582.0 990.6 L1583.0 990.6 L1584.0 990.6 L1585.0 990.6 L1586.0 990.6 L1586.3 990.6" stroke="#FF0000"/>
<path d="M240.4 961.9 L241.4 961.7 L242.4 961.5 L243.4 961.3 L244.4 961.1 L245.4 961.0 L246.4 960.8 L247.4 960.6 L248.4 960.4 L249.4 960.2 L250.4 960.0 L251.4 959.9 L252.4 959.7 L253.4 959.5 L254.4 959.3 L255.4 959.1 L255.8 959.0M277.1 954.8 L277.4 954.8 L278.4 954.6 L279.4 954.3 L280.4 954.1 L281.4 953.9 L282.4 953.7 L283.4 953.5 L284.4 953.3 L285.4 953.1 L286.4 952.9 L287.4 952.7 L288.4 952.5 L289.4 952.2 L290.4 952.0 L291.4 951.8 L292.4 951.6 L292.4 951.6M313.5 946.9 L314.4 946.7 L315.4 946.4 L316.4 946.2 L317.4 946.0 L318.4 945.7 L319.4 945.5 L320.4 945.3 L321.4 945.0 L322.4 944.8 L323.4 944.5 L324.4 944.3 L325.4 944.1 L326.4 943.8 L327.4 943.6 L328.4 943.3 L328.8 943.2M349.8 938.0 L350.4 937.9 L351.4 937.6 L352.4 937.4 L353.4 937.1 L354.4 936.9 L355.4 936.6 L356.4 936.3 L357.4 936.1 L358.4 935.8 L359.4 935.6 L360.4 935.3 L361.4 935.0 L362.4 934.8 L363.4 934.5 L364.4 934.3 L365.0 934.1M385.9 928.5 L386.4 928.4 L387.4 928.1 L388.4 927.8 L389.4 927.5 L390.4 927.3 L391.4 927.0 L392.4 926.7 L393.4 926.4 L394.4 926.2 L395.4 925.9 L396.4 925.6 L397.4 925.3 L398.4 925.1 L399.4 924.8 L400.4 924.5 L401.0 924.3M421.9 918.5 L422.4 918.3 L423.4 918.0 L424.4 917.7 L425.4 917.4 L426.4 917.2 L427.4 916.9 L428.4 916.6 L429.4 916.3 L430.4 916.0 L431.4 915.7 L432.4 915.4 L433.4 915.2 L434.4 914.9 L435.4 914.6 L436.4 914.3 L436.9 914.1M457.7 908.1 L458.4 907.9 L459.4 907.6 L460.4 907.4 L461.4 907.1 L462.4 906.8 L463.4 906.5 L464.4 906.2 L465.4 905.9 L466.4 905.6 L467.4 905.3 L468.4 905.1 L469.4 904.8 L470.4 904.5 L471.4 904.2 L472.4 903.9 L472.8 903.8M493.6 897.8 L494.4 897.6 L495.4 897.3 L496.4 897.0 L497.4 896.7 L498.4 896.5 L499.4 896.2 L500.4 895.9 L501.4 895.6 L502.4 895.3 L503.4 895.1 L504.4 894.8 L505.4 894.5 L506.4 894.2 L507.4 893.9 L508.4 893.7 L508.7 893.6M529.6 887.8 L530.4 887.6 L531.4 887.4 L532.4 887.1 L533.4 886.8 L534.4 886.6 L535.4 886.3 L536.4 886.0 L537.4 885.8 L538.4 885.5 L539.4 885.2 L540.4 885.0 L541.4 884.7 L542.4 884.5 L543.4 884.2 L544.4 883.9 L544.8 883.8M565.7 878.6 L566.4 878.4 L567.4 878.2 L568.4 877.9 L569.4 877.7 L570.4 877.4 L571.4 877.2 L572.4 877.0 L573.4 876.7 L574.4 876.5 L575.4 876.3 L576.4 876.0 L577.4 875.8 L578.4 875.6 L579.4 875.3 L580.4 875.1 L581.0 875.0M602.2 870.3 L602.4 870.3 L603.4 870.1 L604.4 869.9 L605.4 869.7 L606.4 869.5 L607.4 869.3 L608.4 869.1 L609.4 868.9 L610.4 868.7 L611.4 868.5 L612.4 868.3 L613.4 868.1 L614.4 867.9 L615.4 867.7 L616.4 867.5 L617.4 867.3 L617.6 867.3M638.9 863.6 L639.4 863.5 L640.4 863.3 L641.4 863.2 L642.4 863.0 L643.4 862.9 L644.4 862.7 L645.4 862.6 L646.4 862.4 L647.4 862.3 L648.4 862.1 L649.4 862.0 L650.4 861.8 L651.4 861.7 L652.4 861.5 L653.4 861.4 L654.4 861.2M676.2 858.6 L676.4 858.6 L677.4 858.5 L678.4 858.3 L679.4 858.2 L680.4 858.1 L681.4 858.0 L682.4 858.0 L683.4 857.9 L684.4 857.8 L685.4 857.7 L686.4 857.6 L687.4 857.5 L688.4 857.4 L689.4 857.3 L690.4 857.2 L691.4 857.1 L692.4 857.1 L693.4 857.0 L693.9 856.9M722.2 855.4 L722.4 855.4 L723.4 855.4 L724.4 855.3 L725.4 855.3 L726.4 855.3 L727.4 855.3 L728.4 855.2 L729.4 855.2 L730.4 855.2 L731.4 855.2 L732.4 855.2 L733.4 855.1 L734.4 855.1 L735.4 855.1 L736.4 855.1 L737.4 855.1 L738.4 855.1 L739.4 855.1 L740.4 855.1 L741.4 855.1 L742.4 855.1 L743.4 855.1 L744.0 855.1M773.8 856.0 L774.4 856.0 L775.4 856.1 L776.4 856.1 L777.4 856.2 L778.4 856.3 L779.4 856.3 L780.4 856.4 L781.4 856.5 L782.4 856.5 L783.4 856.6 L784.4 856.7 L785.4 856.7 L786.4 856.8 L787.4 856.9 L788.4 857.0 L789.4 857.0 L790.4 857.1 L791.4 857.2 L792.4 857.3 L793.2 857.4M816.3 859.8 L816.4 859.8 L817.4 859.9 L818.4 860.0 L819.4 860.1 L820.4 860.3 L821.4 860.4 L822.4 860.5 L823.4 860.7 L824.4 860.8 L825.4 860.9 L826.4 861.1 L827.4 861.2 L828.4 861.3 L829.4 861.5 L830.4 861.6 L831.4 861.8 L831.9 861.8M853.3 865.2 L853.4 865.3 L854.4 865.4 L855.4 865.6 L856.4 865.8 L857.4 866.0 L858.4 866.2 L859.4 866.3 L860.4 866.5 L861.4 866.7 L862.4 866.9 L863.4 867.1 L864.4 867.3 L865.4 867.5 L866.4 867.6 L867.4 867.8 L868.4 868.0 L868.7 868.1M889.9 872.4 L890.4 872.6 L891.4 872.8 L892.4 873.0 L893.4 873.2 L894.4 873.4 L895.4 873.7 L896.4 873.9 L897.4 874.1 L898.4 874.3 L899.4 874.6 L900.4 874.8 L901.4 875.0 L902.4 875.2 L903.4 875.5 L904.4 875.7 L905.2 875.9M926.2 881.0 L926.4 881.0 L927.4 881.3 L928.4 881.5 L929.4 881.8 L930.4 882.0 L931.4 882.3 L932.4 882.6 L933.4 882.8 L934.4 883.1 L935.4 883.3 L936.4 883.6 L937.4 883.8 L938.4 884.1 L939.4 884.4 L940.4 884.6 L941.4 884.9 L941.4 884.9M962.3 890.5 L962.4 890.5 L963.4 890.8 L964.4 891.1 L965.4 891.3 L966.4 891.6 L967.4 891.9 L968.4 892.2 L969.4 892.5 L970.4 892.7 L971.4 893.0 L972.4 893.3 L973.4 893.6 L974.4 893.8 L975.4 894.1 L976.4 894.4 L977.4 894.7 L977.5 894.7M998.3 900.6 L998.4 900.6 L999.4 900.9 L1000.4 901.2 L1001.4 901.5 L1002.4 901.8 L1003.4 902.1 L1004.4 902.4 L1005.4 902.6 L1006.4 902.9 L1007.4 903.2 L1008.4 903.5 L1009.4 903.8 L1010.4 904.1 L1011.4 904.4 L1012.4 904.7 L1013.4 904.9M1034.1 910.9 L1034.4 911.0 L1035.4 911.3 L1036.4 911.6 L1037.4 911.9 L1038.4 912.2 L1039.4 912.5 L1040.4 912.8 L1041.4 913.0 L1042.4 913.3 L1043.4 913.6 L1044.4 913.9 L1045.4 914.2 L1046.4 914.5 L1047.4 914.8 L1048.4 915.1 L1049.2 915.3M1070.0 921.2 L1070.4 921.3 L1071.4 921.6 L1072.4 921.9 L1073.4 922.2 L1074.4 922.5 L1075.4 922.7 L1076.4 923.0 L1077.4 923.3 L1078.4 923.6 L1079.4 923.9 L1080.4 924.1 L1081.4 924.4 L1082.4 924.7 L1083.4 925.0 L1084.4 925.2 L1085.1 925.5M1106.0 931.2 L1106.4 931.3 L1107.4 931.5 L1108.4 931.8 L1109.4 932.1 L1110.4 932.3 L1111.4 932.6 L1112.4 932.9 L1113.4 933.1 L1114.4 933.4 L1115.4 933.6 L1116.4 933.9 L1117.4 934.2 L1118.4 934.4 L1119.4 934.7 L1120.4 935.0 L1121.2 935.2M1142.2 940.5 L1142.4 940.6 L1143.4 940.8 L1144.4 941.1 L1145.4 941.3 L1146.4 941.6 L1147.4 941.8 L1148.4 942.0 L1149.4 942.3 L1150.4 942.5 L1151.4 942.8 L1152.4 943.0 L1153.4 943.3 L1154.4 943.5 L1155.4 943.7 L1156.4 944.0 L1157.4 944.2 L1157.4 944.2M1178.5 949.1 L1179.4 949.3 L1180.4 949.5 L1181.4 949.8 L1182.4 950.0 L1183.4 950.2 L1184.4 950.4 L1185.4 950.6 L1186.4 950.9 L1187.4 951.1 L1188.4 951.3 L1189.4 951.5 L1190.4 951.7 L1191.4 952.0 L1192.4 952.2 L1193.4 952.4 L1193.8 952.5M1215.0 956.8 L1215.4 956.9 L1216.4 957.1 L1217.4 957.3 L1218.4 957.5 L1219.4 957.7 L1220.4 957.9 L1221.4 958.1 L1222.4 958.3 L1223.4 958.5 L1224.4 958.7 L1225.4 958.8 L1226.4 959.0 L1227.4 959.2 L1228.4 959.4 L1229.4 959.6 L1230.4 959.8 L1230.4 959.8M1251.7 963.6 L1252.4 963.7 L1253.4 963.9 L1254.4 964.1 L1255.4 964.2 L1256.4 964.4 L1257.4 964.6 L1258.4 964.7 L1259.4 964.9 L1260.4 965.0 L1261.4 965.2 L1262.4 965.4 L1263.4 965.5 L1264.4 965.7 L1265.4 965.9 L1266.4 966.0 L1267.2 966.1M1288.6 969.4 L1289.4 969.5 L1290.4 969.6 L1291.4 969.8 L1292.4 969.9 L1293.4 970.1 L1294.4 970.2 L1295.4 970.3 L1296.4 970.5 L1297.4 970.6 L1298.4 970.8 L1299.4 970.9 L1300.4 971.0 L1301.4 971.2 L1302.4 971.3 L1303.4 971.4 L1304.1 971.5M1325.6 974.2 L1326.4 974.3 L1327.4 974.4 L1328.4 974.6 L1329.4 974.7 L1330.4 974.8 L1331.4 974.9 L1332.4 975.0 L1333.4 975.1 L1334.4 975.2 L1335.4 975.4 L1336.4 975.5 L1337.4 975.6 L1338.4 975.7 L1339.4 975.8 L1340.4 975.9 L1341.4 976.0 L1341.7 976.1M1365.2 978.4 L1365.4 978.4 L1366.4 978.5 L1367.4 978.6 L1368.4 978.7 L1369.4 978.8 L1370.4 978.9 L1371.4 979.0 L1372.4 979.1 L1373.4 979.2 L1374.4 979.3 L1375.4 979.4 L1376.4 979.4 L1377.4 979.5 L1378.4 979.6 L1379.4 979.7 L1380.4 979.8 L1381.4 979.9 L1382.4 980.0 L1383.2 980.0M1409.3 982.0 L1409.4 982.0 L1410.4 982.1 L1411.4 982.2 L1412.4 982.3 L1413.4 982.3 L1414.4 982.4 L1415.4 982.5 L1416.4 982.5 L1417.4 982.6 L1418.4 982.7 L1419.4 982.7 L1420.4 982.8 L1421.4 982.9 L1422.4 982.9 L1423.4 983.0 L1424.4 983.1 L1425.4 983.1 L1426.4 983.2 L1427.4 983.2 L1428.4 983.3 L1429.0 983.3M1457.4 984.9 L1457.4 984.9 L1458.4 985.0 L1459.4 985.0 L1460.4 985.1 L1461.4 985.1 L1462.4 985.2 L1463.4 985.2 L1464.4 985.3 L1465.4 985.3 L1466.4 985.4 L1467.4 985.4 L1468.4 985.5 L1469.4 985.5 L1470.4 985.6 L1471.4 985.6 L1472.4 985.6 L1473.4 985.7 L1474.4 985.7 L1475.4 985.8 L1476.4 985.8 L1477.4 985.9 L1478.4 985.9 L1478.7 985.9M1508.7 987.1 L1509.4 987.1 L1510.4 987.1 L1511.4 987.2 L1512.4 987.2 L1513.4 987.2 L1514.4 987.2 L1515.4 987.3 L1516.4 987.3 L1517.4 987.3 L1518.4 987.4 L1519.4 987.4 L1520.4 987.4 L1521.4 987.5 L1522.4 987.5 L1523.4 987.5 L1524.4 987.6 L1525.4 987.6 L1526.4 987.6 L1527.4 987.6 L1528.4 987.7 L1529.4 987.7 L1530.4 987.7 L1530.4 987.7M1560.5 988.5 L1561.4 988.5 L1562.4 988.5 L1563.4 988.5 L1564.4 988.6 L1565.4 988.6 L1566.4 988.6 L1567.4 988.6 L1568.4 988.6 L1569.4 988.7 L1570.4 988.7 L1571.4 988.7 L1572.4 988.7 L1573.4 988.7 L1574.4 988.8 L1575.4 988.8 L1576.4 988.8 L1577.4 988.8 L1578.4 988.8 L1579.4 988.8 L1580.4 988.9 L1581.4 988.9 L1582.3 988.9" stroke="#FF00FF"/>
<path d="M240.4 932.2 L241.4 931.4 L242.4 930.6 L243.4 929.7 L244.4 928.9 L245.4 928.0 L246.4 927.1 L247.4 926.2 L248.4 925.3 L249.4 924.4 L250.4 923.5 L251.4 922.5 L252.4 921.5 L253.4 920.5 L254.4 919.5 L255.4 918.5 L256.4 917.4 L257.4 916.3 L258.4 915.2 L259.4 914.1 L260.4 913.0 L261.4 911.9 L262.4 910.7 L263.4 909.5 L264.4 908.3 L265.4 907.1 L266.4 905.9 L267.4 904.6 L268.4 903.3 L269.4 902.0 L270.4 900.7 L271.4 899.4 L272.4 898.0 L273.4 896.6 L274.4 895.2 L275.4 893.8 L276.4 892.4 L277.4 890.9 L278.4 889.5 L279.4 888.0 L280.4 886.5 L281.4 884.9 L282.4 883.4 L283.4 881.8 L284.4 880.2 L285.4 878.6 L286.4 877.0 L287.4 875.4 L288.4 873.7 L289.4 872.1 L290.4 870.4 L291.4 868.7 L292.4 866.9 L293.4 865.2 L294.4 863.4 L295.4 861.7 L296.4 859.9 L297.4 858.1 L298.4 856.3 L299.4 854.4 L300.4 852.6 L301.4 850.8 L302.4 848.9 L303.4 847.0 L304.4 845.1 L305.4 843.2 L306.4 841.3 L307.4 839.4 L308.4 837.5 L309.4 835.5 L310.4 833.6 L311.4 831.6 L312.4 829.7 L313.4 827.7 L314.4 825.7 L315.4 823.7 L316.4 821.7 L317.4 819.8 L318.4 817.8 L319.4 815.8 L320.4 813.8 L321.4 811.8 L322.4 809.8 L323.4 807.8 L324.4 805.8 L325.4 803.8 L326.4 801.8 L327.4 799.8 L328.4 797.8 L329.4 795.9 L330.4 793.9 L331.4 791.9 L332.4 790.0 L333.4 788.0 L334.4 786.1 L335.4 784.1 L336.4 782.2 L337.4 780.3 L338.4 778.4 L339.4 776.5 L340.4 774.6 L341.4 772.8 L342.4 770.9 L343.4 769.1 L344.4 767.3 L345.4 765.5 L346.4 763.7 L347.4 762.0 L348.4 760.2 L349.4 758.5 L350.4 756.8 L351.4 755.1 L352.4 753.5 L353.4 751.8 L354.4 750.2 L355.4 748.6 L356.4 747.0 L357.4 745.5 L358.4 744.0 L359.4 742.5 L360.4 741.0 L361.4 739.6 L362.4 738.2 L363.4 736.8 L364.4 735.4 L365.4 734.1 L366.4 732.8 L367.4 731.5 L368.4 730.3 L369.4 729.1 L370.4 727.9 L371.4 726.8 L372.4 725.6 L373.4 724.6 L374.4 723.5 L375.4 722.5 L376.4 721.5 L377.4 720.5 L378.4 719.6 L379.4 718.7 L380.4 717.8 L381.4 717.0 L382.4 716.2 L383.4 715.4 L384.4 714.7 L385.4 713.9 L386.4 713.3 L387.4 712.6 L388.4 712.0 L389.4 711.4 L390.4 710.9 L391.4 710.3 L392.4 709.8 L393.4 709.4 L394.4 709.0 L395.4 708.5 L396.4 708.2 L397.4 707.8 L398.4 707.5 L399.4 707.2 L400.4 707.0 L401.4 706.7 L402.4 706.5 L403.4 706.3 L404.4 706.2 L405.4 706.1 L406.4 706.0 L407.4 705.9 L408.4 705.8 L409.4 705.8 L410.4 705.8 L411.4 705.8 L412.4 705.8 L413.4 705.9 L414.4 706.0 L415.4 706.1 L416.4 706.2 L417.4 706.3 L418.4 706.5 L419.4 706.7 L420.4 706.9 L421.4 707.1 L422.4 707.3 L423.4 707.5 L424.4 707.8 L425.4 708.0 L426.4 708.3 L427.4 708.6 L428.4 708.9 L429.4 709.2 L430.4 709.6 L431.4 709.9 L432.4 710.3 L433.4 710.6 L434.4 711.0 L435.4 711.4 L436.4 711.7 L437.4 712.1 L438.4 712.5 L439.4 712.9 L440.4 713.3 L441.4 713.7 L442.4 714.1 L443.4 714.6 L444.4 715.0 L445.4 715.4 L446.4 715.8 L447.4 716.2 L448.4 716.7 L449.4 717.1 L450.4 717.5 L451.4 717.9 L452.4 718.4 L453.4 718.8 L454.4 719.2 L455.4 719.6 L456.4 720.1 L457.4 720.5 L458.4 720.9 L459.4 721.3 L460.4 721.7 L461.4 722.1 L462.4 722.5 L463.4 722.9 L464.4 723.3 L465.4 723.6 L466.4 724.0 L467.4 724.4 L468.4 724.8 L469.4 725.1 L470.4 725.5 L471.4 725.8 L472.4 726.2 L473.4 726.5 L474.4 726.8 L475.4 727.1 L476.4 727.5 L477.4 727.8 L478.4 728.1 L479.4 728.4 L480.4 728.7 L481.4 728.9 L482.4 729.2 L483.4 729.5 L484.4 729.7 L485.4 730.0 L486.4 730.3 L487.4 730.5 L488.4 730.7 L489.4 731.0 L490.4 731.2 L491.4 731.4 L492.4 731.6 L493.4 731.8 L494.4 732.0 L495.4 732.2 L496.4 732.4 L497.4 732.6 L498.4 732.8 L499.4 732.9 L500.4 733.1 L501.4 733.3 L502.4 733.4 L503.4 733.6 L504.4 733.8 L505.4 733.9 L506.4 734.0 L507.4 734.2 L508.4 734.3 L509.4 734.5 L510.4 734.6 L511.4 734.7 L512.4 734.8 L513.4 735.0 L514.4 735.1 L515.4 735.2 L516.4 735.3 L517.4 735.5 L518.4 735.6 L519.4 735.7 L520.4 735.8 L521.4 735.9 L522.4 736.0 L523.4 736.1 L524.4 736.3 L525.4 736.4 L526.4 736.5 L527.4 736.6 L528.4 736.7 L529.4 736.8 L530.4 737.0 L531.4 737.1 L532.4 737.2 L533.4 737.3 L534.4 737.5 L535.4 737.6 L536.4 737.7 L537.4 737.8 L538.4 738.0 L539.4 738.1 L540.4 738.3 L541.4 738.4 L542.4 738.6 L543.4 738.7 L544.4 738.9 L545.4 739.0 L546.4 739.2 L547.4 739.4 L548.4 739.5 L549.4 739.7 L550.4 739.9 L551.4 740.1 L552.4 740.3 L553.4 740.5 L554.4 740.7 L555.4 740.9 L556.4 741.1 L557.4 741.3 L558.4 741.5 L559.4 741.7 L560.4 742.0 L561.4 742.2 L562.4 742.5 L563.4 742.7 L564.4 743.0 L565.4 743.2 L566.4 743.5 L567.4 743.7 L568.4 744.0 L569.4 744.3 L570.4 744.6 L571.4 744.9 L572.4 745.2 L573.4 745.5 L574.4 745.8 L575.4 746.1 L576.4 746.4 L577.4 746.8 L578.4 747.1 L579.4 747.4 L580.4 747.8 L581.4 748.1 L582.4 748.5 L583.4 748.8 L584.4 749.2 L585.4 749.6 L586.4 750.0 L587.4 750.3 L588.4 750.7 L589.4 751.1 L590.4 751.5 L591.4 751.9 L592.4 752.3 L593.4 752.8 L594.4 753.2 L595.4 753.6 L596.4 754.0 L597.4 754.5 L598.4 754.9 L599.4 755.4 L600.4 755.8 L601.4 756.3 L602.4 756.7 L603.4 757.2 L604.4 757.6 L605.4 758.1 L606.4 758.6 L607.4 759.1 L608.4 759.6 L609.4 760.0 L610.4 760.5 L611.4 761.0 L612.4 761.5 L613.4 762.0 L614.4 762.5 L615.4 763.1 L616.4 763.6 L617.4 764.1 L618.4 764.6 L619.4 765.1 L620.4 765.7 L621.4 766.2 L622.4 766.7 L623.4 767.2 L624.4 767.8 L625.4 768.3 L626.4 768.9 L627.4 769.4 L628.4 770.0 L629.4 770.5 L630.4 771.0 L631.4 771.6 L632.4 772.2 L633.4 772.7 L634.4 773.3 L635.4 773.8 L636.4 774.4 L637.4 774.9 L638.4 775.5 L639.4 776.1 L640.4 776.6 L641.4 777.2 L642.4 777.8 L643.4 778.3 L644.4 778.9 L645.4 779.5 L646.4 780.0 L647.4 780.6 L648.4 781.2 L649.4 781.7 L650.4 782.3 L651.4 782.9 L652.4 783.4 L653.4 784.0 L654.4 784.6 L655.4 785.2 L656.4 785.7 L657.4 786.3 L658.4 786.9 L659.4 787.4 L660.4 788.0 L661.4 788.6 L662.4 789.1 L663.4 789.7 L664.4 790.2 L665.4 790.8 L666.4 791.4 L667.4 791.9 L668.4 792.5 L669.4 793.0 L670.4 793.6 L671.4 794.2 L672.4 794.7 L673.4 795.3 L674.4 795.8 L675.4 796.4 L676.4 796.9 L677.4 797.4 L678.4 798.0 L679.4 798.5 L680.4 799.1 L681.4 799.6 L682.4 800.1 L683.4 800.7 L684.4 801.2 L685.4 801.7 L686.4 802.3 L687.4 802.8 L688.4 803.3 L689.4 803.8 L690.4 804.4 L691.4 804.9 L692.4 805.4 L693.4 805.9 L694.4 806.4 L695.4 806.9 L696.4 807.4 L697.4 807.9 L698.4 808.4 L699.4 808.9 L700.4 809.4 L701.4 809.9 L702.4 810.4 L703.4 810.9 L704.4 811.4 L705.4 811.8 L706.4 812.3 L707.4 812.8 L708.4 813.3 L709.4 813.7 L710.4 814.2 L711.4 814.7 L712.4 815.1 L713.4 815.6 L714.4 816.1 L715.4 816.5 L716.4 817.0 L717.4 817.4 L718.4 817.9 L719.4 818.3 L720.4 818.7 L721.4 819.2 L722.4 819.6 L723.4 820.0 L724.4 820.5 L725.4 820.9 L726.4 821.3 L727.4 821.7 L728.4 822.2 L729.4 822.6 L730.4 823.0 L731.4 823.4 L732.4 823.8 L733.4 824.2 L734.4 824.6 L735.4 825.0 L736.4 825.4 L737.4 825.8 L738.4 826.2 L739.4 826.6 L740.4 827.0 L741.4 827.3 L742.4 827.7 L743.4 828.1 L744.4 828.5 L745.4 828.9 L746.4 829.2 L747.4 829.6 L748.4 830.0 L749.4 830.3 L750.4 830.7 L751.4 831.0 L752.4 831.4 L753.4 831.8 L754.4 832.1 L755.4 832.5 L756.4 832.8 L757.4 833.1 L758.4 833.5 L759.4 833.8 L760.4 834.2 L761.4 834.5 L762.4 834.8 L763.4 835.2 L764.4 835.5 L765.4 835.8 L766.4 836.2 L767.4 836.5 L768.4 836.8 L769.4 837.1 L770.4 837.4 L771.4 837.8 L772.4 838.1 L773.4 838.4 L774.4 838.7 L775.4 839.0 L776.4 839.3 L777.4 839.6 L778.4 839.9 L779.4 840.2 L780.4 840.5 L781.4 840.8 L782.4 841.1 L783.4 841.4 L784.4 841.7 L785.4 842.0 L786.4 842.3 L787.4 842.6 L788.4 842.9 L789.4 843.2 L790.4 843.5 L791.4 843.7 L792.4 844.0 L793.4 844.3 L794.4 844.6 L795.4 844.9 L796.4 845.1 L797.4 845.4 L798.4 845.7 L799.4 846.0 L800.4 846.2 L801.4 846.5 L802.4 846.8 L803.4 847.1 L804.4 847.3 L805.4 847.6 L806.4 847.9 L807.4 848.1 L808.4 848.4 L809.4 848.7 L810.4 848.9 L811.4 849.2 L812.4 849.5 L813.4 849.7 L814.4 850.0 L815.4 850.3 L816.4 850.5 L817.4 850.8 L818.4 851.0 L819.4 851.3 L820.4 851.6 L821.4 851.8 L822.4 852.1 L823.4 852.3 L824.4 852.6 L825.4 852.9 L826.4 853.1 L827.4 853.4 L828.4 853.6 L829.4 853.9 L830.4 854.1 L831.4 854.4 L832.4 854.6 L833.4 854.9 L834.4 855.1 L835.4 855.4 L836.4 855.7 L837.4 855.9 L838.4 856.2 L839.4 856.4 L840.4 856.7 L841.4 856.9 L842.4 857.2 L843.4 857.4 L844.4 857.7 L845.4 857.9 L846.4 858.2 L847.4 858.4 L848.4 858.7 L849.4 858.9 L850.4 859.2 L851.4 859.4 L852.4 859.7 L853.4 860.0 L854.4 860.2 L855.4 860.5 L856.4 860.7 L857.4 861.0 L858.4 861.2 L859.4 861.5 L860.4 861.7 L861.4 862.0 L862.4 862.2 L863.4 862.5 L864.4 862.7 L865.4 863.0 L866.4 863.3 L867.4 863.5 L868.4 863.8 L869.4 864.0 L870.4 864.3 L871.4 864.5 L872.4 864.8 L873.4 865.0 L874.4 865.3 L875.4 865.6 L876.4 865.8 L877.4 866.1 L878.4 866.3 L879.4 866.6 L880.4 866.9 L881.4 867.1 L882.4 867.4 L883.4 867.6 L884.4 867.9 L885.4 868.2 L886.4 868.4 L887.4 868.7 L888.4 868.9 L889.4 869.2 L890.4 869.5 L891.4 869.7 L892.4 870.0 L893.4 870.3 L894.4 870.5 L895.4 870.8 L896.4 871.1 L897.4 871.3 L898.4 871.6 L899.4 871.9 L900.4 872.1 L901.4 872.4 L902.4 872.7 L903.4 872.9 L904.4 873.2 L905.4 873.5 L906.4 873.7 L907.4 874.0 L908.4 874.3 L909.4 874.5 L910.4 874.8 L911.4 875.1 L912.4 875.4 L913.4 875.6 L914.4 875.9 L915.4 876.2 L916.4 876.5 L917.4 876.7 L918.4 877.0 L919.4 877.3 L920.4 877.6 L921.4 877.8 L922.4 878.1 L923.4 878.4 L924.4 878.7 L925.4 878.9 L926.4 879.2 L927.4 879.5 L928.4 879.8 L929.4 880.1 L930.4 880.3 L931.4 880.6 L932.4 880.9 L933.4 881.2 L934.4 881.5 L935.4 881.7 L936.4 882.0 L937.4 882.3 L938.4 882.6 L939.4 882.9 L940.4 883.2 L941.4 883.4 L942.4 883.7 L943.4 884.0 L944.4 884.3 L945.4 884.6 L946.4 884.9 L947.4 885.1 L948.4 885.4 L949.4 885.7 L950.4 886.0 L951.4 886.3 L952.4 886.6 L953.4 886.9 L954.4 887.2 L955.4 887.4 L956.4 887.7 L957.4 888.0 L958.4 888.3 L959.4 888.6 L960.4 888.9 L961.4 889.2 L962.4 889.5 L963.4 889.8 L964.4 890.1 L965.4 890.4 L966.4 890.6 L967.4 890.9 L968.4 891.2 L969.4 891.5 L970.4 891.8 L971.4 892.1 L972.4 892.4 L973.4 892.7 L974.4 893.0 L975.4 893.3 L976.4 893.6 L977.4 893.9 L978.4 894.2 L979.4 894.5 L980.4 894.8 L981.4 895.0 L982.4 895.3 L983.4 895.6 L984.4 895.9 L985.4 896.2 L986.4 896.5 L987.4 896.8 L988.4 897.1 L989.4 897.4 L990.4 897.7 L991.4 898.0 L992.4 898.3 L993.4 898.6 L994.4 898.9 L995.4 899.2 L996.4 899.5 L997.4 899.8 L998.4 900.1 L999.4 900.4 L1000.4 900.7 L1001.4 901.0 L1002.4 901.3 L1003.4 901.6 L1004.4 901.9 L1005.4 902.2 L1006.4 902.4 L1007.4 902.7 L1008.4 903.0 L1009.4 903.3 L1010.4 903.6 L1011.4 903.9 L1012.4 904.2 L1013.4 904.5 L1014.4 904.8 L1015.4 905.1 L1016.4 905.4 L1017.4 905.7 L1018.4 906.0 L1019.4 906.3 L1020.4 906.6 L1021.4 906.9 L1022.4 907.2 L1023.4 907.5 L1024.4 907.8 L1025.4 908.1 L1026.4 908.4 L1027.4 908.7 L1028.4 909.0 L1029.4 909.3 L1030.4 909.6 L1031.4 909.9 L1032.4 910.1 L1033.4 910.4 L1034.4 910.7 L1035.4 911.0 L1036.4 911.3 L1037.4 911.6 L1038.4 911.9 L1039.4 912.2 L1040.4 912.5 L1041.4 912.8 L1042.4 913.1 L1043.4 913.4 L1044.4 913.7 L1045.4 914.0 L1046.4 914.3 L1047.4 914.5 L1048.4 914.8 L1049.4 915.1 L1050.4 915.4 L1051.4 915.7 L1052.4 916.0 L1053.4 916.3 L1054.4 916.6 L1055.4 916.9 L1056.4 917.2 L1057.4 917.4 L1058.4 917.7 L1059.4 918.0 L1060.4 918.3 L1061.4 918.6 L1062.4 918.9 L1063.4 919.2 L1064.4 919.5 L1065.4 919.7 L1066.4 920.0 L1067.4 920.3 L1068.4 920.6 L1069.4 920.9 L1070.4 921.2 L1071.4 921.5 L1072.4 921.7 L1073.4 922.0 L1074.4 922.3 L1075.4 922.6 L1076.4 922.9 L1077.4 923.2 L1078.4 923.4 L1079.4 923.7 L1080.4 924.0 L1081.4 924.3 L1082.4 924.6 L1083.4 924.8 L1084.4 925.1 L1085.4 925.4 L1086.4 925.7 L1087.4 926.0 L1088.4 926.2 L1089.4 926.5 L1090.4 926.8 L1091.4 927.1 L1092.4 927.3 L1093.4 927.6 L1094.4 927.9 L1095.4 928.2 L1096.4 928.4 L1097.4 928.7 L1098.4 929.0 L1099.4 929.3 L1100.4 929.5 L1101.4 929.8 L1102.4 930.1 L1103.4 930.3 L1104.4 930.6 L1105.4 930.9 L1106.4 931.1 L1107.4 931.4 L1108.4 931.7 L1109.4 931.9 L1110.4 932.2 L1111.4 932.5 L1112.4 932.7 L1113.4 933.0 L1114.4 933.3 L1115.4 933.5 L1116.4 933.8 L1117.4 934.1 L1118.4 934.3 L1119.4 934.6 L1120.4 934.8 L1121.4 935.1 L1122.4 935.4 L1123.4 935.6 L1124.4 935.9 L1125.4 936.1 L1126.4 936.4 L1127.4 936.7 L1128.4 936.9 L1129.4 937.2 L1130.4 937.4 L1131.4 937.7 L1132.4 937.9 L1133.4 938.2 L1134.4 938.4 L1135.4 938.7 L1136.4 938.9 L1137.4 939.2 L1138.4 939.4 L1139.4 939.7 L1140.4 939.9 L1141.4 940.2 L1142.4 940.4 L1143.4 940.7 L1144.4 940.9 L1145.4 941.2 L1146.4 941.4 L1147.4 941.7 L1148.4 941.9 L1149.4 942.1 L1150.4 942.4 L1151.4 942.6 L1152.4 942.9 L1153.4 943.1 L1154.4 943.4 L1155.4 943.6 L1156.4 943.8 L1157.4 944.1 L1158.4 944.3 L1159.4 944.5 L1160.4 944.8 L1161.4 945.0 L1162.4 945.2 L1163.4 945.5 L1164.4 945.7 L1165.4 945.9 L1166.4 946.2 L1167.4 946.4 L1168.4 946.6 L1169.4 946.9 L1170.4 947.1 L1171.4 947.3 L1172.4 947.6 L1173.4 947.8 L1174.4 948.0 L1175.4 948.2 L1176.4 948.5 L1177.4 948.7 L1178.4 948.9 L1179.4 949.1 L1180.4 949.3 L1181.4 949.6 L1182.4 949.8 L1183.4 950.0 L1184.4 950.2 L1185.4 950.4 L1186.4 950.7 L1187.4 950.9 L1188.4 951.1 L1189.4 951.3 L1190.4 951.5 L1191.4 951.7 L1192.4 951.9 L1193.4 952.2 L1194.4 952.4 L1195.4 952.6 L1196.4 952.8 L1197.4 953.0 L1198.4 953.2 L1199.4 953.4 L1200.4 953.6 L1201.4 953.8 L1202.4 954.0 L1203.4 954.2 L1204.4 954.4 L1205.4 954.7 L1206.4 954.9 L1207.4 955.1 L1208.4 955.3 L1209.4 955.5 L1210.4 955.7 L1211.4 955.9 L1212.4 956.1 L1213.4 956.3 L1214.4 956.4 L1215.4 956.6 L1216.4 956.8 L1217.4 957.0 L1218.4 957.2 L1219.4 957.4 L1220.4 957.6 L1221.4 957.8 L1222.4 958.0 L1223.4 958.2 L1224.4 958.4 L1225.4 958.6 L1226.4 958.8 L1227.4 958.9 L1228.4 959.1 L1229.4 959.3 L1230.4 959.5 L1231.4 959.7 L1232.4 959.9 L1233.4 960.1 L1234.4 960.2 L1235.4 960.4 L1236.4 960.6 L1237.4 960.8 L1238.4 961.0 L1239.4 961.1 L1240.4 961.3 L1241.4 961.5 L1242.4 961.7 L1243.4 961.8 L1244.4 962.0 L1245.4 962.2 L1246.4 962.4 L1247.4 962.5 L1248.4 962.7 L1249.4 962.9 L1250.4 963.0 L1251.4 963.2 L1252.4 963.4 L1253.4 963.6 L1254.4 963.7 L1255.4 963.9 L1256.4 964.1 L1257.4 964.2 L1258.4 964.4 L1259.4 964.5 L1260.4 964.7 L1261.4 964.9 L1262.4 965.0 L1263.4 965.2 L1264.4 965.4 L1265.4 965.5 L1266.4 965.7 L1267.4 965.8 L1268.4 966.0 L1269.4 966.1 L1270.4 966.3 L1271.4 966.5 L1272.4 966.6 L1273.4 966.8 L1274.4 966.9 L1275.4 967.1 L1276.4 967.2 L1277.4 967.4 L1278.4 967.5 L1279.4 967.7 L1280.4 967.8 L1281.4 968.0 L1282.4 968.1 L1283.4 968.3 L1284.4 968.4 L1285.4 968.6 L1286.4 968.7 L1287.4 968.8 L1288.4 969.0 L1289.4 969.1 L1290.4 969.3 L1291.4 969.4 L1292.4 969.6 L1293.4 969.7 L1294.4 969.8 L1295.4 970.0 L1296.4 970.1 L1297.4 970.2 L1298.4 970.4 L1299.4 970.5 L1300.4 970.6 L1301.4 970.8 L1302.4 970.9 L1303.4 971.1 L1304.4 971.2 L1305.4 971.3 L1306.4 971.4 L1307.4 971.6 L1308.4 971.7 L1309.4 971.8 L1310.4 972.0 L1311.4 972.1 L1312.4 972.2 L1313.4 972.3 L1314.4 972.5 L1315.4 972.6 L1316.4 972.7 L1317.4 972.8 L1318.4 973.0 L1319.4 973.1 L1320.4 973.2 L1321.4 973.3 L1322.4 973.4 L1323.4 973.6 L1324.4 973.7 L1325.4 973.8 L1326.4 973.9 L1327.4 974.0 L1328.4 974.2 L1329.4 974.3 L1330.4 974.4 L1331.4 974.5 L1332.4 974.6 L1333.4 974.7 L1334.4 974.8 L1335.4 975.0 L1336.4 975.1 L1337.4 975.2 L1338.4 975.3 L1339.4 975.4 L1340.4 975.5 L1341.4 975.6 L1342.4 975.7 L1343.4 975.8 L1344.4 975.9 L1345.4 976.0 L1346.4 976.1 L1347.4 976.3 L1348.4 976.4 L1349.4 976.5 L1350.4 976.6 L1351.4 976.7 L1352.4 976.8 L1353.4 976.9 L1354.4 977.0 L1355.4 977.1 L1356.4 977.2 L1357.4 977.3 L1358.4 977.4 L1359.4 977.5 L1360.4 977.6 L1361.4 977.7 L1362.4 977.8 L1363.4 977.9 L1364.4 977.9 L1365.4 978.0 L1366.4 978.1 L1367.4 978.2 L1368.4 978.3 L1369.4 978.4 L1370.4 978.5 L1371.4 978.6 L1372.4 978.7 L1373.4 978.8 L1374.4 978.9 L1375.4 979.0 L1376.4 979.0 L1377.4 979.1 L1378.4 979.2 L1379.4 979.3 L1380.4 979.4 L1381.4 979.5 L1382.4 979.6 L1383.4 979.6 L1384.4 979.7 L1385.4 979.8 L1386.4 979.9 L1387.4 980.0 L1388.4 980.1 L1389.4 980.1 L1390.4 980.2 L1391.4 980.3 L1392.4 980.4 L1393.4 980.5 L1394.4 980.5 L1395.4 980.6 L1396.4 980.7 L1397.4 980.8 L1398.4 980.9 L1399.4 980.9 L1400.4 981.0 L1401.4 981.1 L1402.4 981.2 L1403.4 981.2 L1404.4 981.3 L1405.4 981.4 L1406.4 981.5 L1407.4 981.5 L1408.4 981.6 L1409.4 981.7 L1410.4 981.7 L1411.4 981.8 L1412.4 981.9 L1413.4 982.0 L1414.4 982.0 L1415.4 982.1 L1416.4 982.2 L1417.4 982.2 L1418.4 982.3 L1419.4 982.4 L1420.4 982.4 L1421.4 982.5 L1422.4 982.6 L1423.4 982.6 L1424.4 982.7 L1425.4 982.8 L1426.4 982.8 L1427.4 982.9 L1428.4 982.9 L1429.4 983.0 L1430.4 983.1 L1431.4 983.1 L1432.4 983.2 L1433.4 983.3 L1434.4 983.3 L1435.4 983.4 L1436.4 983.4 L1437.4 983.5 L1438.4 983.6 L1439.4 983.6 L1440.4 983.7 L1441.4 983.7 L1442.4 983.8 L1443.4 983.8 L1444.4 983.9 L1445.4 984.0 L1446.4 984.0 L1447.4 984.1 L1448.4 984.1 L1449.4 984.2 L1450.4 984.2 L1451.4 984.3 L1452.4 984.3 L1453.4 984.4 L1454.4 984.4 L1455.4 984.5 L1456.4 984.5 L1457.4 984.6 L1458.4 984.6 L1459.4 984.7 L1460.4 984.7 L1461.4 984.8 L1462.4 984.8 L1463.4 984.9 L1464.4 984.9 L1465.4 985.0 L1466.4 985.0 L1467.4 985.1 L1468.4 985.1 L1469.4 985.2 L1470.4 985.2 L1471.4 985.3 L1472.4 985.3 L1473.4 985.4 L1474.4 985.4 L1475.4 985.5 L1476.4 985.5 L1477.4 985.6 L1478.4 985.6 L1479.4 985.6 L1480.4 985.7 L1481.4 985.7 L1482.4 985.8 L1483.4 985.8 L1484.4 985.9 L1485.4 985.9 L1486.4 985.9 L1487.4 986.0 L1488.4 986.0 L1489.4 986.1 L1490.4 986.1 L1491.4 986.1 L1492.4 986.2 L1493.4 986.2 L1494.4 986.3 L1495.4 986.3 L1496.4 986.3 L1497.4 986.4 L1498.4 986.4 L1499.4 986.5 L1500.4 986.5 L1501.4 986.5 L1502.4 986.6 L1503.4 986.6 L1504.4 986.6 L1505.4 986.7 L1506.4 986.7 L1507.4 986.7 L1508.4 986.8 L1509.4 986.8 L1510.4 986.8 L1511.4 986.9 L1512.4 986.9 L1513.4 986.9 L1514.4 987.0 L1515.4 987.0 L1516.4 987.0 L1517.4 987.1 L1518.4 987.1 L1519.4 987.1 L1520.4 987.2 L1521.4 987.2 L1522.4 987.2 L1523.4 987.3 L1524.4 987.3 L1525.4 987.3 L1526.4 987.4 L1527.4 987.4 L1528.4 987.4 L1529.4 987.5 L1530.4 987.5 L1531.4 987.5 L1532.4 987.5 L1533.4 987.6 L1534.4 987.6 L1535.4 987.6 L1536.4 987.7 L1537.4 987.7 L1538.4 987.7 L1539.4 987.7 L1540.4 987.8 L1541.4 987.8 L1542.4 987.8 L1543.4 987.8 L1544.4 987.9 L1545.4 987.9 L1546.4 987.9 L1547.4 987.9 L1548.4 988.0 L1549.4 988.0 L1550.4 988.0 L1551.4 988.0 L1552.4 988.1 L1553.4 988.1 L1554.4 988.1 L1555.4 988.1 L1556.4 988.2 L1557.4 988.2 L1558.4 988.2 L1559.4 988.2 L1560.4 988.3 L1561.4 988.3 L1562.4 988.3 L1563.4 988.3 L1564.4 988.3 L1565.4 988.4 L1566.4 988.4 L1567.4 988.4 L1568.4 988.4 L1569.4 988.5 L1570.4 988.5 L1571.4 988.5 L1572.4 988.5 L1573.4 988.5 L1574.4 988.6 L1575.4 988.6 L1576.4 988.6 L1577.4 988.6 L1578.4 988.6 L1579.4 988.7 L1580.4 988.7 L1581.4 988.7 L1582.4 988.7 L1583.4 988.7 L1584.4 988.8 L1585.4 988.8 L1586.4 988.8 L1587.4 988.8 L1588.4 988.8 L1589.4 988.8 L1590.4 988.9 L1591.4 988.9 L1592.4 988.9 L1593.4 988.9 L1594.4 988.9 L1595.4 988.9 L1596.0 989.0" stroke="#000000"/>
</g>
<rect x="144.25" y="1113" width="4.0" height="9" fill="#000"/>
<rect x="240.85" y="1113" width="4.1" height="19.6" fill="#000"/>
<rect x="337.55" y="1113" width="4.0" height="9" fill="#000"/>
<rect x="434.15" y="1113" width="4.1" height="19.6" fill="#000"/>
<rect x="530.85" y="1113" width="4.0" height="9" fill="#000"/>
<rect x="627.45" y="1113" width="4.1" height="19.6" fill="#000"/>
<rect x="724.15" y="1113" width="4.0" height="9" fill="#000"/>
<rect x="820.75" y="1113" width="4.1" height="19.6" fill="#000"/>
<rect x="917.45" y="1113" width="4.0" height="9" fill="#000"/>
<rect x="1014.05" y="1113" width="4.1" height="19.6" fill="#000"/>
<rect x="1110.75" y="1113" width="4.0" height="9" fill="#000"/>
<rect x="1207.35" y="1113" width="4.1" height="19.6" fill="#000"/>
<rect x="1304.05" y="1113" width="4.0" height="9" fill="#000"/>
<rect x="1400.65" y="1113" width="4.1" height="19.6" fill="#000"/>
<rect x="1497.35" y="1113" width="4.0" height="9" fill="#000"/>
<rect x="1593.95" y="1113" width="4.1" height="19.6" fill="#000"/>
<text x="243.40" y="1180" class="tl">150</text>
<text x="436.70" y="1180" class="tl">200</text>
<text x="630.00" y="1180" class="tl">250</text>
<text x="823.30" y="1180" class="tl">300</text>
<text x="1016.60" y="1180" class="tl">350</text>
<text x="1209.90" y="1180" class="tl">400</text>
<text x="1403.20" y="1180" class="tl">450</text>
<text x="1596.50" y="1180" class="tl">500</text>
<text transform="translate(1190 257.7) scale(1 1.06)" class="lab">PtSnIn/1.5Ce-Al</text>
<text transform="translate(1192.6 600.2) scale(1 1.06)" class="lab">PtSnIn/0.0Ce-Al</text>
<text transform="translate(1311.8 927.7) scale(1 1.06)" class="lab">Al</text>
<text x="588.5" y="1279.3" class="ax">Temperature</text>
<text x="902.7" y="1279.3" class="par">（</text>
<text x="958.3" y="1256.6" class="deg">°</text>
<text x="976" y="1279.6" class="ax" style="font-size:62.5px" textLength="47.6" lengthAdjust="spacingAndGlyphs">C</text>
<text x="1018.4" y="1279.3" class="par">）</text>
<text transform="translate(64.4 713.2) rotate(-90)" x="0" y="0" class="ax" style="font-size:62px">Intensity (a.u.)</text>
</svg>
</body></html>
